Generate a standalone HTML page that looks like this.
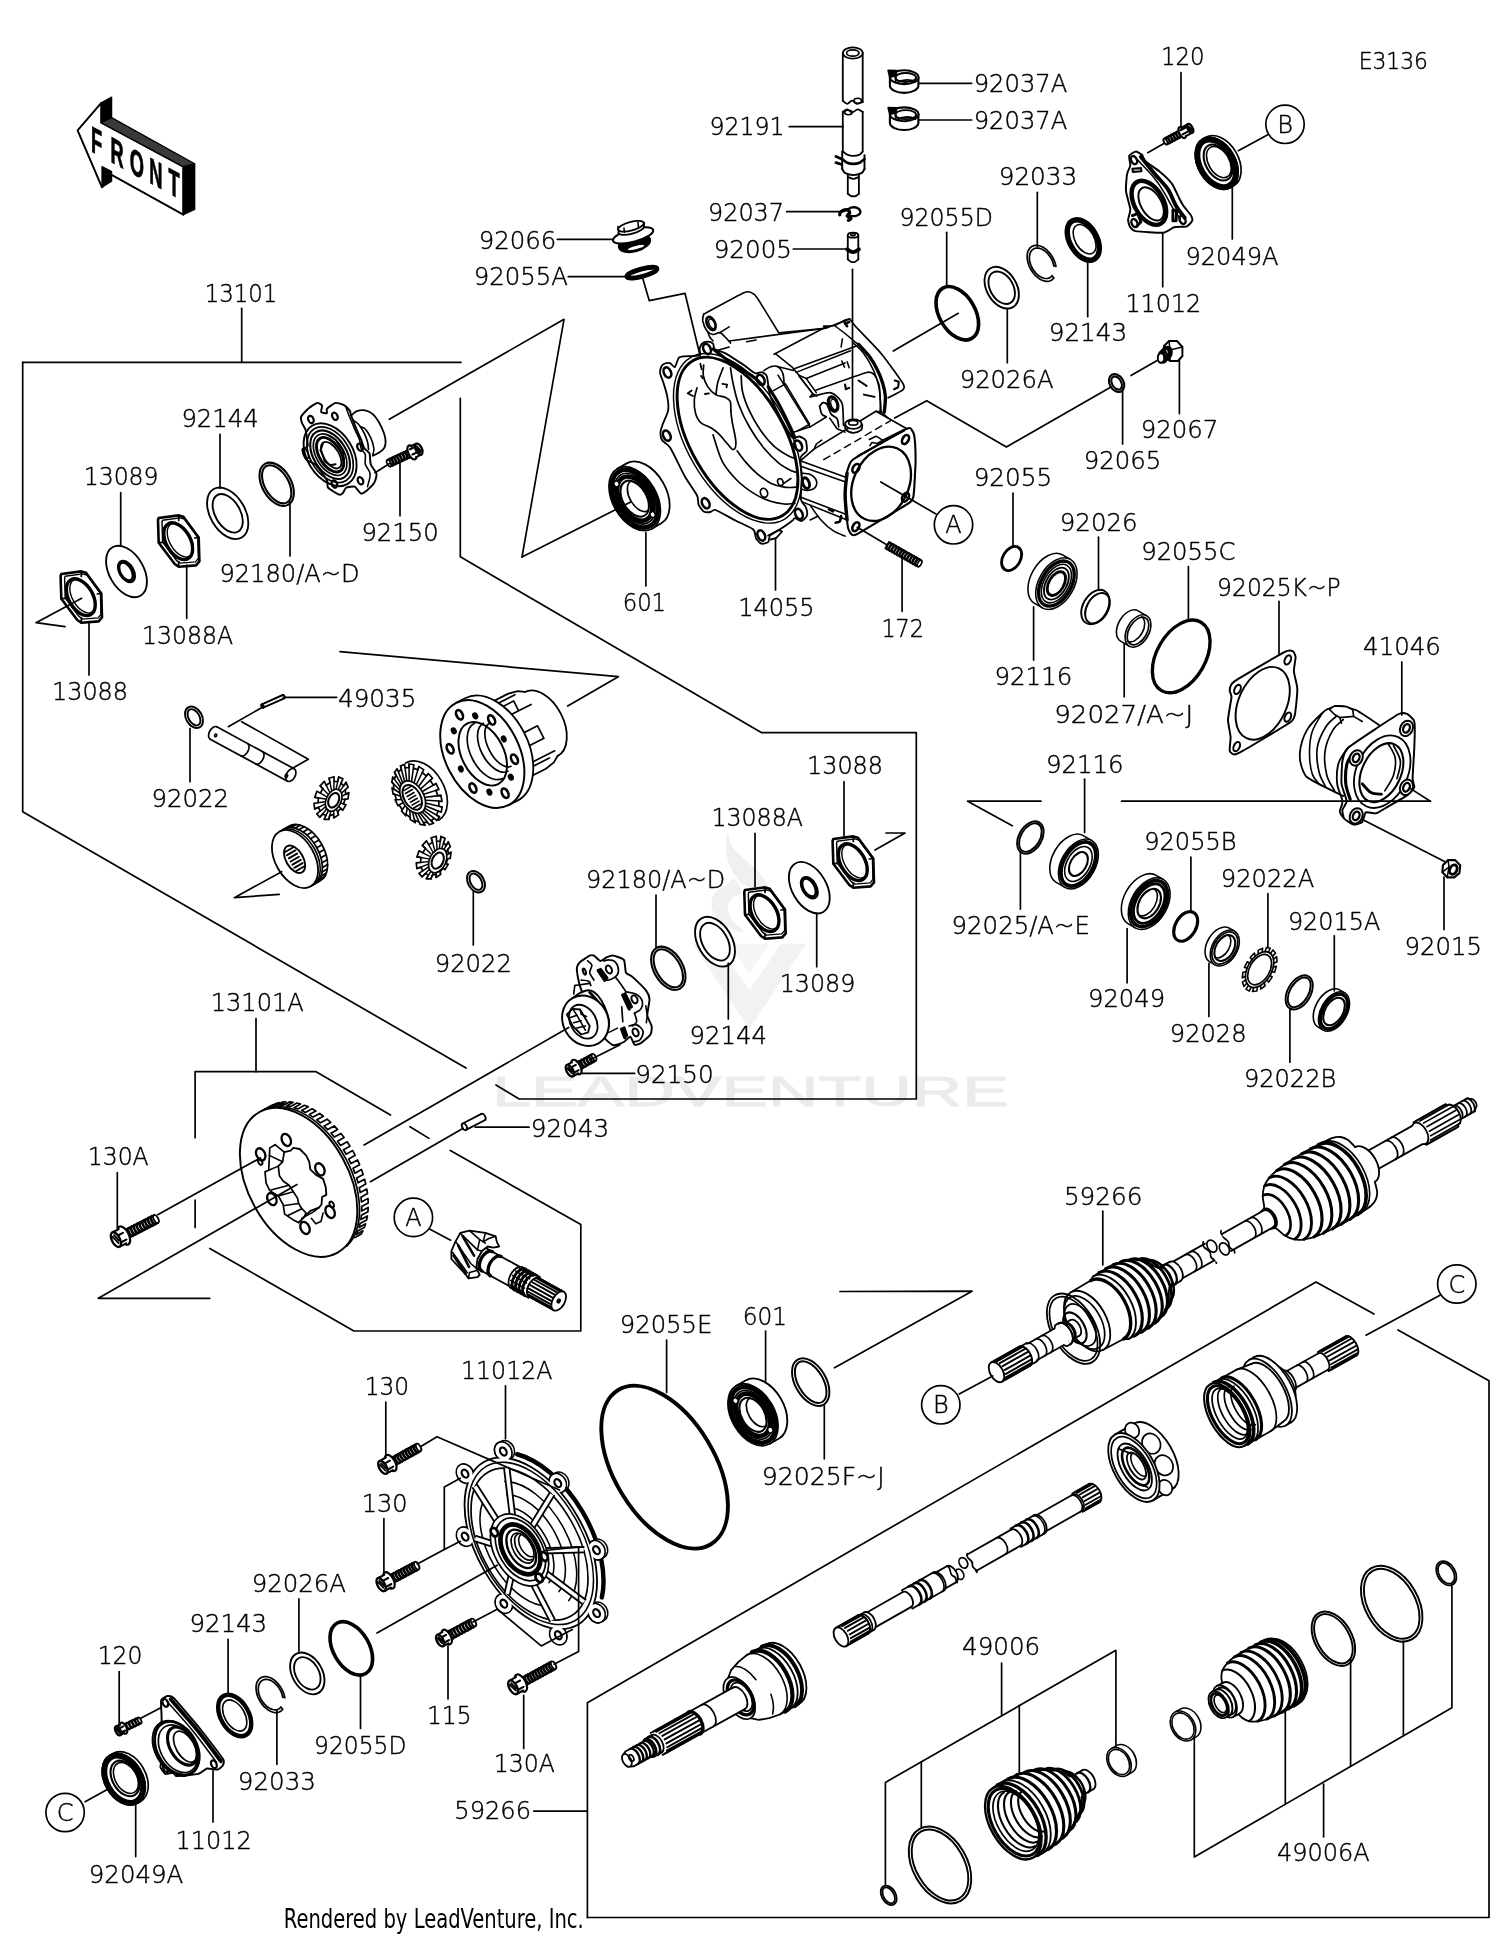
<!DOCTYPE html>
<html><head><meta charset="utf-8"><title>Parts diagram E3136</title>
<style>
html,body{margin:0;padding:0;background:#fff}
svg{display:block;filter:grayscale(1)}
svg text{fill:#000;stroke:none}
svg text.lb{stroke:#000;stroke-width:0.45px}
</style></head><body>
<svg width="1500" height="1938" viewBox="0 0 1500 1938" fill="none" stroke="#000" stroke-linecap="round" stroke-linejoin="round" font-family="'DejaVu Sans Light','DejaVu Sans','Liberation Sans',sans-serif" font-weight="200">
<rect x="0" y="0" width="1500" height="1938" fill="#fff" stroke="none"/>
<g stroke="none" fill="#ececec">
<text x="750.5" y="1105.5" font-size="42.6" text-anchor="middle" font-family="'Liberation Sans',sans-serif" font-weight="400" textLength="517" lengthAdjust="spacingAndGlyphs" style="fill:#ebebeb;stroke:#ebebeb;stroke-width:0.9px">LEADVENTURE</text>
<path d="M727.7,832.5 C728.6,832.1 729.0,841.8 731.7,846.1 C734.3,850.5 739.0,854.1 743.6,858.6 C748.2,863.2 754.9,868.1 759.5,873.4 C764.0,878.7 768.3,884.9 770.8,890.4 C773.4,895.9 774.8,901.4 774.8,906.3 C774.8,911.2 773.0,916.3 770.8,919.9 C768.7,923.5 764.8,927.5 761.8,927.9 C758.7,928.3 753.1,924.7 752.7,922.2 C752.3,919.7 758.4,916.9 759.5,913.1 C760.6,909.3 761.0,903.7 759.5,899.5 C758.0,895.3 753.4,890.8 750.4,888.1 C747.4,885.5 744.0,885.9 741.3,883.6 C738.7,881.3 736.6,877.9 734.5,874.5 C732.4,871.1 730.2,867.5 728.8,863.2 C727.4,858.8 726.2,853.5 726.0,848.4 C725.8,843.3 726.7,832.9 727.7,832.5Z M734.5,879.1 C731.9,877.9 728.8,883.4 725.4,885.9 C722.0,888.3 716.3,890.2 714.1,893.8 C711.8,897.4 711.0,903.1 711.8,907.4 C712.6,911.8 715.4,916.3 718.6,919.9 C721.8,923.5 726.9,927.1 731.1,929.0 C735.3,930.9 743.4,932.8 743.6,931.3 C743.8,929.8 734.9,923.9 732.2,919.9 C729.6,916.0 727.5,911.2 727.7,907.4 C727.9,903.7 731.1,899.7 733.4,897.2 C735.6,894.8 741.1,895.7 741.3,892.7 C741.5,889.6 737.2,880.2 734.5,879.1Z" fill="#f0f0f0"/>
<path d="M692.5,943.8 L717.5,943.8 L749.3,990.3 L781.1,943.8 L806.1,943.8 L749.3,1028.9Z" fill="#f2f2f2"/>
<path d="M728.8,943.8 L769.7,943.8 L749.3,973.3Z" fill="#f5f5f5"/>
</g>
<g transform="translate(227.7 513.3) rotate(-30)" >
<ellipse cx="0.0" cy="0.0" rx="17.5" ry="28.0" stroke-width="1.89" fill="#fff"/>
<ellipse cx="0.0" cy="0.0" rx="12.5" ry="21.0" stroke-width="1.89" fill="none"/>
</g>
<g transform="translate(276.7 484.3) rotate(-30)" >
<ellipse cx="0.0" cy="0.0" rx="14.5" ry="23.5" stroke-width="2.09" fill="none"/>
<ellipse cx="0.0" cy="0.0" rx="11.9" ry="20.9" stroke-width="2.09" fill="none"/>
</g>
<g transform="translate(126.5 571.5) rotate(-30)" >
<ellipse cx="0.0" cy="0.0" rx="17.2" ry="28.0" stroke-width="1.89" fill="#fff"/>
<ellipse cx="0.0" cy="0.0" rx="7.2" ry="11.8" stroke-width="1.89" fill="none"/>
</g>
<g transform="translate(126.0 571.5) rotate(-30)" >
<ellipse cx="0.0" cy="0.0" rx="5.8" ry="10.0" stroke-width="2.86" fill="none"/>
</g>
<g transform="translate(668.3 968.3) rotate(-30)" >
<ellipse cx="0.0" cy="0.0" rx="14.5" ry="23.5" stroke-width="2.09" fill="none"/>
<ellipse cx="0.0" cy="0.0" rx="11.9" ry="20.9" stroke-width="2.09" fill="none"/>
</g>
<g transform="translate(715.0 941.7) rotate(-30)" >
<ellipse cx="0.0" cy="0.0" rx="17.0" ry="27.0" stroke-width="1.89" fill="#fff"/>
<ellipse cx="0.0" cy="0.0" rx="12.5" ry="20.5" stroke-width="1.89" fill="none"/>
</g>
<g transform="translate(809.3 887.7) rotate(-30)" >
<ellipse cx="0.0" cy="0.0" rx="17.2" ry="28.0" stroke-width="1.89" fill="#fff"/>
<ellipse cx="0.0" cy="0.0" rx="7.2" ry="11.8" stroke-width="1.89" fill="none"/>
</g>
<g transform="translate(809.0 887.5) rotate(-30)" >
<ellipse cx="0.0" cy="0.0" rx="5.8" ry="10.0" stroke-width="2.86" fill="none"/>
</g>
<g transform="translate(957.3 313.3) rotate(-30)" >
<ellipse cx="0.0" cy="0.0" rx="18.0" ry="29.0" stroke-width="3.64" fill="none"/>
</g>
<g transform="translate(1001.7 287.7) rotate(-30)" >
<ellipse cx="0.0" cy="0.0" rx="15.0" ry="22.5" stroke-width="1.89" fill="#fff"/>
<ellipse cx="0.0" cy="0.0" rx="11.5" ry="17.5" stroke-width="1.89" fill="none"/>
</g>
<g transform="translate(1083.3 240.0) rotate(-30)" >
<ellipse cx="0.0" cy="0.0" rx="13.5" ry="22.0" stroke-width="5.46" fill="none"/>
</g>
<g transform="translate(1083.3 240.0) rotate(-30)" >
<ellipse cx="1.5" cy="0.0" rx="9.5" ry="16.0" stroke-width="1.56" fill="none"/>
</g>
<g transform="translate(1011.6 558.5) rotate(30)" >
<ellipse cx="0.0" cy="0.0" rx="8.8" ry="13.0" stroke-width="2.86" fill="none"/>
</g>
<g transform="translate(1056.4 583.6) rotate(30)" >
<path d="M0,-28.0 L-9.0,-28.0 A17.6,28.0 0 0 0 -9.0,28.0 L0,28.0" stroke-width="1.56" fill="#fff"/>
<ellipse cx="0.0" cy="0.0" rx="17.6" ry="28.0" stroke-width="1.56" fill="#fff"/>
<ellipse cx="0.0" cy="0.0" rx="15.0" ry="24.5" stroke-width="3.38" fill="none"/>
<ellipse cx="0.0" cy="0.0" rx="12.5" ry="21.0" stroke-width="1.56" fill="none"/>
<ellipse cx="0.0" cy="0.0" rx="10.3" ry="17.5" stroke-width="1.82" fill="none"/>
<ellipse cx="0.0" cy="0.0" rx="7.5" ry="13.0" stroke-width="2.86" fill="none"/>
</g>
<g transform="translate(1096.4 607.6) rotate(30)" >
<ellipse cx="-1.2" cy="0.0" rx="12.3" ry="18.5" stroke-width="1.95" fill="none"/>
<ellipse cx="1.2" cy="0.0" rx="10.6" ry="16.5" stroke-width="1.95" fill="none"/>
</g>
<g transform="translate(1138.0 631.0) rotate(30)" >
<path d="M0,-17.5 L-10.0,-17.5 A11.0,17.5 0 0 0 -10.0,17.5 L0,17.5" stroke-width="1.56" fill="#fff"/>
<ellipse cx="0.0" cy="0.0" rx="11.0" ry="17.5" stroke-width="1.56" fill="#fff"/>
<ellipse cx="0.0" cy="0.0" rx="9.0" ry="15.0" stroke-width="1.69" fill="none"/>
</g>
<g transform="translate(1138.0 631.0) rotate(30)" >
<path d="M-4.0,-14.0 A8.5,14.0 0 0 1 -4.0,14.0" stroke-width="1.56"/>
</g>
<g transform="translate(1181.2 656.4) rotate(30)" >
<ellipse cx="0.0" cy="0.0" rx="24.3" ry="39.5" stroke-width="3.38" fill="none"/>
</g>
<g transform="translate(1030.4 837.6) rotate(30)" >
<ellipse cx="0.0" cy="0.0" rx="11.5" ry="17.5" stroke-width="1.94" fill="none"/>
<ellipse cx="0.0" cy="0.0" rx="9.5" ry="15.5" stroke-width="1.94" fill="none"/>
</g>
<g transform="translate(1078.4 864.0) rotate(30)" >
<path d="M0,-27.0 L-10.0,-27.0 A17.0,27.0 0 0 0 -10.0,27.0 L0,27.0" stroke-width="1.56" fill="#fff"/>
<ellipse cx="0.0" cy="0.0" rx="17.0" ry="27.0" stroke-width="1.56" fill="#fff"/>
<ellipse cx="0.0" cy="0.0" rx="14.8" ry="24.0" stroke-width="3.90" fill="none"/>
<ellipse cx="0.0" cy="0.0" rx="11.5" ry="19.0" stroke-width="1.56" fill="none"/>
<ellipse cx="0.0" cy="0.0" rx="8.0" ry="13.0" stroke-width="2.08" fill="none"/>
</g>
<g transform="translate(1149.2 903.6) rotate(30)" >
<path d="M0,-28.0 L-8.0,-28.0 A18.0,28.0 0 0 0 -8.0,28.0 L0,28.0" stroke-width="1.56" fill="#fff"/>
<ellipse cx="0.0" cy="0.0" rx="18.0" ry="28.0" stroke-width="1.56" fill="#fff"/>
<ellipse cx="0.0" cy="0.0" rx="15.8" ry="25.0" stroke-width="3.64" fill="none"/>
<ellipse cx="0.0" cy="0.0" rx="13.3" ry="21.5" stroke-width="2.86" fill="none"/>
<ellipse cx="0.0" cy="0.0" rx="10.0" ry="16.0" stroke-width="2.08" fill="none"/>
</g>
<g transform="translate(1149.2 903.6) rotate(30)" >
<path d="M-3.0,-15.0 A9.0,15.0 0 0 1 -3.0,15.0" stroke-width="1.56"/>
</g>
<g transform="translate(1185.7 926.4) rotate(30)" >
<ellipse cx="0.0" cy="0.0" rx="10.3" ry="16.0" stroke-width="3.12" fill="none"/>
</g>
<g transform="translate(1224.8 948.0) rotate(30)" >
<path d="M0,-19.5 L-6.0,-19.5 A12.5,19.5 0 0 0 -6.0,19.5 L0,19.5" stroke-width="1.56" fill="#fff"/>
<ellipse cx="0.0" cy="0.0" rx="12.5" ry="19.5" stroke-width="1.56" fill="#fff"/>
<ellipse cx="0.0" cy="0.0" rx="11.0" ry="17.5" stroke-width="1.69" fill="none"/>
<ellipse cx="0.0" cy="0.0" rx="9.0" ry="14.0" stroke-width="2.08" fill="none"/>
</g>
<g transform="translate(1224.8 948.0) rotate(30)" >
<path d="M-4.0,-13.0 A8.0,13.0 0 0 1 -4.0,13.0" stroke-width="1.56"/>
</g>
<g transform="translate(1299.2 992.4) rotate(30)" >
<ellipse cx="0.0" cy="0.0" rx="11.5" ry="18.5" stroke-width="1.94" fill="none"/>
<ellipse cx="0.0" cy="0.0" rx="9.3" ry="16.3" stroke-width="1.94" fill="none"/>
</g>
<g transform="translate(1334.0 1011.5) rotate(30)" >
<path d="M0,-21.5 L-6.0,-21.5 A13.0,21.5 0 0 0 -6.0,21.5 L0,21.5" stroke-width="1.56" fill="#fff"/>
<ellipse cx="0.0" cy="0.0" rx="13.0" ry="21.5" stroke-width="1.56" fill="#fff"/>
<ellipse cx="0.0" cy="0.0" rx="11.3" ry="19.0" stroke-width="3.38" fill="none"/>
<ellipse cx="0.0" cy="0.0" rx="9.0" ry="15.0" stroke-width="2.08" fill="none"/>
</g>
<g transform="translate(1259.6 969.6) rotate(30)" >
<path d="M11.9,0.0 L14.6,0.0 L14.1,6.3 L11.5,5.1M10.5,9.1 L12.9,11.2 L10.7,16.3 L8.7,13.3M6.7,16.0 L8.3,19.8 L4.8,22.6 L3.9,18.4M1.4,19.4 L1.8,23.8 L-2.1,23.7 L-1.7,19.3M-4.2,18.2 L-5.2,22.4 L-8.6,19.4 L-7.0,15.8M-8.9,12.9 L-10.9,15.9 L-13.1,10.6 L-10.6,8.6M-11.5,4.7 L-14.2,5.7 L-14.6,-0.6 L-11.9,-0.5M-11.5,-4.7 L-14.2,-5.7 L-12.8,-11.7 L-10.4,-9.5M-8.9,-12.9 L-10.9,-15.9 L-8.0,-20.1 L-6.5,-16.3M-4.2,-18.2 L-5.2,-22.4 L-1.4,-23.9 L-1.1,-19.4M1.4,-19.4 L1.8,-23.8 L5.5,-22.2 L4.5,-18.1M6.7,-16.0 L8.3,-19.8 L11.2,-15.5 L9.1,-12.6M10.5,-9.1 L12.9,-11.2 L14.3,-5.2 L11.6,-4.2" stroke-width="1.56"/>
<ellipse cx="0.0" cy="0.0" rx="11.9" ry="19.5" stroke-width="1.69" fill="none"/>
<ellipse cx="0.0" cy="0.0" rx="10.0" ry="16.5" stroke-width="1.69" fill="none"/>
</g>
<g transform="translate(351.3 1648.4) rotate(-30)" >
<ellipse cx="0.0" cy="0.0" rx="18.0" ry="29.0" stroke-width="3.64" fill="none"/>
</g>
<g transform="translate(307.3 1673.4) rotate(-30)" >
<ellipse cx="0.0" cy="0.0" rx="15.0" ry="22.5" stroke-width="1.89" fill="#fff"/>
<ellipse cx="0.0" cy="0.0" rx="11.5" ry="17.5" stroke-width="1.89" fill="none"/>
</g>
<g transform="translate(234.7 1715.5) rotate(-30)" >
<ellipse cx="0.0" cy="0.0" rx="14.0" ry="22.5" stroke-width="4.42" fill="none"/>
</g>
<g transform="translate(234.7 1715.5) rotate(-30)" >
<ellipse cx="0.0" cy="0.0" rx="10.0" ry="17.0" stroke-width="1.56" fill="none"/>
</g>
<g transform="translate(810.7 1382.1) rotate(-30)" >
<ellipse cx="0.0" cy="0.0" rx="15.5" ry="26.0" stroke-width="1.94" fill="none"/>
<ellipse cx="0.0" cy="0.0" rx="12.5" ry="23.0" stroke-width="1.94" fill="none"/>
</g>
<g transform="translate(888.7 1895.3) rotate(-30)" >
<ellipse cx="0.0" cy="0.0" rx="7.0" ry="10.5" stroke-width="1.79" fill="none"/>
<ellipse cx="0.0" cy="0.0" rx="5.2" ry="8.7" stroke-width="1.79" fill="none"/>
</g>
<g transform="translate(940.0 1865.0) rotate(-30)" >
<ellipse cx="0.0" cy="0.0" rx="27.0" ry="41.5" stroke-width="1.94" fill="none"/>
<ellipse cx="0.0" cy="0.0" rx="24.0" ry="38.5" stroke-width="1.94" fill="none"/>
</g>
<g transform="translate(1333.4 1638.7) rotate(-30)" >
<ellipse cx="0.0" cy="0.0" rx="18.5" ry="29.5" stroke-width="1.94" fill="none"/>
<ellipse cx="0.0" cy="0.0" rx="16.0" ry="27.0" stroke-width="1.94" fill="none"/>
</g>
<g transform="translate(1391.7 1603.7) rotate(-30)" >
<ellipse cx="0.0" cy="0.0" rx="26.5" ry="41.0" stroke-width="1.94" fill="none"/>
<ellipse cx="0.0" cy="0.0" rx="23.5" ry="38.0" stroke-width="1.94" fill="none"/>
</g>
<g transform="translate(1446.3 1573.3) rotate(-30)" >
<ellipse cx="0.0" cy="0.0" rx="9.0" ry="13.0" stroke-width="1.79" fill="none"/>
<ellipse cx="0.0" cy="0.0" rx="7.2" ry="11.2" stroke-width="1.79" fill="none"/>
</g>
<g transform="translate(1119.0 1762.0) rotate(-30)" >
<path d="M0,-15.5 L6.0,-15.5 A11.0,15.5 0 0 1 6.0,15.5 L0,15.5" stroke-width="1.56" fill="#fff"/>
<ellipse cx="0.0" cy="0.0" rx="11.0" ry="15.5" stroke-width="1.56" fill="#fff"/>
<ellipse cx="0.0" cy="0.0" rx="9.5" ry="13.5" stroke-width="1.56" fill="none"/>
</g>
<g transform="translate(1183.0 1726.0) rotate(-30)" >
<path d="M0,-16.0 L6.0,-16.0 A11.5,16.0 0 0 1 6.0,16.0 L0,16.0" stroke-width="1.56" fill="#fff"/>
<ellipse cx="0.0" cy="0.0" rx="11.5" ry="16.0" stroke-width="1.56" fill="#fff"/>
<ellipse cx="0.0" cy="0.0" rx="10.0" ry="14.0" stroke-width="1.56" fill="none"/>
</g>
<g transform="translate(194.0 717.3) rotate(-30)" >
<ellipse cx="0.0" cy="0.0" rx="8.0" ry="11.5" stroke-width="1.94" fill="none"/>
<ellipse cx="0.0" cy="0.0" rx="5.4" ry="8.9" stroke-width="1.94" fill="none"/>
</g>
<g transform="translate(476.0 881.7) rotate(-30)" >
<ellipse cx="0.0" cy="0.0" rx="8.0" ry="11.5" stroke-width="1.94" fill="none"/>
<ellipse cx="0.0" cy="0.0" rx="5.4" ry="8.9" stroke-width="1.94" fill="none"/>
</g>
<g transform="translate(1116.6 383.0) rotate(-30)" >
<ellipse cx="0.0" cy="0.0" rx="7.0" ry="9.5" stroke-width="2.09" fill="none"/>
<ellipse cx="0.0" cy="0.0" rx="4.6" ry="7.1" stroke-width="2.09" fill="none"/>
</g>
<g transform="translate(1041.7 263.3) rotate(-30)" >
<path d="M3.2,18.8 L1.6,19.3 L-0.2,19.5 L-1.9,19.3 L-3.6,18.7 L-5.2,17.8 L-6.7,16.5 L-8.1,14.9 L-9.3,13.0 L-10.3,10.9 L-11.2,8.6 L-11.9,6.1 L-12.3,3.6 L-12.5,0.9 L-12.4,-1.8 L-12.2,-4.4 L-11.7,-7.0 L-10.9,-9.4 L-10.0,-11.7 L-8.9,-13.7 L-7.6,-15.5 L-6.2,-17.0 L-4.6,-18.1 L-3.0,-18.9 L-1.3,-19.4 L0.4,-19.5 L2.1,-19.2 L3.8,-18.6 L5.4,-17.6 L6.9,-16.3 L8.2,-14.7 L9.5,-12.8 L10.5,-10.6 L11.3,-8.3 L11.9,-5.8 L12.3,-3.2 L12.5,-0.5 L12.4,2.2 L12.1,4.8 L11.6,7.3 L10.8,9.8M2.7,15.9 L1.3,16.4 L-0.1,16.5 L-1.6,16.3 L-3.0,15.8 L-4.4,15.0 L-5.6,14.0 L-6.8,12.6 L-7.9,11.0 L-8.8,9.3 L-9.5,7.3 L-10.0,5.2 L-10.4,3.0 L-10.6,0.8 L-10.5,-1.5 L-10.3,-3.7 L-9.9,-5.9 L-9.3,-8.0 L-8.5,-9.9 L-7.5,-11.6 L-6.4,-13.1 L-5.2,-14.3 L-3.9,-15.3 L-2.5,-16.0 L-1.1,-16.4 L0.3,-16.5 L1.8,-16.3 L3.2,-15.7 L4.6,-14.9 L5.8,-13.8 L7.0,-12.4 L8.0,-10.8 L8.9,-9.0 L9.6,-7.0 L10.1,-4.9 L10.4,-2.7 L10.6,-0.4 L10.5,1.8 L10.3,4.1 L9.8,6.2 L9.2,8.2M3.2,18.8 L2.7,15.9 M10.8,9.8 L9.2,8.2" stroke-width="1.69"/>
</g>
<g transform="translate(270.6 1694.6) rotate(-30)" >
<path d="M3.2,18.8 L1.6,19.3 L-0.2,19.5 L-1.9,19.3 L-3.6,18.7 L-5.2,17.8 L-6.7,16.5 L-8.1,14.9 L-9.3,13.0 L-10.3,10.9 L-11.2,8.6 L-11.9,6.1 L-12.3,3.6 L-12.5,0.9 L-12.4,-1.8 L-12.2,-4.4 L-11.7,-7.0 L-10.9,-9.4 L-10.0,-11.7 L-8.9,-13.7 L-7.6,-15.5 L-6.2,-17.0 L-4.6,-18.1 L-3.0,-18.9 L-1.3,-19.4 L0.4,-19.5 L2.1,-19.2 L3.8,-18.6 L5.4,-17.6 L6.9,-16.3 L8.2,-14.7 L9.5,-12.8 L10.5,-10.6 L11.3,-8.3 L11.9,-5.8 L12.3,-3.2 L12.5,-0.5 L12.4,2.2 L12.1,4.8 L11.6,7.3 L10.8,9.8M2.7,15.9 L1.3,16.4 L-0.1,16.5 L-1.6,16.3 L-3.0,15.8 L-4.4,15.0 L-5.6,14.0 L-6.8,12.6 L-7.9,11.0 L-8.8,9.3 L-9.5,7.3 L-10.0,5.2 L-10.4,3.0 L-10.6,0.8 L-10.5,-1.5 L-10.3,-3.7 L-9.9,-5.9 L-9.3,-8.0 L-8.5,-9.9 L-7.5,-11.6 L-6.4,-13.1 L-5.2,-14.3 L-3.9,-15.3 L-2.5,-16.0 L-1.1,-16.4 L0.3,-16.5 L1.8,-16.3 L3.2,-15.7 L4.6,-14.9 L5.8,-13.8 L7.0,-12.4 L8.0,-10.8 L8.9,-9.0 L9.6,-7.0 L10.1,-4.9 L10.4,-2.7 L10.6,-0.4 L10.5,1.8 L10.3,4.1 L9.8,6.2 L9.2,8.2M3.2,18.8 L2.7,15.9 M10.8,9.8 L9.2,8.2" stroke-width="1.69"/>
</g>
<path d="M77.6,130.3 L101.3,102.9 L101.3,122.7 L183.3,166.7 L183.3,214.7 L111.6,174.9 L102.0,187.3Z" stroke-width="1.95" fill="#fff" />
<path d="M101.3,102.9 L111.6,97.1 L111.6,117.6 L101.3,122.7Z" stroke-width="1.30" fill="#000" />
<path d="M183.3,166.7 L194.7,163.7 L194.7,209.3 L183.3,214.7Z" stroke-width="1.30" fill="#000" />
<path d="M102.0,166.7 L111.6,171.7 L111.6,181.3 L102.0,187.3Z" stroke-width="1.30" fill="#000" />
<path d="M101.3,122.7 L111.6,117.6 L194.7,163.7 L183.3,166.7Z" stroke-width="1.30" fill="#3a3a3a" />
<g transform="matrix(1 0.537 0 1 91 124.8)" font-family="'Liberation Sans',sans-serif" font-weight="700" stroke="none">
<text x="0.0" y="26.5" font-size="36.5" style="stroke:#000;stroke-width:0.9px" transform="translate(0.0 0) scale(0.5 1) translate(0.0 0)">F</text>
<text x="19.4" y="26.5" font-size="36.5" style="stroke:#000;stroke-width:0.9px" transform="translate(19.4 0) scale(0.5 1) translate(-19.4 0)">R</text>
<text x="38.8" y="26.5" font-size="36.5" style="stroke:#000;stroke-width:0.9px" transform="translate(38.8 0) scale(0.5 1) translate(-38.8 0)">O</text>
<text x="58.2" y="26.5" font-size="36.5" style="stroke:#000;stroke-width:0.9px" transform="translate(58.2 0) scale(0.5 1) translate(-58.2 0)">N</text>
<text x="77.6" y="26.5" font-size="36.5" style="stroke:#000;stroke-width:0.9px" transform="translate(77.6 0) scale(0.5 1) translate(-77.6 0)">T</text>
</g>
<path d="M703.7,314.1 C707.7,312.0 739.1,294.8 743.9,292.7 C748.7,290.6 750.6,292.4 752.0,293.0 C753.3,293.5 754.6,294.1 757.3,298.0 C760.0,302.0 776.6,329.4 778.8,332.9" stroke-width="1.56" fill="none" />
<path d="M778.8,332.9 L825.7,328.2 L849.9,318.8" stroke-width="1.56" fill="none" />
<path d="M729.2,341.0 L825.7,328.2" stroke-width="1.56" fill="none" />
<path d="M746.6,341.7 L756.0,339.9" stroke-width="1.56" fill="none" />
<path d="M703.7,314.1 C703.5,315.3 702.2,318.1 702.7,320.9 C703.3,323.7 705.3,328.6 707.0,330.9 C708.7,333.2 710.9,334.2 713.1,334.5 C715.2,334.8 717.7,332.3 719.8,332.7 C721.8,333.1 723.3,335.2 725.1,337.0 C726.9,338.7 729.6,342.0 730.5,343.0" stroke-width="1.69" fill="none" />
<path d="M707.7,331.6 C708.0,332.5 708.8,335.4 709.7,337.0 C710.6,338.5 712.5,340.3 713.1,341.0" stroke-width="1.56" fill="none" />
<ellipse cx="711.0" cy="323.5" rx="4.0" ry="7.0" fill="none" stroke="#000" stroke-width="2.60" transform="rotate(-25 711.0 323.5)" />
<ellipse cx="712.0" cy="323.8" rx="2.7" ry="5.1" fill="none" stroke="#000" stroke-width="1.43" transform="rotate(-25 712.0 323.8)" />
<path d="M719.8,332.7 L729.2,326.9" stroke-width="1.56" fill="none" />
<path d="M717.1,350.4 L729.2,347.0" stroke-width="1.56" fill="none" />
<path d="M823.7,326.2 C824.7,326.1 832.2,326.1 834.4,325.5 C836.5,324.9 843.5,320.7 845.1,320.1 C846.7,319.6 849.4,319.2 850.5,319.9 C851.6,320.5 852.8,323.5 855.9,326.8 C858.9,330.2 876.7,348.0 881.3,353.7 C886.0,359.3 900.6,379.6 902.8,383.2 C905.0,386.8 904.6,388.1 903.1,389.6 C901.6,391.1 889.6,397.1 888.1,397.9" stroke-width="1.69" fill="none" />
<path d="M858.5,344.3 C860.3,346.3 866.1,352.1 869.3,356.3 C872.4,360.6 875.1,365.3 877.3,369.8 C879.6,374.2 881.3,378.7 882.7,383.2 C884.0,387.6 885.1,391.8 885.4,396.6 C885.6,401.4 884.5,409.4 884.3,412.0" stroke-width="3.38" fill="none" />
<path d="M853.2,342.9 C855.0,344.7 860.6,349.2 863.9,353.7 C867.3,358.1 870.8,364.4 873.3,369.8 C875.8,375.1 877.5,380.5 878.7,385.9 C879.8,391.2 880.1,397.5 880.3,402.0 C880.5,406.4 880.1,410.9 880.0,412.7" stroke-width="1.56" fill="none" />
<path d="M834.4,325.5 L845.1,333.5 L857.9,344.3" stroke-width="1.56" fill="none" />
<path d="M774.0,354.3 L826.3,326.8" stroke-width="1.56" fill="none" />
<path d="M793.5,369.1 L859.2,344.9" stroke-width="1.56" fill="none" />
<path d="M796.2,372.4 L850.5,350.7" stroke-width="1.56" fill="none" />
<path d="M806.2,378.5 L845.1,363.1" stroke-width="1.56" fill="none" />
<path d="M815.6,390.2 C819.9,388.7 861.7,373.7 866.6,372.4 C871.5,371.2 873.6,374.0 874.6,375.1 C875.7,376.2 878.8,382.8 879.3,385.9 C879.9,388.9 880.9,409.8 881.1,412.0" stroke-width="1.56" fill="none" />
<path d="M775.4,353.7 L792.1,367.1 L798.8,375.1 L812.9,393.9 L810.2,396.6" stroke-width="1.56" fill="none" />
<path d="M798.8,375.1 L806.2,378.5 L816.3,392.6" stroke-width="1.56" fill="none" />
<path d="M894.8,380.5 L898.8,381.8 L898.1,387.2 L894.1,389.2" stroke-width="2.08" fill="none" />
<path d="M842.4,338.9 L841.1,347.0" stroke-width="1.56" fill="none" />
<path d="M841.8,361.0 L844.5,367.1" stroke-width="1.56" fill="none" />
<path d="M847.1,361.7 L849.2,367.7" stroke-width="1.56" fill="none" />
<path d="M845.1,384.5 L845.8,389.2 L849.2,387.9" stroke-width="2.08" fill="none" />
<path d="M858.5,380.5 L866.6,385.9" stroke-width="1.95" fill="none" />
<path d="M863.9,394.6 L874.6,396.9" stroke-width="1.95" fill="none" />
<path d="M844.5,322.1 L847.1,326.2" stroke-width="2.60" fill="none" />
<path d="M845.1,323.5 L849.2,322.1" stroke-width="2.60" fill="none" />
<path d="M810.2,396.9 C812.4,396.4 825.9,392.6 829.0,392.6 C832.2,392.5 835.5,395.2 837.1,396.6 C838.6,398.0 841.7,401.3 842.4,404.6 C843.2,408.0 843.4,423.0 843.5,425.4" stroke-width="1.69" fill="none" />
<path d="M819.6,406.0 C820.2,405.4 821.8,402.9 823.0,402.6 C824.2,402.4 825.7,402.7 827.0,404.6 C828.4,406.5 829.4,411.7 831.0,414.0 C832.7,416.4 835.8,416.6 837.1,418.7 C838.4,420.9 838.4,425.4 838.7,426.8" stroke-width="1.69" fill="none" />
<path d="M819.6,406.0 C820.0,407.3 820.5,412.2 821.7,414.0 C822.8,415.8 825.6,416.3 826.3,416.7" stroke-width="1.69" fill="none" />
<ellipse cx="833.1" cy="404.0" rx="4.4" ry="7.4" fill="none" stroke="#000" stroke-width="3.12" transform="rotate(-20 833.1 404.0)" />
<ellipse cx="834.1" cy="404.4" rx="3.0" ry="5.4" fill="none" stroke="#000" stroke-width="1.43" transform="rotate(-20 834.1 404.4)" />
<path d="M794.1,432.1 L810.2,426.8 L826.3,417.0" stroke-width="1.56" fill="none" />
<path d="M810.2,426.8 L778.0,375.1" stroke-width="1.56" fill="none" />
<path d="M829.7,418.1 L837.1,428.8 L845.1,432.1" stroke-width="1.56" fill="none" />
<path d="M764.0,370.5 C765.2,369.9 768.5,367.4 770.7,366.7 C773.0,366.1 775.4,365.4 777.4,366.5 C779.5,367.5 781.7,370.3 782.8,373.2 C783.9,376.1 783.9,382.1 784.2,383.9" stroke-width="1.69" fill="none" />
<path d="M773.4,390.6 L785.5,383.9 L809.6,424.2 L797.6,430.9" stroke-width="1.56" fill="none" />
<path d="M798.9,375.9 L813.0,394.0 L817.0,396.0" stroke-width="1.56" fill="none" />
<path d="M777.4,366.5 L793.5,370.5" stroke-width="1.56" fill="none" />
<path d="M800.9,460.3 L814.3,448.9 L876.0,411.3 L906.8,428.8" stroke-width="1.69" fill="none" />
<path d="M814.3,448.9 C814.6,448.1 815.1,445.7 816.3,444.2 C817.5,442.8 820.8,440.9 821.7,440.2" stroke-width="1.56" fill="none" />
<path d="M876.0,411.3 L881.3,412.0 L888.1,418.1" stroke-width="1.56" fill="none" />
<path d="M800.9,461.0 L849.2,478.4" stroke-width="1.56" fill="none" />
<path d="M801.5,466.4 L847.8,482.7" stroke-width="1.56" fill="none" />
<path d="M800.9,497.2 L846.5,514.6" stroke-width="1.56" fill="none" />
<path d="M802.2,501.9 L847.1,520.0" stroke-width="1.56" fill="none" />
<path d="M823.7,459.6 L890.7,420.7" stroke-width="1.43" fill="none"  stroke-dasharray="7 5"/>
<path d="M869.3,439.5 L876.0,436.2 L882.7,440.2 L877.3,443.5 L872.0,442.5 L869.9,445.6" stroke-width="1.56" fill="none" />
<path d="M882.7,440.2 L904.2,429.5" stroke-width="1.56" fill="none" />
<path d="M810.2,520.0 L818.3,516.0" stroke-width="1.56" fill="none" />
<path d="M810.2,505.3 C812.0,507.7 817.2,515.8 821.0,520.0 C824.8,524.3 829.0,528.1 833.1,530.7 C837.1,533.4 843.1,535.2 845.1,536.1" stroke-width="1.56" fill="none" />
<path d="M829.0,509.3 L833.1,511.3" stroke-width="2.60" fill="none" />
<path d="M835.7,522.7 C836.4,522.5 838.9,522.5 839.8,521.4 C840.7,520.2 840.9,516.9 841.1,516.0" stroke-width="2.60" fill="none" />
<ellipse cx="853.4" cy="424.1" rx="8.3" ry="4.7" fill="#fff" stroke="#000" stroke-width="1.82" />
<ellipse cx="853.2" cy="422.8" rx="4.6" ry="2.4" fill="none" stroke="#000" stroke-width="1.69" />
<path d="M845.1,424.8 C845.2,425.5 844.5,428.1 845.8,429.5 C847.1,430.8 850.6,432.7 853.2,432.8 C855.7,432.9 859.7,431.2 861.2,429.9 C862.7,428.5 862.1,425.6 862.3,424.8" stroke-width="1.82" fill="none" />
<path d="M850.5,462.3 C851.3,460.9 851.2,460.4 855.9,457.6 C860.6,454.8 902.1,431.0 906.8,428.8 C911.5,426.6 911.6,430.0 912.2,430.8 C912.9,431.6 914.3,435.7 914.6,438.2 C914.9,440.7 915.6,456.4 915.6,461.0 C915.5,465.6 914.3,489.7 913.8,493.2 C913.3,496.7 914.1,499.2 909.5,502.6 C904.9,505.9 863.3,530.7 858.5,533.4 C853.8,536.1 853.0,535.2 852.1,534.8 C851.2,534.3 848.7,530.9 848.1,528.1 C847.5,525.3 845.3,505.7 845.1,501.2 C845.0,496.8 846.0,477.6 846.5,474.4 C846.9,471.2 849.7,463.7 850.5,462.3Z" stroke-width="2.08" fill="#fff" />
<path d="M847.1,473.1 C846.8,476.6 845.1,486.7 845.1,494.5 C845.1,502.4 846.8,515.8 847.1,520.0" stroke-width="3.38" fill="none" />
<ellipse cx="881.1" cy="483.8" rx="27.5" ry="38.9" fill="none" stroke="#000" stroke-width="2.34" transform="rotate(25 881.1 483.8)" />
<ellipse cx="905.5" cy="439.5" rx="3.0" ry="4.8" fill="none" stroke="#000" stroke-width="2.60" transform="rotate(30 905.5 439.5)" />
<ellipse cx="855.9" cy="468.4" rx="3.0" ry="4.8" fill="none" stroke="#000" stroke-width="2.60" transform="rotate(30 855.9 468.4)" />
<ellipse cx="905.5" cy="497.2" rx="3.0" ry="4.8" fill="none" stroke="#000" stroke-width="2.60" transform="rotate(30 905.5 497.2)" />
<ellipse cx="855.9" cy="526.7" rx="3.0" ry="4.8" fill="none" stroke="#000" stroke-width="2.60" transform="rotate(30 855.9 526.7)" />
<path d="M857.9,455.6 L904.2,430.8" stroke-width="1.43" fill="none" />
<path d="M800.9,473.1 C802.4,473.3 807.7,473.2 810.2,474.4 C812.8,475.6 815.5,478.2 816.3,480.4 C817.1,482.7 816.4,486.1 814.9,487.8 C813.5,489.5 809.8,490.3 807.6,490.5 C805.3,490.7 802.5,489.4 801.5,489.2" stroke-width="1.69" fill="none" />
<ellipse cx="806.0" cy="483.1" rx="3.2" ry="5.6" fill="none" stroke="#000" stroke-width="2.86" transform="rotate(-20 806.0 483.1)" />
<path d="M661.4,366.5 C660.9,367.6 659.8,371.3 660.1,373.2 C660.3,375.1 662.6,379.8 663.4,382.6 C664.3,385.4 666.9,394.0 667.4,397.3 C668.0,400.6 668.7,407.6 668.1,410.7 C667.6,413.9 663.6,421.7 662.7,424.2 C661.9,426.7 660.5,430.3 660.5,432.2 C660.4,434.1 660.9,438.5 662.1,440.3 C663.2,442.1 667.5,443.4 670.1,447.6 C672.8,451.9 681.8,470.9 684.9,476.5 C688.0,482.0 695.4,492.0 697.0,495.3 C698.6,498.5 697.8,502.8 698.6,504.6 C699.3,506.5 702.3,510.5 703.7,511.4 C705.0,512.2 709.0,512.2 710.4,512.0 C711.8,511.9 712.8,509.0 715.7,510.0 C718.7,511.0 731.5,518.5 735.9,520.7 C740.2,523.0 751.0,527.4 753.3,529.5 C755.6,531.5 755.0,536.5 756.0,538.2 C756.9,539.8 759.9,543.1 761.3,543.6 C762.8,544.0 767.0,543.2 768.1,542.2 C769.1,541.3 768.8,536.9 770.1,535.5 C771.3,534.1 776.2,531.9 778.8,530.1 C781.4,528.4 790.3,522.2 792.2,520.7 C794.1,519.3 793.8,518.0 794.9,518.1 C796.0,518.1 800.2,521.3 801.6,521.0 C803.0,520.7 806.5,517.0 807.0,515.4 C807.5,513.8 806.6,509.2 805.9,507.3 C805.2,505.5 801.4,502.7 800.9,499.3 C800.5,495.8 801.9,482.7 801.9,477.8 C801.8,473.0 800.0,460.8 800.5,457.7 C801.1,454.6 806.1,453.0 806.7,451.0 C807.3,449.0 806.5,441.9 805.6,440.3 C804.7,438.6 800.7,436.8 799.2,436.5 C797.6,436.2 794.2,439.0 792.5,437.6 C790.7,436.1 786.7,428.9 784.2,424.2 C781.6,419.5 772.6,402.0 770.7,397.3 C768.9,392.6 768.5,386.4 768.1,383.9 C767.6,381.4 767.5,377.2 766.7,375.9 C766.0,374.5 763.0,372.4 761.6,372.1 C760.2,371.8 757.0,374.0 754.9,373.2 C752.8,372.4 747.4,367.5 743.9,365.1 C740.4,362.8 728.5,354.9 725.1,353.1 C721.7,351.2 716.1,350.4 714.7,349.3 C713.3,348.2 713.9,344.6 713.1,343.7 C712.2,342.8 709.0,341.7 707.7,341.7 C706.4,341.7 702.9,342.8 701.9,343.7 C701.0,344.5 699.9,347.7 699.6,349.0 C699.3,350.4 701.2,354.6 699.4,355.5 C697.5,356.3 685.9,356.1 683.5,356.4 C681.1,356.7 679.9,356.5 678.8,357.7 C677.8,359.0 675.8,366.5 674.8,367.1 C673.8,367.8 671.3,363.5 670.1,363.1 C668.9,362.7 665.8,363.1 664.8,363.5 C663.7,363.9 662.0,365.3 661.4,366.5Z" stroke-width="1.82" fill="#fff" />
<ellipse cx="667.4" cy="372.5" rx="3.5" ry="5.4" fill="#fff" stroke="#000" stroke-width="2.60" transform="rotate(-25 667.4 372.5)" />
<ellipse cx="666.8" cy="435.6" rx="3.5" ry="5.4" fill="#fff" stroke="#000" stroke-width="2.60" transform="rotate(-25 666.8 435.6)" />
<ellipse cx="705.7" cy="503.3" rx="3.5" ry="5.4" fill="#fff" stroke="#000" stroke-width="2.60" transform="rotate(-25 705.7 503.3)" />
<ellipse cx="761.3" cy="535.5" rx="3.5" ry="5.4" fill="#fff" stroke="#000" stroke-width="2.60" transform="rotate(-25 761.3 535.5)" />
<ellipse cx="798.9" cy="514.0" rx="3.5" ry="5.4" fill="#fff" stroke="#000" stroke-width="2.60" transform="rotate(-25 798.9 514.0)" />
<ellipse cx="798.2" cy="445.6" rx="3.5" ry="5.4" fill="#fff" stroke="#000" stroke-width="2.60" transform="rotate(-25 798.2 445.6)" />
<ellipse cx="760.7" cy="379.9" rx="3.5" ry="5.4" fill="#fff" stroke="#000" stroke-width="2.60" transform="rotate(-25 760.7 379.9)" />
<ellipse cx="707.0" cy="349.0" rx="3.5" ry="5.4" fill="#fff" stroke="#000" stroke-width="2.60" transform="rotate(-25 707.0 349.0)" />
<ellipse cx="737.5" cy="438.3" rx="50.5" ry="93.5" fill="none" stroke="#000" stroke-width="1.43" transform="rotate(-30 737.5 438.3)" />
<ellipse cx="737.5" cy="438.3" rx="46.8" ry="89.5" fill="none" stroke="#000" stroke-width="2.99" transform="rotate(-30 737.5 438.3)" />
<path d="M730.5,367.8 C730.9,370.5 731.8,377.9 733.2,383.9 C734.5,389.9 735.9,396.9 738.5,404.0 C741.2,411.2 745.0,419.5 749.3,426.8 C753.5,434.2 759.1,442.3 764.0,448.3 C769.0,454.3 774.1,459.3 778.8,463.1 C783.5,466.9 789.1,469.5 792.2,471.1 C795.3,472.7 796.7,472.2 797.6,472.5" stroke-width="1.69" fill="none" />
<path d="M741.2,375.9 C741.4,378.5 741.2,386.1 742.6,392.0 C743.9,397.8 746.4,404.5 749.3,410.7 C752.2,417.0 756.0,423.7 760.0,429.5 C764.0,435.3 769.0,441.4 773.4,445.6 C777.9,449.9 783.0,452.8 786.8,455.0 C790.6,457.2 794.7,458.4 796.2,459.0" stroke-width="1.69" fill="none" />
<path d="M713.1,434.9 C714.6,439.4 718.4,454.1 722.4,461.7 C726.5,469.3 731.8,475.1 737.2,480.5 C742.6,485.9 749.1,490.5 754.6,493.9 C760.2,497.4 765.8,499.6 770.7,501.3 C775.7,503.0 780.1,503.6 784.2,504.0 C788.2,504.3 793.1,503.4 794.9,503.3" stroke-width="1.69" fill="none" />
<path d="M737.2,451.0 C738.8,453.0 743.2,459.3 746.6,463.1 C749.9,466.9 753.3,470.4 757.3,473.8 C761.3,477.1 766.3,480.9 770.7,483.2 C775.2,485.4 780.0,486.5 784.2,487.2 C788.3,487.9 793.7,487.2 795.6,487.2" stroke-width="1.69" fill="none" />
<path d="M703.7,365.1 C703.6,366.9 702.7,372.3 703.4,375.9 C704.1,379.4 705.6,383.5 707.7,386.6 C709.7,389.7 712.8,392.9 715.7,394.6 C718.6,396.4 722.7,396.2 725.1,397.3 C727.5,398.4 729.3,399.1 730.2,401.3 C731.2,403.6 730.7,409.2 730.8,410.7" stroke-width="1.69" fill="none" />
<path d="M697.0,387.9 C696.5,389.9 694.5,395.8 694.3,400.0 C694.0,404.3 694.5,409.6 695.6,413.4 C696.7,417.2 698.3,420.4 701.0,422.8 C703.7,425.3 708.6,426.2 711.7,428.2 C714.8,430.2 717.1,432.2 719.8,434.9 C722.4,437.6 725.5,441.8 727.8,444.3 C730.1,446.7 732.1,450.1 733.4,449.6 C734.8,449.2 736.1,446.3 735.9,441.6 C735.6,436.9 733.0,426.6 732.1,421.5 C731.3,416.3 731.0,412.5 730.8,410.7" stroke-width="1.69" fill="none" />
<path d="M723.1,367.8 C722.2,370.3 718.9,378.1 717.7,382.6 C716.6,387.0 716.3,392.6 716.0,394.6" stroke-width="1.69" fill="none" />
<path d="M687.6,393.3 L692.9,396.0" stroke-width="1.82" fill="none" />
<path d="M688.9,392.6 L691.6,390.6" stroke-width="1.82" fill="none" />
<path d="M722.4,383.9 L727.1,384.6 L726.5,387.3" stroke-width="1.82" fill="none" />
<path d="M705.0,394.0 L709.0,393.3" stroke-width="1.82" fill="none" />
<path d="M701.0,375.9 L703.0,378.5" stroke-width="1.82" fill="none" />
<path d="M700.3,363.8 L701.7,369.2" stroke-width="1.82" fill="none" />
<ellipse cx="764.0" cy="492.8" rx="3.5" ry="4.6" fill="none" stroke="#000" stroke-width="1.69" transform="rotate(-20 764.0 492.8)" />
<ellipse cx="780.4" cy="482.1" rx="2.7" ry="3.5" fill="none" stroke="#000" stroke-width="1.69" transform="rotate(-20 780.4 482.1)" />
<path d="M784.2,483.2 L790.9,478.5" stroke-width="1.56" fill="none" />
<path d="M713.1,349.0 C716.0,351.3 724.0,358.0 730.5,362.4 C737.0,366.9 746.8,372.3 752.0,375.9 C757.1,379.4 759.8,382.6 761.3,383.9" stroke-width="3.12" fill="none" />
<path d="M768.1,386.6 C769.8,389.5 775.2,397.5 778.8,404.0 C782.4,410.5 786.8,419.9 789.5,425.5 C792.2,431.1 794.0,435.6 794.9,437.6" stroke-width="3.12" fill="none" />
<path d="M768.1,535.5 L778.8,530.1 L782.1,531.5 L776.1,538.2 L770.7,539.5" stroke-width="1.82" fill="none" />
<g transform="translate(634.7 498.7) rotate(-30)" >
<path d="M0,-34.6 L10.7,-34.6 A21.9,34.6 0 0 1 10.7,34.6 L0,34.6" stroke-width="1.82" fill="#fff"/>
<ellipse cx="0.0" cy="0.0" rx="21.9" ry="34.6" stroke-width="1.82" fill="#fff"/>
<ellipse cx="0.0" cy="0.0" rx="19.5" ry="31.4" stroke-width="4.68" fill="none"/>
<ellipse cx="0.0" cy="0.0" rx="16.9" ry="27.6" stroke-width="1.69" fill="none"/>
<ellipse cx="0.0" cy="0.0" rx="14.7" ry="24.1" stroke-width="4.68" fill="none"/>
<ellipse cx="0.0" cy="0.0" rx="11.9" ry="19.6" stroke-width="2.08" fill="none"/>
</g>
<g transform="translate(634.7 498.7) rotate(-30)" >
<ellipse cx="-8.4" cy="-21.9" rx="2.6" ry="3" stroke-width="1.56" fill="#fff"/>
<ellipse cx="7.6" cy="22.7" rx="2.6" ry="3" stroke-width="1.56" fill="#fff"/>
<path d="M5.5,-17.1 A9.9,17.1 0 0 0 5.5,17.1" stroke-width="1.69"/>
</g>
<g transform="translate(753.0 1414.8) rotate(-30)" >
<path d="M0,-33.5 L10.7,-33.5 A21.5,33.5 0 0 1 10.7,33.5 L0,33.5" stroke-width="1.82" fill="#fff"/>
<ellipse cx="0.0" cy="0.0" rx="21.5" ry="33.5" stroke-width="1.82" fill="#fff"/>
<ellipse cx="0.0" cy="0.0" rx="19.1" ry="30.3" stroke-width="4.68" fill="none"/>
<ellipse cx="0.0" cy="0.0" rx="16.5" ry="26.5" stroke-width="1.69" fill="none"/>
<ellipse cx="0.0" cy="0.0" rx="14.3" ry="23.0" stroke-width="4.68" fill="none"/>
<ellipse cx="0.0" cy="0.0" rx="11.5" ry="18.5" stroke-width="2.08" fill="none"/>
</g>
<g transform="translate(753.0 1414.8) rotate(-30)" >
<ellipse cx="-8.2" cy="-21.0" rx="2.6" ry="3" stroke-width="1.56" fill="#fff"/>
<ellipse cx="7.4" cy="21.8" rx="2.6" ry="3" stroke-width="1.56" fill="#fff"/>
<path d="M5.5,-16.0 A9.5,16.0 0 0 0 5.5,16.0" stroke-width="1.69"/>
</g>
<g transform="translate(530.8 1543.4) rotate(-30)" >
<path d="M32.8,-84.0 A55.6,97 0 0 1 34.5,82.3" stroke-width="4.42"/>
<ellipse cx="53.5" cy="38.7" rx="8.2" ry="10" stroke-width="1.82" fill="#fff"/>
<ellipse cx="56.5" cy="38.7" rx="8.2" ry="10" stroke-width="1.56" fill="#fff"/>
<ellipse cx="53.5" cy="38.7" rx="8.2" ry="10" stroke-width="1.82" fill="#fff"/>
<ellipse cx="22.1" cy="93.3" rx="8.2" ry="10" stroke-width="1.82" fill="#fff"/>
<ellipse cx="25.1" cy="93.3" rx="8.2" ry="10" stroke-width="1.56" fill="#fff"/>
<ellipse cx="22.1" cy="93.3" rx="8.2" ry="10" stroke-width="1.82" fill="#fff"/>
<ellipse cx="-22.1" cy="93.3" rx="8.2" ry="10" stroke-width="1.82" fill="#fff"/>
<ellipse cx="-53.5" cy="38.7" rx="8.2" ry="10" stroke-width="1.82" fill="#fff"/>
<ellipse cx="-53.5" cy="-38.7" rx="8.2" ry="10" stroke-width="1.82" fill="#fff"/>
<ellipse cx="-22.1" cy="-93.3" rx="8.2" ry="10" stroke-width="1.82" fill="#fff"/>
<ellipse cx="22.1" cy="-93.3" rx="8.2" ry="10" stroke-width="1.82" fill="#fff"/>
<ellipse cx="25.1" cy="-93.3" rx="8.2" ry="10" stroke-width="1.56" fill="#fff"/>
<ellipse cx="22.1" cy="-93.3" rx="8.2" ry="10" stroke-width="1.82" fill="#fff"/>
<ellipse cx="53.5" cy="-38.7" rx="8.2" ry="10" stroke-width="1.82" fill="#fff"/>
<ellipse cx="56.5" cy="-38.7" rx="8.2" ry="10" stroke-width="1.56" fill="#fff"/>
<ellipse cx="53.5" cy="-38.7" rx="8.2" ry="10" stroke-width="1.82" fill="#fff"/>
<ellipse cx="0.0" cy="0.0" rx="53.9" ry="94.0" stroke-width="1.82" fill="#fff"/>
<ellipse cx="53.5" cy="38.7" rx="6.5" ry="8.5" stroke-width="1.56" fill="#fff" stroke="#fff"/>
<ellipse cx="53.5" cy="38.7" rx="3" ry="4.3" stroke-width="2.21"/>
<ellipse cx="22.1" cy="93.3" rx="6.5" ry="8.5" stroke-width="1.56" fill="#fff" stroke="#fff"/>
<ellipse cx="22.1" cy="93.3" rx="3" ry="4.3" stroke-width="2.21"/>
<ellipse cx="-22.1" cy="93.3" rx="6.5" ry="8.5" stroke-width="1.56" fill="#fff" stroke="#fff"/>
<ellipse cx="-22.1" cy="93.3" rx="3" ry="4.3" stroke-width="2.21"/>
<ellipse cx="-53.5" cy="38.7" rx="6.5" ry="8.5" stroke-width="1.56" fill="#fff" stroke="#fff"/>
<ellipse cx="-53.5" cy="38.7" rx="3" ry="4.3" stroke-width="2.21"/>
<ellipse cx="-53.5" cy="-38.7" rx="6.5" ry="8.5" stroke-width="1.56" fill="#fff" stroke="#fff"/>
<ellipse cx="-53.5" cy="-38.7" rx="3" ry="4.3" stroke-width="2.21"/>
<ellipse cx="-22.1" cy="-93.3" rx="6.5" ry="8.5" stroke-width="1.56" fill="#fff" stroke="#fff"/>
<ellipse cx="-22.1" cy="-93.3" rx="3" ry="4.3" stroke-width="2.21"/>
<ellipse cx="22.1" cy="-93.3" rx="6.5" ry="8.5" stroke-width="1.56" fill="#fff" stroke="#fff"/>
<ellipse cx="22.1" cy="-93.3" rx="3" ry="4.3" stroke-width="2.21"/>
<ellipse cx="53.5" cy="-38.7" rx="6.5" ry="8.5" stroke-width="1.56" fill="#fff" stroke="#fff"/>
<ellipse cx="53.5" cy="-38.7" rx="3" ry="4.3" stroke-width="2.21"/>
<ellipse cx="0.0" cy="0.0" rx="51.0" ry="89.0" stroke-width="1.56" fill="none"/>
<ellipse cx="-1.5" cy="0.0" rx="47.6" ry="83.0" stroke-width="1.69" fill="none"/>
<path d="M8.4,-66.6 A40.1,70 0 0 1 4.3,68.5" stroke-width="1.56"/>
<path d="M3.6,-54.2 A32.7,57 0 0 1 0.3,55.8" stroke-width="1.56"/>
<path d="M-1.2,-41.8 A25.2,44 0 0 1 -3.8,43.0" stroke-width="1.56"/>
<path d="M-21.0,59.8 A37.8,66 0 0 1 -21.0,-59.8" stroke-width="1.56"/>
<path d="M-0.6,11.6 L41.4,34.3 L44.0,29.6 L2.0,6.8Z" stroke="none" fill="#fff"/>
<path d="M-0.6,11.6 L41.4,34.3 M2.0,6.8 L44.0,29.6" stroke-width="1.82"/>
<path d="M-9.2,23.2 L14.3,78.2 L19.3,76.1 L-4.3,21.1Z" stroke="none" fill="#fff"/>
<path d="M-9.2,23.2 L14.3,78.2 M-4.3,21.1 L19.3,76.1" stroke-width="1.82"/>
<path d="M-20.0,22.0 L-22.5,77.0 L-17.1,77.3 L-14.6,22.3Z" stroke="none" fill="#fff"/>
<path d="M-20.0,22.0 L-22.5,77.0 M-14.6,22.3 L-17.1,77.3" stroke-width="1.82"/>
<path d="M-26.7,7.4 L-47.7,30.1 L-43.7,33.8 L-22.7,11.0Z" stroke="none" fill="#fff"/>
<path d="M-26.7,7.4 L-47.7,30.1 M-22.7,11.0 L-43.7,33.8" stroke-width="1.82"/>
<path d="M-22.7,-11.0 L-43.7,-33.8 L-47.7,-30.1 L-26.7,-7.4Z" stroke="none" fill="#fff"/>
<path d="M-22.7,-11.0 L-43.7,-33.8 M-26.7,-7.4 L-47.7,-30.1" stroke-width="1.82"/>
<path d="M-14.6,-22.3 L-17.1,-77.3 L-22.5,-77.0 L-20.0,-22.0Z" stroke="none" fill="#fff"/>
<path d="M-14.6,-22.3 L-17.1,-77.3 M-20.0,-22.0 L-22.5,-77.0" stroke-width="1.82"/>
<path d="M-4.3,-21.1 L19.3,-76.1 L14.3,-78.2 L-9.2,-23.2Z" stroke="none" fill="#fff"/>
<path d="M-4.3,-21.1 L19.3,-76.1 M-9.2,-23.2 L14.3,-78.2" stroke-width="1.82"/>
<path d="M2.0,-6.8 L44.0,-29.6 L41.4,-34.3 L-0.6,-11.6Z" stroke="none" fill="#fff"/>
<path d="M2.0,-6.8 L44.0,-29.6 M-0.6,-11.6 L41.4,-34.3" stroke-width="1.82"/>
<ellipse cx="-13.0" cy="0.0" rx="25.0" ry="39.0" stroke-width="1.69" fill="#fff"/>
<ellipse cx="-12.0" cy="0.0" rx="21.5" ry="34.0" stroke-width="1.69" fill="none"/>
<ellipse cx="-26.0" cy="-28.0" rx="3.2" ry="4.6" stroke-width="2.86" fill="#fff"/>
<ellipse cx="-10.0" cy="34.0" rx="3.2" ry="4.6" stroke-width="2.86" fill="#fff"/>
<ellipse cx="5.0" cy="18.0" rx="3.2" ry="4.6" stroke-width="2.86" fill="#fff"/>
<ellipse cx="-12.0" cy="0.0" rx="17.0" ry="27.0" stroke-width="4.68" fill="#fff"/>
<ellipse cx="-11.0" cy="0.0" rx="12.2" ry="21.0" stroke-width="2.34" fill="none"/>
<ellipse cx="-9.5" cy="0.0" rx="9.3" ry="16.5" stroke-width="1.69" fill="none"/>
<path d="M-7.0,-14.5 A8.2,14.5 0 0 0 -7.0,14.5" stroke-width="1.69"/>
<path d="M-4.0,-12.5 A7.0,12.5 0 0 0 -4.0,12.5" stroke-width="1.56"/>
</g>
<g transform="translate(385.0 1466.2) rotate(-29.2)">
<path d="M6.0,-4.2 L38.4,-4.2 L38.4,4.2 L6.0,4.2Z" stroke="none" fill="#fff"/>
<path d="M6.0,-4.2 L38.4,-4.2 M6.0,4.2 L38.4,4.2" stroke-width="1.82"/>
<ellipse cx="38.4" cy="0" rx="2.1" ry="4.2" stroke-width="1.82" fill="#fff"/>
<path d="M8.2,-4.2 A2.1,4.2 0 0 0 8.2,4.2" stroke-width="2.60"/>
<path d="M11.2,-4.2 A2.1,4.2 0 0 0 11.2,4.2" stroke-width="2.60"/>
<path d="M14.3,-4.2 A2.1,4.2 0 0 0 14.3,4.2" stroke-width="2.60"/>
<path d="M17.4,-4.2 A2.1,4.2 0 0 0 17.4,4.2" stroke-width="2.60"/>
<path d="M20.5,-4.2 A2.1,4.2 0 0 0 20.5,4.2" stroke-width="2.60"/>
<path d="M23.6,-4.2 A2.1,4.2 0 0 0 23.6,4.2" stroke-width="2.60"/>
<path d="M26.7,-4.2 A2.1,4.2 0 0 0 26.7,4.2" stroke-width="2.60"/>
<path d="M29.7,-4.2 A2.1,4.2 0 0 0 29.7,4.2" stroke-width="2.60"/>
<path d="M32.8,-4.2 A2.1,4.2 0 0 0 32.8,4.2" stroke-width="2.60"/>
<path d="M35.9,-4.2 A2.1,4.2 0 0 0 35.9,4.2" stroke-width="2.60"/>
<ellipse cx="6.5" cy="0" rx="4.5" ry="9.0" stroke-width="2.21" fill="#fff"/>
<path d="M-2.4,-7.2 L5.0,-7.2 L5.0,7.2 L-2.4,7.2Z" stroke="none" fill="#fff"/>
<path d="M-2.4,-7.2 L5.0,-7.2 M-2.4,7.2 L5.0,7.2 M0.8,-2.5 L7.0,-2.5 M-0.2,4.3 L7.0,4.3" stroke-width="2.08"/>
<ellipse cx="-2.4" cy="0" rx="3.6" ry="7.2" stroke-width="2.34" fill="#fff"/>
<path d="M-3.8,-3.6 L-1.7,4.0 M-2.0,-4.3 L-0.2,2.2" stroke-width="1.82"/>
</g>
<g transform="translate(383.2 1583.5) rotate(-28.0)">
<path d="M6.0,-4.2 L37.9,-4.2 L37.9,4.2 L6.0,4.2Z" stroke="none" fill="#fff"/>
<path d="M6.0,-4.2 L37.9,-4.2 M6.0,4.2 L37.9,4.2" stroke-width="1.82"/>
<ellipse cx="37.9" cy="0" rx="2.1" ry="4.2" stroke-width="1.82" fill="#fff"/>
<path d="M8.1,-4.2 A2.1,4.2 0 0 0 8.1,4.2" stroke-width="2.60"/>
<path d="M11.2,-4.2 A2.1,4.2 0 0 0 11.2,4.2" stroke-width="2.60"/>
<path d="M14.2,-4.2 A2.1,4.2 0 0 0 14.2,4.2" stroke-width="2.60"/>
<path d="M17.3,-4.2 A2.1,4.2 0 0 0 17.3,4.2" stroke-width="2.60"/>
<path d="M20.3,-4.2 A2.1,4.2 0 0 0 20.3,4.2" stroke-width="2.60"/>
<path d="M23.3,-4.2 A2.1,4.2 0 0 0 23.3,4.2" stroke-width="2.60"/>
<path d="M26.4,-4.2 A2.1,4.2 0 0 0 26.4,4.2" stroke-width="2.60"/>
<path d="M29.4,-4.2 A2.1,4.2 0 0 0 29.4,4.2" stroke-width="2.60"/>
<path d="M32.5,-4.2 A2.1,4.2 0 0 0 32.5,4.2" stroke-width="2.60"/>
<path d="M35.5,-4.2 A2.1,4.2 0 0 0 35.5,4.2" stroke-width="2.60"/>
<ellipse cx="6.5" cy="0" rx="4.5" ry="9.0" stroke-width="2.21" fill="#fff"/>
<path d="M-2.4,-7.2 L5.0,-7.2 L5.0,7.2 L-2.4,7.2Z" stroke="none" fill="#fff"/>
<path d="M-2.4,-7.2 L5.0,-7.2 M-2.4,7.2 L5.0,7.2 M0.8,-2.5 L7.0,-2.5 M-0.2,4.3 L7.0,4.3" stroke-width="2.08"/>
<ellipse cx="-2.4" cy="0" rx="3.6" ry="7.2" stroke-width="2.34" fill="#fff"/>
<path d="M-3.8,-3.6 L-1.7,4.0 M-2.0,-4.3 L-0.2,2.2" stroke-width="1.82"/>
</g>
<g transform="translate(441.9 1639.6) rotate(-28.4)">
<path d="M5.0,-4.2 L35.9,-4.2 L35.9,4.2 L5.0,4.2Z" stroke="none" fill="#fff"/>
<path d="M5.0,-4.2 L35.9,-4.2 M5.0,4.2 L35.9,4.2" stroke-width="1.82"/>
<ellipse cx="35.9" cy="0" rx="2.1" ry="4.2" stroke-width="1.82" fill="#fff"/>
<path d="M7.3,-4.2 A2.1,4.2 0 0 0 7.3,4.2" stroke-width="2.60"/>
<path d="M10.5,-4.2 A2.1,4.2 0 0 0 10.5,4.2" stroke-width="2.60"/>
<path d="M13.8,-4.2 A2.1,4.2 0 0 0 13.8,4.2" stroke-width="2.60"/>
<path d="M17.0,-4.2 A2.1,4.2 0 0 0 17.0,4.2" stroke-width="2.60"/>
<path d="M20.3,-4.2 A2.1,4.2 0 0 0 20.3,4.2" stroke-width="2.60"/>
<path d="M23.6,-4.2 A2.1,4.2 0 0 0 23.6,4.2" stroke-width="2.60"/>
<path d="M26.8,-4.2 A2.1,4.2 0 0 0 26.8,4.2" stroke-width="2.60"/>
<path d="M30.1,-4.2 A2.1,4.2 0 0 0 30.1,4.2" stroke-width="2.60"/>
<path d="M33.3,-4.2 A2.1,4.2 0 0 0 33.3,4.2" stroke-width="2.60"/>
<ellipse cx="5.5" cy="0" rx="4.0" ry="8.0" stroke-width="2.21" fill="#fff"/>
<path d="M-2.0,-6.4 L4.0,-6.4 L4.0,6.4 L-2.0,6.4Z" stroke="none" fill="#fff"/>
<path d="M-2.0,-6.4 L4.0,-6.4 M-2.0,6.4 L4.0,6.4 M0.9,-2.2 L6.0,-2.2 M-0.1,3.8 L6.0,3.8" stroke-width="2.08"/>
<ellipse cx="-2.0" cy="0" rx="3.2" ry="6.4" stroke-width="2.34" fill="#fff"/>
<path d="M-3.3,-3.2 L-1.4,3.5 M-1.7,-3.8 L-0.1,1.9" stroke-width="1.82"/>
</g>
<g transform="translate(515.2 1686.2) rotate(-28.7)">
<path d="M6.0,-4.2 L43.7,-4.2 L43.7,4.2 L6.0,4.2Z" stroke="none" fill="#fff"/>
<path d="M6.0,-4.2 L43.7,-4.2 M6.0,4.2 L43.7,4.2" stroke-width="1.82"/>
<ellipse cx="43.7" cy="0" rx="2.1" ry="4.2" stroke-width="1.82" fill="#fff"/>
<path d="M8.1,-4.2 A2.1,4.2 0 0 0 8.1,4.2" stroke-width="2.60"/>
<path d="M11.1,-4.2 A2.1,4.2 0 0 0 11.1,4.2" stroke-width="2.60"/>
<path d="M14.1,-4.2 A2.1,4.2 0 0 0 14.1,4.2" stroke-width="2.60"/>
<path d="M17.2,-4.2 A2.1,4.2 0 0 0 17.2,4.2" stroke-width="2.60"/>
<path d="M20.2,-4.2 A2.1,4.2 0 0 0 20.2,4.2" stroke-width="2.60"/>
<path d="M23.2,-4.2 A2.1,4.2 0 0 0 23.2,4.2" stroke-width="2.60"/>
<path d="M26.2,-4.2 A2.1,4.2 0 0 0 26.2,4.2" stroke-width="2.60"/>
<path d="M29.2,-4.2 A2.1,4.2 0 0 0 29.2,4.2" stroke-width="2.60"/>
<path d="M32.2,-4.2 A2.1,4.2 0 0 0 32.2,4.2" stroke-width="2.60"/>
<path d="M35.2,-4.2 A2.1,4.2 0 0 0 35.2,4.2" stroke-width="2.60"/>
<path d="M38.3,-4.2 A2.1,4.2 0 0 0 38.3,4.2" stroke-width="2.60"/>
<path d="M41.3,-4.2 A2.1,4.2 0 0 0 41.3,4.2" stroke-width="2.60"/>
<ellipse cx="6.5" cy="0" rx="4.8" ry="9.5" stroke-width="2.21" fill="#fff"/>
<path d="M-2.4,-7.6 L5.0,-7.6 L5.0,7.6 L-2.4,7.6Z" stroke="none" fill="#fff"/>
<path d="M-2.4,-7.6 L5.0,-7.6 M-2.4,7.6 L5.0,7.6 M1.0,-2.7 L7.0,-2.7 M-0.1,4.6 L7.0,4.6" stroke-width="2.08"/>
<ellipse cx="-2.4" cy="0" rx="3.8" ry="7.6" stroke-width="2.34" fill="#fff"/>
<path d="M-3.9,-3.8 L-1.6,4.2 M-2.0,-4.6 L-0.1,2.3" stroke-width="1.82"/>
</g>
<g transform="translate(118.0 1238.5) rotate(-27.2)">
<path d="M6.0,-4.4 L42.7,-4.4 L42.7,4.4 L6.0,4.4Z" stroke="none" fill="#fff"/>
<path d="M6.0,-4.4 L42.7,-4.4 M6.0,4.4 L42.7,4.4" stroke-width="1.82"/>
<ellipse cx="42.7" cy="0" rx="2.2" ry="4.4" stroke-width="1.82" fill="#fff"/>
<path d="M8.2,-4.4 A2.2,4.4 0 0 0 8.2,4.4" stroke-width="2.60"/>
<path d="M11.4,-4.4 A2.2,4.4 0 0 0 11.4,4.4" stroke-width="2.60"/>
<path d="M14.6,-4.4 A2.2,4.4 0 0 0 14.6,4.4" stroke-width="2.60"/>
<path d="M17.8,-4.4 A2.2,4.4 0 0 0 17.8,4.4" stroke-width="2.60"/>
<path d="M21.0,-4.4 A2.2,4.4 0 0 0 21.0,4.4" stroke-width="2.60"/>
<path d="M24.2,-4.4 A2.2,4.4 0 0 0 24.2,4.4" stroke-width="2.60"/>
<path d="M27.4,-4.4 A2.2,4.4 0 0 0 27.4,4.4" stroke-width="2.60"/>
<path d="M30.6,-4.4 A2.2,4.4 0 0 0 30.6,4.4" stroke-width="2.60"/>
<path d="M33.8,-4.4 A2.2,4.4 0 0 0 33.8,4.4" stroke-width="2.60"/>
<path d="M37.0,-4.4 A2.2,4.4 0 0 0 37.0,4.4" stroke-width="2.60"/>
<path d="M40.2,-4.4 A2.2,4.4 0 0 0 40.2,4.4" stroke-width="2.60"/>
<ellipse cx="6.5" cy="0" rx="5.0" ry="10.0" stroke-width="2.21" fill="#fff"/>
<path d="M-2.4,-8.0 L5.0,-8.0 L5.0,8.0 L-2.4,8.0Z" stroke="none" fill="#fff"/>
<path d="M-2.4,-8.0 L5.0,-8.0 M-2.4,8.0 L5.0,8.0 M1.2,-2.8 L7.0,-2.8 M-0.0,4.8 L7.0,4.8" stroke-width="2.08"/>
<ellipse cx="-2.4" cy="0" rx="4.0" ry="8.0" stroke-width="2.34" fill="#fff"/>
<path d="M-4.0,-4.0 L-1.6,4.4 M-2.0,-4.8 L-0.0,2.4" stroke-width="1.82"/>
</g>
<g transform="translate(571.6 1069.7) rotate(-28.8)">
<path d="M5.0,-3.8 L25.6,-3.8 L25.6,3.8 L5.0,3.8Z" stroke="none" fill="#fff"/>
<path d="M5.0,-3.8 L25.6,-3.8 M5.0,3.8 L25.6,3.8" stroke-width="1.82"/>
<ellipse cx="25.6" cy="0" rx="1.9" ry="3.8" stroke-width="1.82" fill="#fff"/>
<path d="M7.2,-3.8 A1.9,3.8 0 0 0 7.2,3.8" stroke-width="2.60"/>
<path d="M10.4,-3.8 A1.9,3.8 0 0 0 10.4,3.8" stroke-width="2.60"/>
<path d="M13.5,-3.8 A1.9,3.8 0 0 0 13.5,3.8" stroke-width="2.60"/>
<path d="M16.7,-3.8 A1.9,3.8 0 0 0 16.7,3.8" stroke-width="2.60"/>
<path d="M19.9,-3.8 A1.9,3.8 0 0 0 19.9,3.8" stroke-width="2.60"/>
<path d="M23.0,-3.8 A1.9,3.8 0 0 0 23.0,3.8" stroke-width="2.60"/>
<ellipse cx="5.5" cy="0" rx="4.0" ry="8.0" stroke-width="2.21" fill="#fff"/>
<path d="M-2.0,-6.4 L4.0,-6.4 L4.0,6.4 L-2.0,6.4Z" stroke="none" fill="#fff"/>
<path d="M-2.0,-6.4 L4.0,-6.4 M-2.0,6.4 L4.0,6.4 M0.9,-2.2 L6.0,-2.2 M-0.1,3.8 L6.0,3.8" stroke-width="2.08"/>
<ellipse cx="-2.0" cy="0" rx="3.2" ry="6.4" stroke-width="2.34" fill="#fff"/>
<path d="M-3.3,-3.2 L-1.4,3.5 M-1.7,-3.8 L-0.1,1.9" stroke-width="1.82"/>
</g>
<g transform="translate(119.5 1730.1) rotate(-25.6)">
<path d="M4.0,-3.2 L22.2,-3.2 L22.2,3.2 L4.0,3.2Z" stroke="none" fill="#fff"/>
<path d="M4.0,-3.2 L22.2,-3.2 M4.0,3.2 L22.2,3.2" stroke-width="1.82"/>
<ellipse cx="22.2" cy="0" rx="1.6" ry="3.2" stroke-width="1.82" fill="#fff"/>
<path d="M6.3,-3.2 A1.6,3.2 0 0 0 6.3,3.2" stroke-width="2.60"/>
<path d="M9.6,-3.2 A1.6,3.2 0 0 0 9.6,3.2" stroke-width="2.60"/>
<path d="M12.9,-3.2 A1.6,3.2 0 0 0 12.9,3.2" stroke-width="2.60"/>
<path d="M16.2,-3.2 A1.6,3.2 0 0 0 16.2,3.2" stroke-width="2.60"/>
<path d="M19.5,-3.2 A1.6,3.2 0 0 0 19.5,3.2" stroke-width="2.60"/>
<ellipse cx="4.5" cy="0" rx="3.0" ry="6.0" stroke-width="2.21" fill="#fff"/>
<path d="M-1.6,-4.8 L3.0,-4.8 L3.0,4.8 L-1.6,4.8Z" stroke="none" fill="#fff"/>
<path d="M-1.6,-4.8 L3.0,-4.8 M-1.6,4.8 L3.0,4.8 M0.6,-1.7 L5.0,-1.7 M-0.2,2.9 L5.0,2.9" stroke-width="2.08"/>
<ellipse cx="-1.6" cy="0" rx="2.4" ry="4.8" stroke-width="2.34" fill="#fff"/>
<path d="M-2.6,-2.4 L-1.1,2.6 M-1.4,-2.9 L-0.2,1.4" stroke-width="1.82"/>
</g>
<g transform="translate(417.0 450.0) rotate(154.8)">
<path d="M5.0,-3.6 L31.0,-3.6 L31.0,3.6 L5.0,3.6Z" stroke="none" fill="#fff"/>
<path d="M5.0,-3.6 L31.0,-3.6 M5.0,3.6 L31.0,3.6" stroke-width="1.82"/>
<ellipse cx="31.0" cy="0" rx="1.8" ry="3.6" stroke-width="1.82" fill="#fff"/>
<path d="M7.1,-3.6 A1.8,3.6 0 0 0 7.1,3.6" stroke-width="2.60"/>
<path d="M10.2,-3.6 A1.8,3.6 0 0 0 10.2,3.6" stroke-width="2.60"/>
<path d="M13.2,-3.6 A1.8,3.6 0 0 0 13.2,3.6" stroke-width="2.60"/>
<path d="M16.3,-3.6 A1.8,3.6 0 0 0 16.3,3.6" stroke-width="2.60"/>
<path d="M19.4,-3.6 A1.8,3.6 0 0 0 19.4,3.6" stroke-width="2.60"/>
<path d="M22.4,-3.6 A1.8,3.6 0 0 0 22.4,3.6" stroke-width="2.60"/>
<path d="M25.5,-3.6 A1.8,3.6 0 0 0 25.5,3.6" stroke-width="2.60"/>
<path d="M28.5,-3.6 A1.8,3.6 0 0 0 28.5,3.6" stroke-width="2.60"/>
<ellipse cx="5.5" cy="0" rx="3.8" ry="7.5" stroke-width="2.21" fill="#fff"/>
<path d="M-2.0,-6.0 L4.0,-6.0 L4.0,6.0 L-2.0,6.0Z" stroke="none" fill="#fff"/>
<path d="M-2.0,-6.0 L4.0,-6.0 M-2.0,6.0 L4.0,6.0 M0.7,-2.1 L6.0,-2.1 M-0.2,3.6 L6.0,3.6" stroke-width="2.08"/>
<ellipse cx="-2.0" cy="0" rx="3.0" ry="6.0" stroke-width="2.34" fill="#fff"/>
<path d="M-3.2,-3.0 L-1.4,3.3 M-1.7,-3.6 L-0.2,1.8" stroke-width="1.82"/>
</g>
<g transform="translate(1188.0 129.5) rotate(151.9)">
<path d="M6.0,-3.2 L25.5,-3.2 L25.5,3.2 L6.0,3.2Z" stroke="none" fill="#fff"/>
<path d="M6.0,-3.2 L25.5,-3.2 M6.0,3.2 L25.5,3.2" stroke-width="1.82"/>
<ellipse cx="25.5" cy="0" rx="1.6" ry="3.2" stroke-width="1.82" fill="#fff"/>
<path d="M8.1,-3.2 A1.6,3.2 0 0 0 8.1,3.2" stroke-width="2.60"/>
<path d="M11.1,-3.2 A1.6,3.2 0 0 0 11.1,3.2" stroke-width="2.60"/>
<path d="M14.1,-3.2 A1.6,3.2 0 0 0 14.1,3.2" stroke-width="2.60"/>
<path d="M17.1,-3.2 A1.6,3.2 0 0 0 17.1,3.2" stroke-width="2.60"/>
<path d="M20.1,-3.2 A1.6,3.2 0 0 0 20.1,3.2" stroke-width="2.60"/>
<path d="M23.1,-3.2 A1.6,3.2 0 0 0 23.1,3.2" stroke-width="2.60"/>
<ellipse cx="6.5" cy="0" rx="3.0" ry="6.0" stroke-width="2.21" fill="#fff"/>
<path d="M-2.4,-4.8 L5.0,-4.8 L5.0,4.8 L-2.4,4.8Z" stroke="none" fill="#fff"/>
<path d="M-2.4,-4.8 L5.0,-4.8 M-2.4,4.8 L5.0,4.8 M-0.2,-1.7 L7.0,-1.7 M-1.0,2.9 L7.0,2.9" stroke-width="2.08"/>
<ellipse cx="-2.4" cy="0" rx="2.4" ry="4.8" stroke-width="2.34" fill="#fff"/>
<path d="M-3.4,-2.4 L-1.9,2.6 M-2.2,-2.9 L-1.0,1.4" stroke-width="1.82"/>
</g>
<g transform="translate(887.0 545.0) rotate(29.6)">
<path d="M0.0,-3.6 L37.4,-3.6 L37.4,3.6 L0.0,3.6Z" stroke="none" fill="#fff"/>
<path d="M0.0,-3.6 L37.4,-3.6 M0.0,3.6 L37.4,3.6" stroke-width="1.69"/>
<ellipse cx="37.4" cy="0" rx="1.8" ry="3.6" stroke-width="1.69" fill="#fff"/>
<path d="M2.1,-3.6 A1.8,3.6 0 0 0 2.1,3.6" stroke-width="2.47"/>
<path d="M5.1,-3.6 A1.8,3.6 0 0 0 5.1,3.6" stroke-width="2.47"/>
<path d="M8.1,-3.6 A1.8,3.6 0 0 0 8.1,3.6" stroke-width="2.47"/>
<path d="M11.1,-3.6 A1.8,3.6 0 0 0 11.1,3.6" stroke-width="2.47"/>
<path d="M14.1,-3.6 A1.8,3.6 0 0 0 14.1,3.6" stroke-width="2.47"/>
<path d="M17.1,-3.6 A1.8,3.6 0 0 0 17.1,3.6" stroke-width="2.47"/>
<path d="M20.0,-3.6 A1.8,3.6 0 0 0 20.0,3.6" stroke-width="2.47"/>
<path d="M23.0,-3.6 A1.8,3.6 0 0 0 23.0,3.6" stroke-width="2.47"/>
<path d="M26.0,-3.6 A1.8,3.6 0 0 0 26.0,3.6" stroke-width="2.47"/>
<path d="M29.0,-3.6 A1.8,3.6 0 0 0 29.0,3.6" stroke-width="2.47"/>
<path d="M32.0,-3.6 A1.8,3.6 0 0 0 32.0,3.6" stroke-width="2.47"/>
<path d="M35.0,-3.6 A1.8,3.6 0 0 0 35.0,3.6" stroke-width="2.47"/>
</g>
<g transform="translate(996.5 1372.1) rotate(-29.4)" >
<path d="M524.0,-7.5 L545.0,-7.5 L547.0,-5.0 L547.0,5.0 L545.0,7.5 L524.0,7.5Z" stroke="none" fill="#fff"/>
<path d="M547.0,-5.0 A2.9,5.0 0 0 1 547.0,5.0" stroke-width="1.82" fill="#fff"/>
<path d="M524.0,-7.5 L545.0,-7.5 L547.0,-5.0" stroke-width="1.82"/>
<path d="M547.0,5.0 L545.0,7.5 L524.0,7.5" stroke-width="1.82"/>
<path d="M529.0,-7.5 A4.3,7.5 0 0 1 529.0,7.5" stroke-width="1.82"/>
<path d="M534.0,-7.5 A4.3,7.5 0 0 1 534.0,7.5" stroke-width="1.82"/>
<path d="M539.0,-7.5 A4.3,7.5 0 0 1 539.0,7.5" stroke-width="1.82"/>
<path d="M543.0,-7.5 A4.3,7.5 0 0 1 543.0,7.5" stroke-width="1.82"/>
</g>
<g transform="translate(996.5 1372.1) rotate(-29.4)" >
<path d="M486.0,-13.0 L522.0,-13.0 L524.0,-11.0 L524.0,11.0 L522.0,13.0 L486.0,13.0Z" stroke="none" fill="#fff"/>
<path d="M524.0,-11.0 A6.4,11.0 0 0 1 524.0,11.0" stroke-width="1.82" fill="#fff"/>
<path d="M486.0,-13.0 L522.0,-13.0 L524.0,-11.0" stroke-width="1.82"/>
<path d="M524.0,11.0 L522.0,13.0 L486.0,13.0" stroke-width="1.82"/>
</g>
<g transform="translate(996.5 1372.1) rotate(-29.4)" >
<path d="M489.3,-12.8 L523.3,-12.8M492.1,-10.9 L526.1,-10.9M494.2,-7.3 L528.2,-7.3M495.4,-2.6 L529.4,-2.6M495.4,2.6 L529.4,2.6M494.2,7.3 L528.2,7.3M492.1,10.9 L526.1,10.9M489.3,12.8 L523.3,12.8" stroke-width="1.69"/>
</g>
<g transform="translate(996.5 1372.1) rotate(-29.4)" >
<path d="M418.0,-10.5 L483.0,-10.5 L486.0,-12.0 L486.0,12.0 L483.0,10.5 L418.0,10.5Z" stroke="none" fill="#fff"/>
<path d="M486.0,-12.0 A7.0,12.0 0 0 1 486.0,12.0" stroke-width="1.82" fill="#fff"/>
<path d="M418.0,-10.5 L483.0,-10.5 L486.0,-12.0" stroke-width="1.82"/>
<path d="M486.0,12.0 L483.0,10.5 L418.0,10.5" stroke-width="1.82"/>
<path d="M452.0,-10.5 A6.1,10.5 0 0 1 452.0,10.5" stroke-width="1.69"/>
<path d="M459.0,-10.5 A6.1,10.5 0 0 1 459.0,10.5" stroke-width="1.69"/>
</g>
<g transform="translate(996.5 1372.1) rotate(-29.4)" >
<path d="M309.0,-10.0 C309.8,-10.3 312.5,-10.0 314.0,-12.0 C315.5,-14.0 316.3,-19.0 318.0,-22.0 C319.7,-25.0 321.7,-27.8 324.0,-30.0 C326.3,-32.2 328.5,-33.6 332.0,-35.0 C335.5,-36.4 340.3,-37.7 345.0,-38.5 C349.7,-39.3 354.2,-39.7 360.0,-40.0 C365.8,-40.3 374.2,-40.5 380.0,-40.5 C385.8,-40.5 390.3,-40.2 395.0,-40.0 C399.7,-39.8 404.7,-39.7 408.0,-39.0 C411.3,-38.3 413.0,-37.5 415.0,-36.0 C417.0,-34.5 418.7,-32.7 420.0,-30.0 C421.3,-27.3 422.5,-21.7 423.0,-20.0 L423.0,20.0 C422.5,21.7 421.3,27.3 420.0,30.0 C418.7,32.7 417.0,34.5 415.0,36.0 C413.0,37.5 411.3,38.3 408.0,39.0 C404.7,39.7 399.7,39.8 395.0,40.0 C390.3,40.2 385.8,40.5 380.0,40.5 C374.2,40.5 365.8,40.3 360.0,40.0 C354.2,39.7 349.7,39.3 345.0,38.5 C340.3,37.7 335.5,36.4 332.0,35.0 C328.5,33.6 326.3,32.2 324.0,30.0 C321.7,27.8 319.7,25.0 318.0,22.0 C316.3,19.0 315.5,14.0 314.0,12.0 C312.5,10.0 309.8,10.3 309.0,10.0Z" stroke="none" fill="#fff"/>
<path d="M423.0,-20.0 A11.6,20.0 0 0 1 423.0,20.0" stroke-width="1.82" fill="#fff"/>
<path d="M309.0,-10.0 C309.8,-10.3 312.5,-10.0 314.0,-12.0 C315.5,-14.0 316.3,-19.0 318.0,-22.0 C319.7,-25.0 321.7,-27.8 324.0,-30.0 C326.3,-32.2 328.5,-33.6 332.0,-35.0 C335.5,-36.4 340.3,-37.7 345.0,-38.5 C349.7,-39.3 354.2,-39.7 360.0,-40.0 C365.8,-40.3 374.2,-40.5 380.0,-40.5 C385.8,-40.5 390.3,-40.2 395.0,-40.0 C399.7,-39.8 404.7,-39.7 408.0,-39.0 C411.3,-38.3 413.0,-37.5 415.0,-36.0 C417.0,-34.5 418.7,-32.7 420.0,-30.0 C421.3,-27.3 422.5,-21.7 423.0,-20.0" stroke-width="1.82"/>
<path d="M423.0,20.0 C422.5,21.7 421.3,27.3 420.0,30.0 C418.7,32.7 417.0,34.5 415.0,36.0 C413.0,37.5 411.3,38.3 408.0,39.0 C404.7,39.7 399.7,39.8 395.0,40.0 C390.3,40.2 385.8,40.5 380.0,40.5 C374.2,40.5 365.8,40.3 360.0,40.0 C354.2,39.7 349.7,39.3 345.0,38.5 C340.3,37.7 335.5,36.4 332.0,35.0 C328.5,33.6 326.3,32.2 324.0,30.0 C321.7,27.8 319.7,25.0 318.0,22.0 C316.3,19.0 315.5,14.0 314.0,12.0 C312.5,10.0 309.8,10.3 309.0,10.0" stroke-width="1.82"/>
<path d="M313.0,-10.5 A6.1,10.5 0 0 1 313.0,10.5" stroke-width="2.60"/>
<path d="M319.0,-23.0 A13.3,23.0 0 0 1 319.0,23.0" stroke-width="2.60"/>
<path d="M325.0,-30.5 A17.7,30.5 0 0 1 325.0,30.5" stroke-width="2.86"/>
<path d="M333.0,-35.3 A20.5,35.3 0 0 1 333.0,35.3" stroke-width="2.86"/>
<path d="M343.0,-38.0 A22.0,38.0 0 0 1 343.0,38.0" stroke-width="3.12"/>
<path d="M353.0,-39.5 A22.9,39.5 0 0 1 353.0,39.5" stroke-width="3.12"/>
<path d="M363.0,-40.2 A23.3,40.2 0 0 1 363.0,40.2" stroke-width="3.12"/>
<path d="M373.0,-40.4 A23.4,40.4 0 0 1 373.0,40.4" stroke-width="3.12"/>
<path d="M383.0,-40.4 A23.4,40.4 0 0 1 383.0,40.4" stroke-width="3.12"/>
<path d="M392.0,-40.0 A23.2,40.0 0 0 1 392.0,40.0" stroke-width="3.64"/>
<path d="M396.0,-40.0 A23.2,40.0 0 0 1 396.0,40.0" stroke-width="1.69"/>
</g>
<g transform="translate(996.5 1372.1) rotate(-29.4)" >
<path d="M203.0,-9.6 L312.0,-9.6 L312.0,9.6 L203.0,9.6Z" stroke="none" fill="#fff"/>
<path d="M312.0,-9.6 A5.6,9.6 0 0 1 312.0,9.6" stroke-width="1.82" fill="#fff"/>
<path d="M203.0,-9.6 L312.0,-9.6" stroke-width="1.82"/>
<path d="M312.0,9.6 L203.0,9.6" stroke-width="1.82"/>
<path d="M222.0,-9.6 A5.6,9.6 0 0 1 222.0,9.6" stroke-width="1.69"/>
<path d="M228.0,-9.6 A5.6,9.6 0 0 1 228.0,9.6" stroke-width="1.69"/>
<path d="M290.0,-9.6 A5.6,9.6 0 0 1 290.0,9.6" stroke-width="1.69"/>
<path d="M297.0,-9.6 A5.6,9.6 0 0 1 297.0,9.6" stroke-width="1.69"/>
</g>
<g transform="translate(996.5 1372.1) rotate(-29.4)" >
<path d="M244,-12 C238,-6 248,-2 244,3 C241,8 248,10 245,13 M265,-13 C259,-7 269,-2 265,3 C262,8 269,10 266,13" stroke-width="1.69" fill="none"/>
<rect x="245.5" y="-12" width="17.5" height="24" fill="#fff" stroke="none"/>
<ellipse cx="249.5" cy="-4" rx="4.5" ry="6.5" stroke-width="1.69"/><ellipse cx="259" cy="4.5" rx="4.5" ry="6.5" stroke-width="1.69"/>
</g>
<g transform="translate(996.5 1372.1) rotate(-29.4)" >
<path d="M104.0,-33.0 L127.0,-33.5 L131.0,-36.0 L150.0,-36.5 L165.0,-34.5 L176.0,-30.0 L185.0,-23.0 L190.0,-14.0 L192.0,-11.5 L205.0,-11.0 L205.0,11.0 L192.0,11.5 L190.0,14.0 L185.0,23.0 L176.0,30.0 L165.0,34.5 L150.0,36.5 L131.0,36.0 L127.0,33.5 L104.0,33.0Z" stroke="none" fill="#fff"/>
<path d="M205.0,-11.0 A6.4,11.0 0 0 1 205.0,11.0" stroke-width="1.82" fill="#fff"/>
<path d="M104.0,-33.0 L127.0,-33.5 L131.0,-36.0 L150.0,-36.5 L165.0,-34.5 L176.0,-30.0 L185.0,-23.0 L190.0,-14.0 L192.0,-11.5 L205.0,-11.0" stroke-width="1.82"/>
<path d="M205.0,11.0 L192.0,11.5 L190.0,14.0 L185.0,23.0 L176.0,30.0 L165.0,34.5 L150.0,36.5 L131.0,36.0 L127.0,33.5 L104.0,33.0" stroke-width="1.82"/>
<path d="M127.0,-33.5 A19.4,33.5 0 0 1 127.0,33.5" stroke-width="3.38"/>
<path d="M131.0,-36.0 A20.9,36.0 0 0 1 131.0,36.0" stroke-width="1.82"/>
<path d="M138.0,-36.3 A21.1,36.3 0 0 1 138.0,36.3" stroke-width="3.12"/>
<path d="M146.0,-36.5 A21.2,36.5 0 0 1 146.0,36.5" stroke-width="3.12"/>
<path d="M154.0,-36.2 A21.0,36.2 0 0 1 154.0,36.2" stroke-width="3.12"/>
<path d="M162.0,-35.0 A20.3,35.0 0 0 1 162.0,35.0" stroke-width="3.12"/>
<path d="M170.0,-32.5 A18.8,32.5 0 0 1 170.0,32.5" stroke-width="3.12"/>
<path d="M178.0,-28.5 A16.5,28.5 0 0 1 178.0,28.5" stroke-width="2.86"/>
<path d="M185.0,-23.0 A13.3,23.0 0 0 1 185.0,23.0" stroke-width="2.60"/>
<path d="M192.0,-11.5 A6.7,11.5 0 0 1 192.0,11.5" stroke-width="1.82"/>
<path d="M198.0,-11.2 A6.5,11.2 0 0 1 198.0,11.2" stroke-width="2.34"/>
</g>
<g transform="translate(996.5 1372.1) rotate(-29.4)" >
<ellipse cx="104.0" cy="0.0" rx="19.0" ry="33.0" stroke-width="1.82" fill="#fff"/>
<ellipse cx="101.0" cy="0.0" rx="16.5" ry="29.0" stroke-width="1.69" fill="none"/>
<ellipse cx="96.0" cy="0.0" rx="13.0" ry="23.0" stroke-width="1.69" fill="none"/>
<ellipse cx="90.0" cy="0.0" rx="9.5" ry="17.0" stroke-width="2.08" fill="none"/>
</g>
<g transform="translate(996.5 1372.1) rotate(-29.4)" >
<ellipse cx="88.4" cy="0.0" rx="21.7" ry="38.4" stroke-width="1.82" fill="none"/>
<ellipse cx="88.4" cy="0.0" rx="19.2" ry="35.2" stroke-width="1.69" fill="none"/>
</g>
<g transform="translate(996.5 1372.1) rotate(-29.4)" >
<path d="M74.0,-9.0 L90.0,-9.0 L90.0,9.0 L74.0,9.0Z" stroke="none" fill="#fff"/>
<path d="M90.0,-9.0 A5.2,9.0 0 0 1 90.0,9.0" stroke-width="1.82" fill="#fff"/>
<path d="M74.0,-9.0 L90.0,-9.0" stroke-width="1.82"/>
<path d="M90.0,9.0 L74.0,9.0" stroke-width="1.82"/>
<path d="M78.0,-9.0 A5.2,9.0 0 0 1 78.0,9.0" stroke-width="3.12"/>
<path d="M83.0,-9.0 A5.2,9.0 0 0 1 83.0,9.0" stroke-width="3.12"/>
</g>
<g transform="translate(996.5 1372.1) rotate(-29.4)" >
<path d="M32.0,-10.5 L40.0,-10.5 L41.0,-9.5 L72.0,-9.5 L74.0,-12.0 L78.0,-12.0 L78.0,12.0 L74.0,12.0 L72.0,9.5 L41.0,9.5 L40.0,10.5 L32.0,10.5Z" stroke="none" fill="#fff"/>
<path d="M78.0,-12.0 A7.0,12.0 0 0 1 78.0,12.0" stroke-width="1.82" fill="#fff"/>
<path d="M32.0,-10.5 L40.0,-10.5 L41.0,-9.5 L72.0,-9.5 L74.0,-12.0 L78.0,-12.0" stroke-width="1.82"/>
<path d="M78.0,12.0 L74.0,12.0 L72.0,9.5 L41.0,9.5 L40.0,10.5 L32.0,10.5" stroke-width="1.82"/>
<path d="M40.0,-10.5 A6.1,10.5 0 0 1 40.0,10.5" stroke-width="1.69"/>
<path d="M50.0,-9.5 A5.5,9.5 0 0 1 50.0,9.5" stroke-width="1.69"/>
<path d="M57.0,-9.5 A5.5,9.5 0 0 1 57.0,9.5" stroke-width="1.69"/>
<path d="M78.0,-12.0 A7.0,12.0 0 0 1 78.0,12.0" stroke-width="1.82"/>
</g>
<g transform="translate(996.5 1372.1) rotate(-29.4)" >
<path d="M0.0,-11.0 L32.0,-11.0 L32.0,11.0 L0.0,11.0Z" stroke="none" fill="#fff"/>
<path d="M32.0,-11.0 A6.4,11.0 0 0 1 32.0,11.0" stroke-width="1.82" fill="#fff"/>
<path d="M0.0,-11.0 L32.0,-11.0" stroke-width="1.82"/>
<path d="M32.0,11.0 L0.0,11.0" stroke-width="1.82"/>
<ellipse cx="0.0" cy="0" rx="6.4" ry="11.0" stroke-width="1.82" fill="#fff"/>
</g>
<g transform="translate(996.5 1372.1) rotate(-29.4)" >
<path d="M3.1,-10.8 L33.1,-10.8M5.5,-9.2 L35.5,-9.2M7.3,-6.2 L37.3,-6.2M8.3,-2.2 L38.3,-2.2M8.3,2.2 L38.3,2.2M7.3,6.2 L37.3,6.2M5.5,9.2 L35.5,9.2M3.1,10.8 L33.1,10.8" stroke-width="1.95"/>
</g>
<g transform="translate(626.9 1760.4) rotate(-29.0)" >
<path d="M128.0,-14.0 L128.5,-23.0 L135.0,-28.5 L145.0,-32.0 L156.0,-34.0 L178.0,-34.0 L178.0,34.0 L156.0,34.0 L145.0,32.0 L135.0,28.5 L128.5,23.0 L128.0,14.0Z" stroke="none" fill="#fff"/>
<path d="M178.0,-34.0 A19.7,34.0 0 0 1 178.0,34.0" stroke-width="1.82" fill="#fff"/>
<path d="M128.0,-14.0 L128.5,-23.0 L135.0,-28.5 L145.0,-32.0 L156.0,-34.0 L178.0,-34.0" stroke-width="1.82"/>
<path d="M178.0,34.0 L156.0,34.0 L145.0,32.0 L135.0,28.5 L128.5,23.0 L128.0,14.0" stroke-width="1.82"/>
<path d="M156.0,-34.0 A19.7,34.0 0 0 1 156.0,34.0" stroke-width="1.56"/>
<path d="M162.0,-34.0 A19.7,34.0 0 0 1 162.0,34.0" stroke-width="4.16"/>
<path d="M168.0,-34.0 A19.7,34.0 0 0 1 168.0,34.0" stroke-width="1.82"/>
<path d="M173.0,-34.0 A19.7,34.0 0 0 1 173.0,34.0" stroke-width="3.90"/>
</g>
<g transform="translate(626.9 1760.4) rotate(-29.0)" >
<ellipse cx="128.5" cy="0.0" rx="13.0" ry="23.0" stroke-width="1.69" fill="#fff"/>
<ellipse cx="130.0" cy="0.0" rx="11.0" ry="19.0" stroke-width="3.38" fill="none"/>
<ellipse cx="131.0" cy="0.0" rx="9.0" ry="15.5" stroke-width="1.69" fill="none"/>
<path d="M140,-30 A18,31 0 0 1 152,-8" stroke-width="1.56"/><path d="M158,12 A18,31 0 0 1 150,30" stroke-width="1.56"/>
</g>
<g transform="translate(626.9 1760.4) rotate(-29.0)" >
<path d="M77.0,-12.3 L128.0,-12.3 L128.0,12.3 L77.0,12.3Z" stroke="none" fill="#fff"/>
<path d="M128.0,-12.3 A7.1,12.3 0 0 1 128.0,12.3" stroke-width="1.82" fill="#fff"/>
<path d="M77.0,-12.3 L128.0,-12.3" stroke-width="1.82"/>
<path d="M128.0,12.3 L77.0,12.3" stroke-width="1.82"/>
<path d="M92.0,-12.3 A7.1,12.3 0 0 1 92.0,12.3" stroke-width="1.69"/>
</g>
<g transform="translate(626.9 1760.4) rotate(-29.0)" >
<path d="M34.0,-12.5 L77.0,-12.5 L77.0,12.5 L34.0,12.5Z" stroke="none" fill="#fff"/>
<path d="M77.0,-12.5 A7.2,12.5 0 0 1 77.0,12.5" stroke-width="1.82" fill="#fff"/>
<path d="M34.0,-12.5 L77.0,-12.5" stroke-width="1.82"/>
<path d="M77.0,12.5 L34.0,12.5" stroke-width="1.82"/>
<path d="M77.0,-12.5 A7.2,12.5 0 0 1 77.0,12.5" stroke-width="3.38"/>
</g>
<g transform="translate(626.9 1760.4) rotate(-29.0)" >
<path d="M37.3,-12.3 L77.3,-12.3M39.6,-10.8 L79.6,-10.8M41.6,-8.0 L81.6,-8.0M42.8,-4.3 L82.8,-4.3M43.2,0.0 L83.2,0.0M42.8,4.3 L82.8,4.3M41.6,8.0 L81.6,8.0M39.6,10.8 L79.6,10.8M37.3,12.3 L77.3,12.3" stroke-width="1.95"/>
</g>
<g transform="translate(626.9 1760.4) rotate(-29.0)" >
<path d="M26.0,-10.0 L34.0,-10.0 L34.0,10.0 L26.0,10.0Z" stroke="none" fill="#fff"/>
<path d="M34.0,-10.0 A5.8,10.0 0 0 1 34.0,10.0" stroke-width="1.82" fill="#fff"/>
<path d="M26.0,-10.0 L34.0,-10.0" stroke-width="1.82"/>
<path d="M34.0,10.0 L26.0,10.0" stroke-width="1.82"/>
<path d="M30.0,-10.0 A5.8,10.0 0 0 1 30.0,10.0" stroke-width="2.60"/>
<ellipse cx="26.0" cy="0" rx="5.8" ry="10.0" stroke-width="1.82" fill="#fff"/>
</g>
<g transform="translate(626.9 1760.4) rotate(-29.0)" >
<path d="M0.0,-7.0 L3.0,-8.5 L26.0,-8.5 L26.0,8.5 L3.0,8.5 L0.0,7.0Z" stroke="none" fill="#fff"/>
<path d="M26.0,-8.5 A4.9,8.5 0 0 1 26.0,8.5" stroke-width="1.82" fill="#fff"/>
<path d="M0.0,-7.0 L3.0,-8.5 L26.0,-8.5" stroke-width="1.82"/>
<path d="M26.0,8.5 L3.0,8.5 L0.0,7.0" stroke-width="1.82"/>
<path d="M8.0,-8.5 A4.9,8.5 0 0 1 8.0,8.5" stroke-width="2.34"/>
<path d="M12.0,-8.5 A4.9,8.5 0 0 1 12.0,8.5" stroke-width="2.34"/>
<path d="M16.0,-8.5 A4.9,8.5 0 0 1 16.0,8.5" stroke-width="2.34"/>
<path d="M20.0,-8.5 A4.9,8.5 0 0 1 20.0,8.5" stroke-width="2.34"/>
<path d="M24.0,-8.5 A4.9,8.5 0 0 1 24.0,8.5" stroke-width="2.34"/>
<ellipse cx="0.0" cy="0" rx="4.1" ry="7.0" stroke-width="1.82" fill="#fff"/>
</g>
<g transform="translate(626.9 1760.4) rotate(-29.0)" >
<ellipse cx="5.0" cy="0.0" rx="2.2" ry="3.5" stroke-width="1.69" fill="none"/>
</g>
<g transform="translate(841.0 1637.0) rotate(-29.6)" >
<path d="M272.0,-10.5 L291.0,-10.5 L291.0,10.5 L272.0,10.5Z" stroke="none" fill="#fff"/>
<path d="M291.0,-10.5 A6.1,10.5 0 0 1 291.0,10.5" stroke-width="1.82" fill="#fff"/>
<path d="M272.0,-10.5 L291.0,-10.5" stroke-width="1.82"/>
<path d="M291.0,10.5 L272.0,10.5" stroke-width="1.82"/>
</g>
<g transform="translate(841.0 1637.0) rotate(-29.6)" >
<path d="M274.1,-10.3 L292.1,-10.3M276.3,-8.8 L294.3,-8.8M278.0,-5.9 L296.0,-5.9M279.0,-2.1 L297.0,-2.1M279.0,2.1 L297.0,2.1M278.0,5.9 L296.0,5.9M276.3,8.8 L294.3,8.8M274.1,10.3 L292.1,10.3" stroke-width="1.82"/>
</g>
<g transform="translate(841.0 1637.0) rotate(-29.6)" >
<path d="M228.0,-9.3 L272.0,-9.3 L272.0,9.3 L228.0,9.3Z" stroke="none" fill="#fff"/>
<path d="M272.0,-9.3 A5.4,9.3 0 0 1 272.0,9.3" stroke-width="1.82" fill="#fff"/>
<path d="M228.0,-9.3 L272.0,-9.3" stroke-width="1.82"/>
<path d="M272.0,9.3 L228.0,9.3" stroke-width="1.82"/>
<path d="M270.0,-9.3 A5.4,9.3 0 0 1 270.0,9.3" stroke-width="1.69"/>
</g>
<g transform="translate(841.0 1637.0) rotate(-29.6)" >
<path d="M201.0,-10.5 L228.0,-10.5 L228.0,10.5 L201.0,10.5Z" stroke="none" fill="#fff"/>
<path d="M228.0,-10.5 A6.1,10.5 0 0 1 228.0,10.5" stroke-width="1.82" fill="#fff"/>
<path d="M201.0,-10.5 L228.0,-10.5" stroke-width="1.82"/>
<path d="M228.0,10.5 L201.0,10.5" stroke-width="1.82"/>
<path d="M207.0,-10.5 A6.1,10.5 0 0 1 207.0,10.5" stroke-width="2.60"/>
<path d="M213.0,-10.5 A6.1,10.5 0 0 1 213.0,10.5" stroke-width="2.60"/>
<path d="M219.0,-10.5 A6.1,10.5 0 0 1 219.0,10.5" stroke-width="2.60"/>
<path d="M226.0,-10.5 A6.1,10.5 0 0 1 226.0,10.5" stroke-width="1.69"/>
</g>
<g transform="translate(841.0 1637.0) rotate(-29.6)" >
<path d="M150.0,-9.3 L201.0,-9.3 L201.0,9.3 L150.0,9.3Z" stroke="none" fill="#fff"/>
<path d="M201.0,-9.3 A5.4,9.3 0 0 1 201.0,9.3" stroke-width="1.82" fill="#fff"/>
<path d="M150.0,-9.3 L201.0,-9.3" stroke-width="1.82"/>
<path d="M201.0,9.3 L150.0,9.3" stroke-width="1.82"/>
<path d="M184.0,-9.3 A5.4,9.3 0 0 1 184.0,9.3" stroke-width="1.69"/>
</g>
<g transform="translate(841.0 1637.0) rotate(-29.6)" >
<path d="M151,-10 C146,-6 154,-2 150,2 C147,6 153,8 150,11" stroke="#000" stroke-width="1.69" fill="#fff"/>
<rect x="128" y="-12" width="20" height="24" fill="#fff" stroke="none"/>
<ellipse cx="143" cy="-4" rx="4" ry="5.5" stroke-width="1.69"/><ellipse cx="134" cy="4" rx="4" ry="5.5" stroke-width="1.69"/>
</g>
<g transform="translate(841.0 1637.0) rotate(-29.6)" >
<path d="M112.0,-9.3 L127.0,-9.3 L127.0,9.3 L112.0,9.3Z" stroke="none" fill="#fff"/>
<path d="M127.0,-9.3 A5.4,9.3 0 0 1 127.0,9.3" stroke-width="1.82" fill="#fff"/>
<path d="M112.0,-9.3 L127.0,-9.3" stroke-width="1.82"/>
<path d="M127.0,9.3 L112.0,9.3" stroke-width="1.82"/>
</g>
<g transform="translate(841.0 1637.0) rotate(-29.6)" >
<path d="M127,-9.5 C131,-5 124,-1 128,3 C131,6 126,8 128,10" stroke-width="1.69"/>
</g>
<g transform="translate(841.0 1637.0) rotate(-29.6)" >
<path d="M76.0,-10.5 L112.0,-10.5 L112.0,10.5 L76.0,10.5Z" stroke="none" fill="#fff"/>
<path d="M112.0,-10.5 A6.1,10.5 0 0 1 112.0,10.5" stroke-width="1.82" fill="#fff"/>
<path d="M76.0,-10.5 L112.0,-10.5" stroke-width="1.82"/>
<path d="M112.0,10.5 L76.0,10.5" stroke-width="1.82"/>
<path d="M84.0,-10.5 A6.1,10.5 0 0 1 84.0,10.5" stroke-width="2.60"/>
<path d="M90.0,-10.5 A6.1,10.5 0 0 1 90.0,10.5" stroke-width="2.60"/>
<path d="M96.0,-10.5 A6.1,10.5 0 0 1 96.0,10.5" stroke-width="2.60"/>
<path d="M110.0,-10.5 A6.1,10.5 0 0 1 110.0,10.5" stroke-width="1.69"/>
</g>
<g transform="translate(841.0 1637.0) rotate(-29.6)" >
<path d="M32.0,-8.5 L76.0,-8.5 L76.0,8.5 L32.0,8.5Z" stroke="none" fill="#fff"/>
<path d="M76.0,-8.5 A4.9,8.5 0 0 1 76.0,8.5" stroke-width="1.82" fill="#fff"/>
<path d="M32.0,-8.5 L76.0,-8.5" stroke-width="1.82"/>
<path d="M76.0,8.5 L32.0,8.5" stroke-width="1.82"/>
</g>
<g transform="translate(841.0 1637.0) rotate(-29.6)" >
<path d="M25.0,-10.0 L32.0,-10.0 L32.0,10.0 L25.0,10.0Z" stroke="none" fill="#fff"/>
<path d="M32.0,-10.0 A5.8,10.0 0 0 1 32.0,10.0" stroke-width="1.82" fill="#fff"/>
<path d="M25.0,-10.0 L32.0,-10.0" stroke-width="1.82"/>
<path d="M32.0,10.0 L25.0,10.0" stroke-width="1.82"/>
<path d="M28.0,-10.0 A5.8,10.0 0 0 1 28.0,10.0" stroke-width="1.69"/>
</g>
<g transform="translate(841.0 1637.0) rotate(-29.6)" >
<path d="M0.0,-10.5 L25.0,-10.5 L25.0,10.5 L0.0,10.5Z" stroke="none" fill="#fff"/>
<path d="M25.0,-10.5 A6.1,10.5 0 0 1 25.0,10.5" stroke-width="1.82" fill="#fff"/>
<path d="M0.0,-10.5 L25.0,-10.5" stroke-width="1.82"/>
<path d="M25.0,10.5 L0.0,10.5" stroke-width="1.82"/>
<path d="M25.0,-10.5 A6.1,10.5 0 0 1 25.0,10.5" stroke-width="1.82"/>
<ellipse cx="0.0" cy="0" rx="6.1" ry="10.5" stroke-width="1.82" fill="#fff"/>
</g>
<g transform="translate(841.0 1637.0) rotate(-29.6)" >
<path d="M4.1,-10.3 L25.1,-10.3M6.3,-8.8 L27.3,-8.8M8.0,-5.9 L29.0,-5.9M9.0,-2.1 L30.0,-2.1M9.0,2.1 L30.0,2.1M8.0,5.9 L29.0,5.9M6.3,8.8 L27.3,8.8M4.1,10.3 L25.1,10.3" stroke-width="1.95"/>
</g>
<g transform="translate(1227.2 1415.2) rotate(-29.2)" >
<path d="M110.0,-11.0 L142.0,-11.0 L142.0,11.0 L110.0,11.0Z" stroke="none" fill="#fff"/>
<path d="M142.0,-11.0 A5.5,11.0 0 0 1 142.0,11.0" stroke-width="1.82" fill="#fff"/>
<path d="M110.0,-11.0 L142.0,-11.0" stroke-width="1.82"/>
<path d="M142.0,11.0 L110.0,11.0" stroke-width="1.82"/>
</g>
<g transform="translate(1227.2 1415.2) rotate(-29.2)" >
<path d="M112.0,-10.8 L142.0,-10.8M114.0,-9.2 L144.0,-9.2M115.5,-6.2 L145.5,-6.2M116.4,-2.2 L146.4,-2.2M116.4,2.2 L146.4,2.2M115.5,6.2 L145.5,6.2M114.0,9.2 L144.0,9.2M112.0,10.8 L142.0,10.8" stroke-width="1.82"/>
</g>
<g transform="translate(1227.2 1415.2) rotate(-29.2)" >
<path d="M70.0,-9.5 L110.0,-9.5 L110.0,9.5 L70.0,9.5Z" stroke="none" fill="#fff"/>
<path d="M110.0,-9.5 A4.8,9.5 0 0 1 110.0,9.5" stroke-width="1.82" fill="#fff"/>
<path d="M70.0,-9.5 L110.0,-9.5" stroke-width="1.82"/>
<path d="M110.0,9.5 L70.0,9.5" stroke-width="1.82"/>
<path d="M85.0,-9.5 A4.8,9.5 0 0 1 85.0,9.5" stroke-width="1.69"/>
<path d="M92.0,-9.5 A4.8,9.5 0 0 1 92.0,9.5" stroke-width="1.69"/>
</g>
<g transform="translate(1227.2 1415.2) rotate(-29.2)" >
<path d="M52.0,-37.0 L56.0,-36.0 L62.0,-22.0 L70.0,-12.0 L70.0,12.0 L62.0,22.0 L56.0,36.0 L52.0,37.0Z" stroke="none" fill="#fff"/>
<path d="M70.0,-12.0 A6.0,12.0 0 0 1 70.0,12.0" stroke-width="1.82" fill="#fff"/>
<path d="M52.0,-37.0 L56.0,-36.0 L62.0,-22.0 L70.0,-12.0" stroke-width="1.82"/>
<path d="M70.0,12.0 L62.0,22.0 L56.0,36.0 L52.0,37.0" stroke-width="1.82"/>
<path d="M62.0,-22.0 A11.0,22.0 0 0 1 62.0,22.0" stroke-width="1.69"/>
</g>
<g transform="translate(1227.2 1415.2) rotate(-29.2)" >
<path d="M46.0,-37.5 L52.0,-37.5 L52.0,37.5 L46.0,37.5Z" stroke="none" fill="#fff"/>
<path d="M52.0,-37.5 A18.8,37.5 0 0 1 52.0,37.5" stroke-width="1.82" fill="#fff"/>
<path d="M46.0,-37.5 L52.0,-37.5" stroke-width="1.82"/>
<path d="M52.0,37.5 L46.0,37.5" stroke-width="1.82"/>
<ellipse cx="46.0" cy="0" rx="18.8" ry="37.5" stroke-width="1.82" fill="#fff"/>
</g>
<g transform="translate(1227.2 1415.2) rotate(-29.2)" >
<path d="M0.0,-35.2 L30.0,-35.2 L46.0,-33.0 L46.0,33.0 L30.0,35.2 L0.0,35.2Z" stroke="none" fill="#fff"/>
<path d="M46.0,-33.0 A16.5,33.0 0 0 1 46.0,33.0" stroke-width="1.82" fill="#fff"/>
<path d="M0.0,-35.2 L30.0,-35.2 L46.0,-33.0" stroke-width="1.82"/>
<path d="M46.0,33.0 L30.0,35.2 L0.0,35.2" stroke-width="1.82"/>
<path d="M4.0,-35.2 A17.6,35.2 0 0 1 4.0,35.2" stroke-width="3.64"/>
<path d="M9.0,-35.2 A17.6,35.2 0 0 1 9.0,35.2" stroke-width="1.69"/>
<path d="M13.0,-35.2 A17.6,35.2 0 0 1 13.0,35.2" stroke-width="3.12"/>
<path d="M30.0,-35.2 A17.6,35.2 0 0 1 30.0,35.2" stroke-width="1.69"/>
</g>
<g transform="translate(1227.2 1415.2) rotate(-29.2)" >
<ellipse cx="0.0" cy="0.0" rx="17.7" ry="35.2" stroke-width="2.08" fill="#fff"/>
<ellipse cx="1.0" cy="0.0" rx="15.5" ry="32.0" stroke-width="3.12" fill="none"/>
<ellipse cx="3.0" cy="0.0" rx="13.0" ry="28.0" stroke-width="1.69" fill="none"/>
<path d="M8.0,-26.0 A12.0,26.0 0 0 0 8.0,26.0" stroke-width="1.69"/>
<path d="M14.0,-24.0 A11.0,24.0 0 0 0 14.0,24.0" stroke-width="1.69"/>
<path d="M20.0,-22.0 A10.0,22.0 0 0 0 20.0,22.0" stroke-width="1.69"/>
</g>
<g transform="translate(1133.9 1467.5) rotate(-30)" >
<path d="M0,-38 L22,-38 A20,38 0 0 1 22,38 L0,38" stroke-width="1.82" fill="#fff"/>
<ellipse cx="17" cy="-33" rx="6.8" ry="8" stroke-width="1.69" fill="#fff"/>
<ellipse cx="27" cy="-12" rx="8.9" ry="10.5" stroke-width="1.69" fill="#fff"/>
<ellipse cx="27" cy="13" rx="8.9" ry="10.5" stroke-width="1.69" fill="#fff"/>
<ellipse cx="17" cy="33" rx="6.8" ry="8" stroke-width="1.69" fill="#fff"/>
<ellipse cx="0.0" cy="0.0" rx="20.0" ry="38.0" stroke-width="1.82" fill="#fff"/>
<ellipse cx="0.0" cy="0.0" rx="17.5" ry="34.0" stroke-width="1.69" fill="none"/>
<ellipse cx="1.0" cy="0.0" rx="13.0" ry="26.0" stroke-width="1.82" fill="none"/>
<ellipse cx="2.0" cy="0.0" rx="10.0" ry="21.0" stroke-width="2.60" fill="none"/>
<ellipse cx="3.0" cy="0.0" rx="7.0" ry="15.0" stroke-width="1.82" fill="none"/>
<path d="M6.0,-13.0 A6.0,13.0 0 0 0 6.0,13.0" stroke-width="1.56"/>
<path d="M-4,-24 L4,-14 M-6,14 L2,24" stroke-width="1.69"/>
</g>
<g transform="translate(1013.3 1822.7) rotate(-30)" >
<path d="M72.0,-11.0 L86.0,-11.0 L86.0,11.0 L72.0,11.0Z" stroke="none" fill="#fff"/>
<path d="M86.0,-11.0 A6.3,11.0 0 0 1 86.0,11.0" stroke-width="1.82" fill="#fff"/>
<path d="M72.0,-11.0 L86.0,-11.0" stroke-width="1.82"/>
<path d="M86.0,11.0 L72.0,11.0" stroke-width="1.82"/>
<path d="M80.0,-11.0 A6.3,11.0 0 0 1 80.0,11.0" stroke-width="2.34"/>
</g>
<g transform="translate(1013.3 1822.7) rotate(-30)" >
<path d="M0.0,-40.2 C1.7,-40.3 5.8,-41.0 10.0,-41.0 C14.2,-41.0 20.3,-40.7 25.0,-40.0 C29.7,-39.3 33.8,-38.3 38.0,-37.0 C42.2,-35.7 46.3,-33.8 50.0,-32.0 C53.7,-30.2 57.0,-28.2 60.0,-26.0 C63.0,-23.8 66.0,-21.3 68.0,-19.0 C70.0,-16.7 71.3,-13.2 72.0,-12.0 L72.0,12.0 C71.3,13.2 70.0,16.7 68.0,19.0 C66.0,21.3 63.0,23.8 60.0,26.0 C57.0,28.2 53.7,30.2 50.0,32.0 C46.3,33.8 42.2,35.7 38.0,37.0 C33.8,38.3 29.7,39.3 25.0,40.0 C20.3,40.7 14.2,41.0 10.0,41.0 C5.8,41.0 1.7,40.3 0.0,40.2Z" stroke="none" fill="#fff"/>
<path d="M72.0,-12.0 A6.8,12.0 0 0 1 72.0,12.0" stroke-width="1.82" fill="#fff"/>
<path d="M0.0,-40.2 C1.7,-40.3 5.8,-41.0 10.0,-41.0 C14.2,-41.0 20.3,-40.7 25.0,-40.0 C29.7,-39.3 33.8,-38.3 38.0,-37.0 C42.2,-35.7 46.3,-33.8 50.0,-32.0 C53.7,-30.2 57.0,-28.2 60.0,-26.0 C63.0,-23.8 66.0,-21.3 68.0,-19.0 C70.0,-16.7 71.3,-13.2 72.0,-12.0" stroke-width="1.82"/>
<path d="M72.0,12.0 C71.3,13.2 70.0,16.7 68.0,19.0 C66.0,21.3 63.0,23.8 60.0,26.0 C57.0,28.2 53.7,30.2 50.0,32.0 C46.3,33.8 42.2,35.7 38.0,37.0 C33.8,38.3 29.7,39.3 25.0,40.0 C20.3,40.7 14.2,41.0 10.0,41.0 C5.8,41.0 1.7,40.3 0.0,40.2" stroke-width="1.82"/>
<path d="M5.0,-40.6 A23.1,40.6 0 0 1 5.0,40.6" stroke-width="3.38"/>
<path d="M10.0,-41.0 A23.4,41.0 0 0 1 10.0,41.0" stroke-width="1.82"/>
<path d="M17.0,-40.6 A23.1,40.6 0 0 1 17.0,40.6" stroke-width="3.12"/>
<path d="M26.0,-39.8 A22.7,39.8 0 0 1 26.0,39.8" stroke-width="3.12"/>
<path d="M35.0,-38.0 A21.7,38.0 0 0 1 35.0,38.0" stroke-width="3.12"/>
<path d="M44.0,-35.0 A19.9,35.0 0 0 1 44.0,35.0" stroke-width="3.12"/>
<path d="M53.0,-30.5 A17.4,30.5 0 0 1 53.0,30.5" stroke-width="2.86"/>
<path d="M61.0,-25.5 A14.5,25.5 0 0 1 61.0,25.5" stroke-width="2.86"/>
<path d="M68.0,-19.0 A10.8,19.0 0 0 1 68.0,19.0" stroke-width="2.08"/>
</g>
<g transform="translate(1013.3 1822.7) rotate(-30)" >
<ellipse cx="0.0" cy="0.0" rx="23.0" ry="40.2" stroke-width="2.34" fill="#fff"/>
<ellipse cx="1.0" cy="0.0" rx="21.0" ry="37.0" stroke-width="3.12" fill="none"/>
<ellipse cx="3.0" cy="0.0" rx="18.5" ry="33.0" stroke-width="1.69" fill="none"/>
<path d="M7.0,-31.0 A17.1,31.0 0 0 0 7.0,31.0" stroke-width="2.08"/>
<path d="M12.0,-28.5 A15.7,28.5 0 0 0 12.0,28.5" stroke-width="2.08"/>
<path d="M18.0,-26.0 A14.3,26.0 0 0 0 18.0,26.0" stroke-width="2.08"/>
<path d="M24.0,-23.0 A12.7,23.0 0 0 0 24.0,23.0" stroke-width="2.08"/>
</g>
<g transform="translate(1218.7 1704.7) rotate(-27.6)" >
<path d="M9.0,-17.0 C9.7,-17.2 12.0,-17.0 13.0,-18.0 C14.0,-19.0 14.0,-21.2 15.0,-23.0 C16.0,-24.8 17.2,-26.9 19.0,-28.5 C20.8,-30.1 23.3,-31.4 26.0,-32.5 C28.7,-33.6 31.3,-34.4 35.0,-35.0 C38.7,-35.6 43.7,-35.8 48.0,-36.0 C52.3,-36.2 57.3,-36.1 61.0,-36.0 C64.7,-35.9 67.8,-35.8 70.0,-35.5 C72.2,-35.2 73.3,-34.2 74.0,-34.0 L74.0,34.0 C73.3,34.2 72.2,35.2 70.0,35.5 C67.8,35.8 64.7,35.9 61.0,36.0 C57.3,36.1 52.3,36.2 48.0,36.0 C43.7,35.8 38.7,35.6 35.0,35.0 C31.3,34.4 28.7,33.6 26.0,32.5 C23.3,31.4 20.8,30.1 19.0,28.5 C17.2,26.9 16.0,24.8 15.0,23.0 C14.0,21.2 14.0,19.0 13.0,18.0 C12.0,17.0 9.7,17.2 9.0,17.0Z" stroke="none" fill="#fff"/>
<path d="M74.0,-34.0 A19.4,34.0 0 0 1 74.0,34.0" stroke-width="1.82" fill="#fff"/>
<path d="M9.0,-17.0 C9.7,-17.2 12.0,-17.0 13.0,-18.0 C14.0,-19.0 14.0,-21.2 15.0,-23.0 C16.0,-24.8 17.2,-26.9 19.0,-28.5 C20.8,-30.1 23.3,-31.4 26.0,-32.5 C28.7,-33.6 31.3,-34.4 35.0,-35.0 C38.7,-35.6 43.7,-35.8 48.0,-36.0 C52.3,-36.2 57.3,-36.1 61.0,-36.0 C64.7,-35.9 67.8,-35.8 70.0,-35.5 C72.2,-35.2 73.3,-34.2 74.0,-34.0" stroke-width="1.82"/>
<path d="M74.0,34.0 C73.3,34.2 72.2,35.2 70.0,35.5 C67.8,35.8 64.7,35.9 61.0,36.0 C57.3,36.1 52.3,36.2 48.0,36.0 C43.7,35.8 38.7,35.6 35.0,35.0 C31.3,34.4 28.7,33.6 26.0,32.5 C23.3,31.4 20.8,30.1 19.0,28.5 C17.2,26.9 16.0,24.8 15.0,23.0 C14.0,21.2 14.0,19.0 13.0,18.0 C12.0,17.0 9.7,17.2 9.0,17.0" stroke-width="1.82"/>
<path d="M19.0,-28.5 A16.2,28.5 0 0 1 19.0,28.5" stroke-width="2.08"/>
<path d="M27.0,-32.8 A18.7,32.8 0 0 1 27.0,32.8" stroke-width="2.86"/>
<path d="M36.0,-35.1 A20.0,35.1 0 0 1 36.0,35.1" stroke-width="2.86"/>
<path d="M44.0,-35.8 A20.4,35.8 0 0 1 44.0,35.8" stroke-width="2.86"/>
<path d="M53.0,-36.0 A20.5,36.0 0 0 1 53.0,36.0" stroke-width="3.12"/>
<path d="M60.0,-36.0 A20.5,36.0 0 0 1 60.0,36.0" stroke-width="3.12"/>
<path d="M66.0,-35.8 A20.4,35.8 0 0 1 66.0,35.8" stroke-width="3.64"/>
<path d="M70.5,-35.4 A20.2,35.4 0 0 1 70.5,35.4" stroke-width="3.64"/>
</g>
<g transform="translate(1218.7 1704.7) rotate(-27.6)" >
<path d="M7.0,-17.5 L14.0,-17.5 L14.0,17.5 L7.0,17.5Z" stroke="none" fill="#fff"/>
<path d="M14.0,-17.5 A10.0,17.5 0 0 1 14.0,17.5" stroke-width="1.82" fill="#fff"/>
<path d="M7.0,-17.5 L14.0,-17.5" stroke-width="1.82"/>
<path d="M14.0,17.5 L7.0,17.5" stroke-width="1.82"/>
<ellipse cx="7.0" cy="0" rx="10.0" ry="17.5" stroke-width="1.82" fill="#fff"/>
</g>
<g transform="translate(1218.7 1704.7) rotate(-27.6)" >
<path d="M0.0,-14.5 L8.0,-14.5 L8.0,14.5 L0.0,14.5Z" stroke="none" fill="#fff"/>
<path d="M8.0,-14.5 A8.7,14.5 0 0 1 8.0,14.5" stroke-width="1.82" fill="#fff"/>
<path d="M0.0,-14.5 L8.0,-14.5" stroke-width="1.82"/>
<path d="M8.0,14.5 L0.0,14.5" stroke-width="1.82"/>
<path d="M4.0,-14.5 A8.7,14.5 0 0 1 4.0,14.5" stroke-width="1.95"/>
<ellipse cx="0.0" cy="0" rx="8.7" ry="14.5" stroke-width="1.82" fill="#fff"/>
</g>
<g transform="translate(1218.7 1704.7) rotate(-27.6)" >
<ellipse cx="0.5" cy="0.0" rx="7.0" ry="12.0" stroke-width="2.86" fill="none"/>
<ellipse cx="2.0" cy="0.0" rx="5.3" ry="9.5" stroke-width="1.69" fill="none"/>
</g>
<g transform="translate(664.6 1467.1) rotate(-31)" >
<ellipse cx="0.0" cy="0.0" rx="50.3" ry="90.0" stroke-width="3.90" fill="none"/>
</g>
<g transform="translate(298.6 1182.3) rotate(-29)" >
<path d="M2.9,-79.8 A50.2,80.4 0 0 1 22.0,77.7" stroke="none" fill="#fff"/>
<path d="M-5.4,-78.6 L-2.2,-79.6 L5.3,-79.6 L8.5,-80.1 L1.0,-80.1M1.0,-80.1 L4.3,-80.4 L11.8,-80.4 L15.1,-80.3 L7.6,-80.3M7.6,-80.3 L10.8,-79.9 L18.3,-79.9 L21.6,-79.1 L14.1,-79.1M14.1,-79.1 L17.3,-78.0 L24.8,-78.0 L27.9,-76.5 L20.4,-76.5M20.4,-76.5 L23.5,-74.7 L31.0,-74.7 L34.0,-72.6 L26.5,-72.6M26.5,-72.6 L29.4,-70.2 L36.9,-70.2 L39.7,-67.5 L32.2,-67.5M32.2,-67.5 L34.9,-64.5 L42.4,-64.5 L45.0,-61.3 L37.5,-61.3M37.5,-61.3 L39.9,-57.8 L47.4,-57.8 L49.7,-54.0 L42.2,-54.0M42.2,-54.0 L44.3,-50.0 L51.8,-50.0 L53.7,-45.8 L46.2,-45.8M46.2,-45.8 L48.0,-41.4 L55.5,-41.4 L57.1,-36.8 L49.6,-36.8M49.6,-36.8 L51.0,-32.0 L58.5,-32.0 L59.7,-27.2 L52.2,-27.2M52.2,-27.2 L53.2,-22.2 L60.7,-22.2 L61.5,-17.1 L54.0,-17.1M54.0,-17.1 L54.6,-11.9 L62.1,-11.9 L62.5,-6.7 L55.0,-6.7M55.0,-6.7 L55.2,-1.5 L62.7,-1.5 L62.6,3.8 L55.1,3.8M55.1,3.8 L54.9,9.0 L62.4,9.0 L61.9,14.2 L54.4,14.2M54.4,14.2 L53.7,19.3 L61.2,19.3 L60.3,24.4 L52.8,24.4M52.8,24.4 L51.7,29.3 L59.2,29.3 L57.9,34.1 L50.4,34.1M50.4,34.1 L48.9,38.8 L56.4,38.8 L54.8,43.3 L47.3,43.3M47.3,43.3 L45.4,47.7 L52.9,47.7 L50.9,51.8 L43.4,51.8M43.4,51.8 L41.2,55.7 L48.7,55.7 L46.4,59.3 L38.9,59.3M38.9,59.3 L36.4,62.8 L43.9,62.8 L41.2,65.9 L33.7,65.9M33.7,65.9 L31.0,68.8 L38.5,68.8 L35.6,71.3 L28.1,71.3M28.1,71.3 L25.2,73.6 L32.7,73.6 L29.7,75.6 L22.2,75.6" stroke-width="1.69"/>
<path d="M-6.2,-79.2 A50.2,80.4 0 0 1 11.2,79.2" stroke-width="1.69"/>
<ellipse cx="0.0" cy="0.0" rx="50.2" ry="80.4" stroke-width="1.95" fill="#fff"/>
</g>
<path d="M275.1,1144.7 L269.8,1147.9 L268.7,1170.3 L265.0,1171.9 L266.1,1183.1 L269.8,1190.6 L278.3,1195.9 L283.1,1204.5 L284.7,1214.1 L293.3,1219.9 L298.6,1222.6" stroke-width="1.69" fill="none" />
<path d="M284.2,1152.2 L290.6,1150.6 L293.3,1147.9 L299.7,1149.0 L306.1,1155.4 L309.3,1161.8 L310.3,1169.3 L315.7,1174.6 L323.1,1178.9 L325.8,1187.4 L326.3,1194.9 L322.1,1197.0 L321.5,1204.5 L318.9,1207.7 L310.3,1210.9 L303.9,1217.3 L298.6,1222.6" stroke-width="1.82" fill="none" />
<path d="M275.1,1144.7 L284.2,1152.2 L282.6,1161.8 L278.3,1166.1 L279.4,1175.7 L283.1,1181.0 L289.0,1185.3 L293.3,1191.7 L297.5,1198.1 L298.6,1203.4 L301.8,1208.7 L306.1,1213.0 L303.9,1217.3" stroke-width="1.69" fill="none" />
<path d="M269.3,1155.4 L282.6,1161.8" stroke-width="1.56" fill="none" />
<path d="M268.7,1170.3 L278.3,1166.1" stroke-width="1.56" fill="none" />
<path d="M270.9,1190.1 L289.0,1185.3" stroke-width="1.56" fill="none" />
<path d="M278.3,1195.9 L293.3,1191.7" stroke-width="1.56" fill="none" />
<path d="M284.7,1205.5 L298.6,1203.4" stroke-width="1.56" fill="none" />
<path d="M287.4,1215.7 L301.8,1208.7" stroke-width="1.56" fill="none" />
<path d="M301.8,1218.3 L313.5,1211.9 L318.9,1207.7" stroke-width="1.56" fill="none" />
<path d="M311.4,1218.3 L315.7,1223.7 L321.0,1221.5 L323.1,1213.0" stroke-width="1.56" fill="none" />
<ellipse cx="286.3" cy="1139.9" rx="4.3" ry="6.4" fill="none" stroke="#000" stroke-width="2.34" transform="rotate(-25 286.3 1139.9)" />
<ellipse cx="260.7" cy="1154.3" rx="4.3" ry="6.4" fill="none" stroke="#000" stroke-width="2.34" transform="rotate(-25 260.7 1154.3)" />
<ellipse cx="271.9" cy="1199.1" rx="4.3" ry="6.4" fill="none" stroke="#000" stroke-width="2.34" transform="rotate(-25 271.9 1199.1)" />
<ellipse cx="305.0" cy="1227.9" rx="4.3" ry="6.4" fill="none" stroke="#000" stroke-width="2.34" transform="rotate(-25 305.0 1227.9)" />
<ellipse cx="330.1" cy="1211.9" rx="4.3" ry="6.4" fill="none" stroke="#000" stroke-width="2.34" transform="rotate(-25 330.1 1211.9)" />
<ellipse cx="319.9" cy="1169.3" rx="4.3" ry="6.4" fill="none" stroke="#000" stroke-width="2.34" transform="rotate(-25 319.9 1169.3)" />
<ellipse cx="260.2" cy="1161.8" rx="1.9" ry="3.2" fill="none" stroke="#000" stroke-width="1.95" transform="rotate(-25 260.2 1161.8)" />
<ellipse cx="331.7" cy="1204.5" rx="1.9" ry="3.2" fill="none" stroke="#000" stroke-width="1.95" transform="rotate(-25 331.7 1204.5)" />
<g transform="translate(464.4 1126.7) rotate(-27.3)" >
<path d="M0.0,-3.6 L21.0,-3.6 L21.0,3.6 L0.0,3.6Z" stroke="none" fill="#fff"/>
<path d="M21.0,-3.6 A2.2,3.6 0 0 1 21.0,3.6" stroke-width="1.82" fill="#fff"/>
<path d="M0.0,-3.6 L21.0,-3.6" stroke-width="1.82"/>
<path d="M21.0,3.6 L0.0,3.6" stroke-width="1.82"/>
<ellipse cx="0.0" cy="0" rx="2.2" ry="3.6" stroke-width="1.82" fill="#fff"/>
</g>
<g transform="translate(262.5 706.0) rotate(-24)" >
<path d="M0.0,-1.8 L23.0,-1.8 L23.0,1.8 L0.0,1.8Z" stroke="none" fill="#fff"/>
<path d="M23.0,-1.8 A1.1,1.8 0 0 1 23.0,1.8" stroke-width="1.95" fill="#fff"/>
<path d="M0.0,-1.8 L23.0,-1.8" stroke-width="1.95"/>
<path d="M23.0,1.8 L0.0,1.8" stroke-width="1.95"/>
<ellipse cx="0.0" cy="0" rx="1.1" ry="1.8" stroke-width="1.95" fill="#fff"/>
</g>
<g transform="translate(213.5 733.0) rotate(28.5)" >
<path d="M0,-7 L88,-7 M0,7 L88,7" stroke-width="1.69"/>
<path d="M0,-7 A4.2,7 0 0 0 0,7" stroke-width="1.69"/>
<ellipse cx="88.0" cy="0.0" rx="4.4" ry="7.0" stroke-width="1.69" fill="#fff"/>
<ellipse cx="84.5" cy="3.0" rx="1.2" ry="1.6" stroke-width="1.69" fill="none"/>
<path d="M35,-7 A4,7 0 0 1 35,7 M52,-7 A4,7 0 0 1 52,7" stroke-width="1.69"/>
<ellipse cx="3.0" cy="1.0" rx="1.0" ry="1.4" stroke-width="1.56" fill="none"/>
</g>
<g transform="translate(558.7 1301.0) rotate(29)" >
<path d="M-100.0,-11.0 L-48.0,-11.0 L-48.0,11.0 L-100.0,11.0Z" stroke="none" fill="#fff"/>
<path d="M-100.0,-11.0 A6.4,11.0 0 0 0 -100.0,11.0" stroke-width="1.82" fill="#fff"/>
<path d="M-100.0,-11.0 L-48.0,-11.0" stroke-width="1.82"/>
<path d="M-48.0,11.0 L-100.0,11.0" stroke-width="1.82"/>
<path d="M-72.0,-11.0 A6.4,11.0 0 0 0 -72.0,11.0" stroke-width="3.38"/>
<path d="M-82.0,-11.0 A6.4,11.0 0 0 0 -82.0,11.0" stroke-width="3.38"/>
</g>
<g transform="translate(558.7 1301.0) rotate(29)" >
<path d="M-48.0,-11.8 L-28.0,-11.8 L-28.0,11.8 L-48.0,11.8Z" stroke="none" fill="#fff"/>
<path d="M-48.0,-11.8 A6.8,11.8 0 0 0 -48.0,11.8" stroke-width="1.82" fill="#fff"/>
<path d="M-48.0,-11.8 L-28.0,-11.8" stroke-width="1.82"/>
<path d="M-28.0,11.8 L-48.0,11.8" stroke-width="1.82"/>
<path d="M-44.0,-11.8 A6.8,11.8 0 0 0 -44.0,11.8" stroke-width="2.86"/>
<path d="M-40.0,-11.8 A6.8,11.8 0 0 0 -40.0,11.8" stroke-width="2.86"/>
<path d="M-36.0,-11.8 A6.8,11.8 0 0 0 -36.0,11.8" stroke-width="2.86"/>
<path d="M-32.0,-11.8 A6.8,11.8 0 0 0 -32.0,11.8" stroke-width="2.86"/>
</g>
<g transform="translate(558.7 1301.0) rotate(29)" >
<path d="M-47.2,-11.6 L-31.2,-11.6M-50.1,-9.5 L-34.1,-9.5M-52.1,-5.3 L-36.1,-5.3M-52.8,0.0 L-36.8,0.0M-52.1,5.3 L-36.1,5.3M-50.1,9.5 L-34.1,9.5M-47.2,11.6 L-31.2,11.6" stroke-width="1.43"/>
</g>
<g transform="translate(558.7 1301.0) rotate(29)" >
<path d="M-28.0,-10.5 L0.0,-10.5 L0.0,10.5 L-28.0,10.5Z" stroke="none" fill="#fff"/>
<path d="M-28.0,-10.5 A6.1,10.5 0 0 0 -28.0,10.5" stroke-width="1.82" fill="#fff"/>
<path d="M-28.0,-10.5 L0.0,-10.5" stroke-width="1.82"/>
<path d="M0.0,10.5 L-28.0,10.5" stroke-width="1.82"/>
<ellipse cx="0.0" cy="0" rx="6.1" ry="10.5" stroke-width="1.82" fill="#fff"/>
</g>
<g transform="translate(558.7 1301.0) rotate(29)" >
<path d="M-28.1,-10.3 L-2.1,-10.3M-30.0,-9.1 L-4.0,-9.1M-31.7,-6.7 L-5.7,-6.7M-32.7,-3.6 L-6.7,-3.6M-33.1,0.0 L-7.1,0.0M-32.7,3.6 L-6.7,3.6M-31.7,6.7 L-5.7,6.7M-30.0,9.1 L-4.0,9.1M-28.1,10.3 L-2.1,10.3" stroke-width="1.95"/>
</g>
<g transform="translate(558.7 1301.0) rotate(29)" >
<ellipse cx="0.0" cy="0.0" rx="1.1" ry="1.6" stroke-width="2.08" fill="none"/>
</g>
<path d="M451.4,1251.0 L455.3,1241.9 L460.4,1232.9 L469.5,1230.6 L485.4,1232.9 L495.6,1236.3 L496.8,1241.9 L499.1,1246.5 L493.4,1247.6 L487.7,1246.5 L482.0,1251.0 L477.5,1259.0 L476.3,1268.1 L479.7,1274.9 L477.5,1277.2 L468.4,1278.3 L466.1,1274.9 L451.4,1259.0Z" stroke-width="1.82" fill="#fff" />
<path d="M460.4,1233.4 L477.5,1249.9 L482.0,1251.0" stroke-width="1.56" fill="none" />
<path d="M455.9,1241.9 L470.7,1263.5 L476.3,1268.1" stroke-width="1.56" fill="none" />
<path d="M452.5,1252.2 L467.3,1272.6" stroke-width="1.56" fill="none" />
<path d="M462.7,1236.3 L474.1,1255.6" stroke-width="2.60" fill="none" />
<path d="M458.2,1245.4 L469.0,1266.9" stroke-width="2.60" fill="none" />
<path d="M453.6,1255.6 L465.6,1273.7" stroke-width="2.60" fill="none" />
<path d="M469.5,1230.6 L479.7,1239.7 L477.5,1249.9" stroke-width="1.56" fill="none" />
<path d="M485.4,1232.9 L483.2,1241.9 L488.8,1238.5 L495.6,1236.3" stroke-width="1.56" fill="none" />
<path d="M479.7,1239.7 L485.4,1243.1" stroke-width="1.56" fill="none" />
<path d="M468.4,1278.3 L469.5,1272.6 L477.5,1270.3" stroke-width="1.56" fill="none" />
<g transform="translate(482.3 754.0) rotate(-27)" >
<path d="M8.0,-42.0 L50.0,-42.0 L60.0,-40.0 L66.0,-36.0 L66.0,36.0 L60.0,40.0 L50.0,42.0 L8.0,42.0Z" stroke="none" fill="#fff"/>
<path d="M66.0,-36.0 A22.3,36.0 0 0 1 66.0,36.0" stroke-width="1.82" fill="#fff"/>
<path d="M8.0,-42.0 L50.0,-42.0 L60.0,-40.0 L66.0,-36.0" stroke-width="1.82"/>
<path d="M66.0,36.0 L60.0,40.0 L50.0,42.0 L8.0,42.0" stroke-width="1.82"/>
</g>
<g transform="translate(482.3 754.0) rotate(-27)" >
<path d="M14,-33 L52,-33 L52,-22 L14,-22 M52,-22 L66,-22 M20,-42 L20,-38 L56,-38 M34,0 L62,0 L62,14 L40,14 M40,14 L40,30 L66,30 M34,-12 L34,8 M14,34 L58,34" stroke-width="1.69"/>
<path d="M36,-16 L40,2" stroke-width="1.69" stroke-dasharray="5 3"/>
<path d="M0,-57.5 L10,-57.5 A37,57.5 0 0 1 10,57.5 L0,57.5" stroke-width="1.82" fill="#fff"/>
<ellipse cx="0.0" cy="0.0" rx="37.0" ry="57.5" stroke-width="1.95" fill="#fff"/>
<ellipse cx="0.5" cy="0.0" rx="21.0" ry="34.0" stroke-width="1.95" fill="none"/>
<path d="M7.0,-31.0 A18.0,31.0 0 0 0 7.0,31.0" stroke-width="1.69"/>
<path d="M15.0,-27.0 A15.0,27.0 0 0 0 15.0,27.0" stroke-width="1.69"/>
<path d="M20,-24 A12,24 0 0 0 20,24" stroke-width="1.69"/>
<ellipse cx="26.3" cy="19.2" rx="3" ry="5" stroke-width="2.60"/>
<ellipse cx="14.9" cy="33.6" rx="1.6" ry="2.4" stroke-width="2.60" fill="#000"/>
<ellipse cx="2.5" cy="45.3" rx="3" ry="5" stroke-width="2.60"/>
<ellipse cx="-11.0" cy="37.2" rx="1.6" ry="2.4" stroke-width="2.60" fill="#000"/>
<ellipse cx="-23.8" cy="26.1" rx="3" ry="5" stroke-width="2.60"/>
<ellipse cx="-25.9" cy="3.6" rx="1.6" ry="2.4" stroke-width="2.60" fill="#000"/>
<ellipse cx="-26.3" cy="-19.2" rx="3" ry="5" stroke-width="2.60"/>
<ellipse cx="-14.9" cy="-33.6" rx="1.6" ry="2.4" stroke-width="2.60" fill="#000"/>
<ellipse cx="-2.5" cy="-45.3" rx="3" ry="5" stroke-width="2.60"/>
<ellipse cx="11.0" cy="-37.2" rx="1.6" ry="2.4" stroke-width="2.60" fill="#000"/>
<ellipse cx="23.8" cy="-26.1" rx="3" ry="5" stroke-width="2.60"/>
<ellipse cx="25.9" cy="-3.6" rx="1.6" ry="2.4" stroke-width="2.60" fill="#000"/>
</g>
<g transform="translate(331.4 798.1) rotate(25)" >
<path d="M16.0,0.0 L15.4,6.3 L12.9,5.3 L11.4,9.9L13.5,12.2 L10.5,17.0 L9.0,13.8 L5.9,16.6L6.6,20.5 L2.3,22.3 L2.4,18.0 L-1.2,18.0L-2.3,22.3 L-6.6,20.5 L-4.7,16.6 L-7.8,13.8L-10.5,17.0 L-13.5,12.2 L-10.2,9.9 L-11.7,5.3L-15.4,6.3 L-16.0,0.0 L-12.2,0.2 L-11.7,-4.9L-15.4,-6.3 L-13.5,-12.2 L-10.2,-9.5 L-7.8,-13.4L-10.5,-17.0 L-6.6,-20.5 L-4.7,-16.2 L-1.2,-17.6L-2.3,-22.3 L2.3,-22.3 L2.4,-17.6 L5.9,-16.2L6.6,-20.5 L10.5,-17.0 L9.0,-13.4 L11.4,-9.5L13.5,-12.2 L15.4,-6.3 L12.9,-4.9 L13.4,0.2Z" stroke-width="1.69" fill="#fff"/><path d="M8.8,0.6 L16.0,0.0M8.6,3.4 L12.9,5.3M7.7,6.0 L13.5,12.2M6.4,8.2 L9.0,13.8M4.6,9.8 L6.6,20.5M2.7,10.6 L2.4,18.0M0.6,10.6 L-2.3,22.3M-1.3,9.8 L-4.7,16.6M-3.1,8.2 L-10.5,17.0M-4.4,6.0 L-10.2,9.9M-5.3,3.4 L-15.4,6.3M-5.5,0.6 L-12.2,0.2M-5.3,-2.3 L-15.4,-6.3M-4.4,-4.9 L-10.2,-9.5M-3.1,-7.1 L-10.5,-17.0M-1.3,-8.7 L-4.7,-16.2M0.6,-9.5 L-2.3,-22.3M2.7,-9.5 L2.4,-17.6M4.6,-8.7 L6.6,-20.5M6.4,-7.1 L9.0,-13.4M7.7,-4.9 L13.5,-12.2M8.6,-2.3 L12.9,-4.9" stroke-width="1.43"/>
<ellipse cx="3" cy="1" rx="7.5" ry="11.6" stroke-width="1.69" fill="#fff"/>
<ellipse cx="3" cy="1" rx="5" ry="7.7" stroke-width="2.08" fill="#fff"/>
</g>
<g transform="translate(433.6 857.6) rotate(25)" >
<path d="M16.0,0.0 L15.4,6.3 L13.3,5.3 L11.8,9.9L13.5,12.2 L10.5,17.0 L9.4,13.8 L6.3,16.6L6.6,20.5 L2.3,22.3 L2.8,18.0 L-0.8,18.0L-2.3,22.3 L-6.6,20.5 L-4.3,16.6 L-7.4,13.8L-10.5,17.0 L-13.5,12.2 L-9.8,9.9 L-11.3,5.3L-15.4,6.3 L-16.0,0.0 L-11.8,0.2 L-11.3,-4.9L-15.4,-6.3 L-13.5,-12.2 L-9.8,-9.5 L-7.4,-13.4L-10.5,-17.0 L-6.6,-20.5 L-4.3,-16.2 L-0.8,-17.6L-2.3,-22.3 L2.3,-22.3 L2.8,-17.6 L6.3,-16.2L6.6,-20.5 L10.5,-17.0 L9.4,-13.4 L11.8,-9.5L13.5,-12.2 L15.4,-6.3 L13.3,-4.9 L13.8,0.2Z" stroke-width="1.69" fill="#fff"/><path d="M9.9,0.6 L16.0,0.0M9.7,3.4 L13.3,5.3M8.8,6.0 L13.5,12.2M7.5,8.2 L9.4,13.8M5.7,9.8 L6.6,20.5M3.8,10.6 L2.8,18.0M1.7,10.6 L-2.3,22.3M-0.2,9.8 L-4.3,16.6M-2.0,8.2 L-10.5,17.0M-3.3,6.0 L-9.8,9.9M-4.2,3.4 L-15.4,6.3M-4.5,0.6 L-11.8,0.2M-4.2,-2.3 L-15.4,-6.3M-3.3,-4.9 L-9.8,-9.5M-2.0,-7.1 L-10.5,-17.0M-0.2,-8.7 L-4.3,-16.2M1.7,-9.5 L-2.3,-22.3M3.8,-9.5 L2.8,-17.6M5.7,-8.7 L6.6,-20.5M7.5,-7.1 L9.4,-13.4M8.8,-4.9 L13.5,-12.2M9.7,-2.3 L13.3,-4.9" stroke-width="1.43"/>
<ellipse cx="5" cy="1" rx="8.2" ry="12.8" stroke-width="1.69" fill="#fff"/>
<ellipse cx="5" cy="1" rx="5.5" ry="8.5" stroke-width="2.08" fill="#fff"/>
</g>
<g transform="translate(417.0 794.6) rotate(-30)" >
<path d="M2,-33 A22,33 0 0 1 2,33" stroke-width="1.69" transform="translate(4 0)"/>
<path d="M22.0,0.0 L21.6,6.4 L18.5,5.8 L17.4,11.4L20.3,12.6 L18.3,18.3 L15.6,16.5 L13.1,21.0L15.6,23.3 L12.2,27.4 L10.1,24.7 L6.7,27.4L8.4,30.5 L4.3,32.4 L3.0,29.1 L-0.9,29.7L0.0,33.0 L-4.3,32.4 L-4.8,29.1 L-8.5,27.4L-8.4,30.5 L-12.2,27.4 L-11.9,24.7 L-14.9,21.0L-15.6,23.3 L-18.3,18.3 L-17.4,16.5 L-19.2,11.4L-20.3,12.6 L-21.6,6.4 L-20.3,5.8 L-20.7,0.0L-22.0,0.0 L-21.6,-6.4 L-20.3,-5.8 L-19.2,-11.4L-20.3,-12.6 L-18.3,-18.3 L-17.4,-16.5 L-14.9,-21.0L-15.6,-23.3 L-12.2,-27.4 L-11.9,-24.7 L-8.5,-27.4L-8.4,-30.5 L-4.3,-32.4 L-4.8,-29.1 L-0.9,-29.7L-0.0,-33.0 L4.3,-32.4 L3.0,-29.1 L6.7,-27.4L8.4,-30.5 L12.2,-27.4 L10.1,-24.7 L13.1,-21.0L15.6,-23.3 L18.3,-18.3 L15.6,-16.5 L17.4,-11.4L20.3,-12.6 L21.6,-6.4 L18.5,-5.8 L18.9,-0.0Z" stroke-width="1.69" fill="#fff"/><path d="M7.1,0.0 L22.0,0.0M6.9,3.3 L18.5,5.8M6.2,6.6 L20.3,12.6M5.2,9.5 L15.6,16.5M3.8,12.1 L15.6,23.3M2.0,14.3 L10.1,24.7M0.1,15.9 L8.4,30.5M-2.1,16.8 L3.0,29.1M-4.3,17.2 L0.0,33.0M-6.6,16.8 L-4.8,29.1M-8.7,15.9 L-8.4,30.5M-10.7,14.3 L-11.9,24.7M-12.4,12.1 L-15.6,23.3M-13.8,9.5 L-17.4,16.5M-14.9,6.6 L-20.3,12.6M-15.5,3.3 L-20.3,5.8M-15.8,0.0 L-22.0,0.0M-15.5,-3.3 L-20.3,-5.8M-14.9,-6.6 L-20.3,-12.6M-13.8,-9.5 L-17.4,-16.5M-12.4,-12.1 L-15.6,-23.3M-10.7,-14.3 L-11.9,-24.7M-8.7,-15.9 L-8.4,-30.5M-6.6,-16.8 L-4.8,-29.1M-4.3,-17.2 L-0.0,-33.0M-2.1,-16.8 L3.0,-29.1M0.1,-15.9 L8.4,-30.5M2.0,-14.3 L10.1,-24.7M3.8,-12.1 L15.6,-23.3M5.2,-9.5 L15.6,-16.5M6.2,-6.6 L20.3,-12.6M6.9,-3.3 L18.5,-5.8" stroke-width="1.56"/>
<ellipse cx="-5" cy="0" rx="11" ry="17.5" stroke-width="1.69" fill="#fff"/>
<ellipse cx="-5.5" cy="0" rx="8.2" ry="13.5" stroke-width="1.95" fill="#fff"/>
<path d="M-9.5,-10.0 L-1.5,-10.0M-9.5,-6.7 L-1.5,-6.7M-9.5,-3.3 L-1.5,-3.3M-9.5,0.0 L-1.5,0.0M-9.5,3.3 L-1.5,3.3M-9.5,6.7 L-1.5,6.7M-9.5,10.0 L-1.5,10.0" stroke-width="1.56"/>
</g>
<g transform="translate(295.0 859.0) rotate(-30)" >
<path d="M0,-31.5 L11,-31.5 A19.5,31.5 0 0 1 11,31.5 L0,31.5" stroke-width="1.69" fill="#fff"/>
<path d="M9.1,-30.8 L15.1,-30.8M12.3,-29.2 L18.3,-29.2M15.3,-26.7 L21.3,-26.7M18.0,-23.4 L24.0,-23.4M20.4,-19.4 L26.4,-19.4M22.2,-14.8 L28.2,-14.8M23.5,-9.7 L29.5,-9.7M24.3,-4.4 L30.3,-4.4M24.5,1.1 L30.5,1.1M24.1,6.5 L30.1,6.5M23.1,11.8 L29.1,11.8M21.5,16.7 L27.5,16.7M19.5,21.1 L25.5,21.1M17.0,24.8 L23.0,24.8M14.2,27.8 L20.2,27.8M11.0,30.0 L17.0,30.0" stroke-width="1.69"/>
<path d="M5,-31.5 A19.5,31.5 0 0 1 5,31.5" stroke-width="1.69"/>
<path d="M2.5,-31.5 A19.5,31.5 0 0 1 2.5,31.5" stroke-width="1.56"/>
<ellipse cx="0.0" cy="0.0" rx="19.5" ry="31.5" stroke-width="1.82" fill="#fff"/>
<ellipse cx="-0.5" cy="0.0" rx="8.6" ry="15.0" stroke-width="1.95" fill="none"/>
<path d="M-5,-11.0 L4.5,-11.0M-5,-7.3 L4.5,-7.3M-5,-3.7 L4.5,-3.7M-5,0.0 L4.5,0.0M-5,3.7 L4.5,3.7M-5,7.3 L4.5,7.3M-5,11.0 L4.5,11.0" stroke-width="1.95"/>
</g>
<path d="M158.7,518.0 L178.7,515.4 L183.4,516.7 L198.7,537.4 L199.4,561.4 L196.0,565.4 L178.7,566.7 L174.7,564.0 L158.7,542.7 L158.0,520.0Z" stroke-width="2.60" fill="#fff" />
<path d="M162.6,520.3 L180.2,517.9 L184.3,519.1 L197.8,537.3 L198.4,558.4 L195.5,561.9 L180.2,563.1 L176.7,560.7 L162.6,542.0 L162.0,522.0Z" stroke-width="1.43" fill="none" />
<ellipse cx="178.2" cy="541.2" rx="12.0" ry="20.0" fill="none" stroke="#000" stroke-width="3.38" transform="rotate(-30 178.2 541.2)" />
<ellipse cx="180.2" cy="540.2" rx="10.5" ry="18.5" fill="none" stroke="#000" stroke-width="1.43" transform="rotate(-30 180.2 540.2)" />
<polyline points="158.7,542.7 162.7,542.3" stroke-width="1.69" />
<polyline points="178.7,515.4 178.7,520.4" stroke-width="1.69" />
<polyline points="198.7,537.4 194.7,538.0" stroke-width="1.69" />
<polyline points="178.7,566.7 178.7,561.5" stroke-width="1.69" />
<path d="M61.3,574.0 L81.3,571.4 L86.0,572.7 L101.3,593.4 L102.0,617.4 L98.6,621.4 L81.3,622.7 L77.3,620.0 L61.3,598.7 L60.6,576.0Z" stroke-width="2.60" fill="#fff" />
<path d="M65.2,576.3 L82.8,573.9 L86.9,575.1 L100.4,593.3 L101.0,614.4 L98.1,617.9 L82.8,619.1 L79.3,616.7 L65.2,598.0 L64.6,578.0Z" stroke-width="1.43" fill="none" />
<ellipse cx="80.8" cy="597.2" rx="12.0" ry="20.0" fill="none" stroke="#000" stroke-width="3.38" transform="rotate(-30 80.8 597.2)" />
<ellipse cx="82.8" cy="596.2" rx="10.5" ry="18.5" fill="none" stroke="#000" stroke-width="1.43" transform="rotate(-30 82.8 596.2)" />
<polyline points="61.3,598.7 65.3,598.3" stroke-width="1.69" />
<polyline points="81.3,571.4 81.3,576.4" stroke-width="1.69" />
<polyline points="101.3,593.4 97.3,594.0" stroke-width="1.69" />
<polyline points="81.3,622.7 81.3,617.5" stroke-width="1.69" />
<path d="M745.0,890.0 L765.0,887.4 L769.7,888.7 L785.0,909.4 L785.7,933.4 L782.3,937.4 L765.0,938.7 L761.0,936.0 L745.0,914.7 L744.3,892.0Z" stroke-width="2.60" fill="#fff" />
<path d="M748.9,892.3 L766.5,889.9 L770.6,891.1 L784.1,909.3 L784.7,930.4 L781.8,933.9 L766.5,935.1 L763.0,932.7 L748.9,914.0 L748.3,894.0Z" stroke-width="1.43" fill="none" />
<ellipse cx="764.5" cy="913.2" rx="12.0" ry="20.0" fill="none" stroke="#000" stroke-width="3.38" transform="rotate(-30 764.5 913.2)" />
<ellipse cx="766.5" cy="912.2" rx="10.5" ry="18.5" fill="none" stroke="#000" stroke-width="1.43" transform="rotate(-30 766.5 912.2)" />
<polyline points="745.0,914.7 749.0,914.3" stroke-width="1.69" />
<polyline points="765.0,887.4 765.0,892.4" stroke-width="1.69" />
<polyline points="785.0,909.4 781.0,910.0" stroke-width="1.69" />
<polyline points="765.0,938.7 765.0,933.5" stroke-width="1.69" />
<path d="M833.3,839.0 L853.3,836.4 L858.0,837.7 L873.3,858.4 L874.0,882.4 L870.6,886.4 L853.3,887.7 L849.3,885.0 L833.3,863.7 L832.6,841.0Z" stroke-width="2.60" fill="#fff" />
<path d="M837.2,841.3 L854.8,838.9 L858.9,840.1 L872.4,858.3 L873.0,879.4 L870.1,882.9 L854.8,884.1 L851.3,881.7 L837.2,863.0 L836.6,843.0Z" stroke-width="1.43" fill="none" />
<ellipse cx="852.8" cy="862.2" rx="12.0" ry="20.0" fill="none" stroke="#000" stroke-width="3.38" transform="rotate(-30 852.8 862.2)" />
<ellipse cx="854.8" cy="861.2" rx="10.5" ry="18.5" fill="none" stroke="#000" stroke-width="1.43" transform="rotate(-30 854.8 861.2)" />
<polyline points="833.3,863.7 837.3,863.3" stroke-width="1.69" />
<polyline points="853.3,836.4 853.3,841.4" stroke-width="1.69" />
<polyline points="873.3,858.4 869.3,859.0" stroke-width="1.69" />
<polyline points="853.3,887.7 853.3,882.5" stroke-width="1.69" />
<path d="M351.5,415.2 C352.4,414.5 354.5,411.9 356.8,411.1 C359.1,410.3 362.7,409.9 365.3,410.4 C368.0,410.9 370.5,412.1 372.8,414.1 C375.1,416.2 377.3,419.5 379.2,422.7 C381.1,425.9 382.9,430.1 384.0,433.3 C385.1,436.5 385.6,439.4 385.6,441.9 C385.6,444.4 385.1,446.5 384.0,448.3 C382.9,450.0 381.1,451.3 379.2,452.5 C377.3,453.8 373.9,455.2 372.8,455.7" stroke-width="1.82" fill="none" />
<path d="M353.6,420.5 C354.5,421.2 357.2,422.7 358.9,424.8 C360.7,426.9 362.8,430.5 364.3,433.3 C365.7,436.2 366.8,439.2 367.5,441.9 C368.2,444.5 368.4,448.1 368.5,449.3" stroke-width="1.69" fill="none" />
<path d="M361.1,426.9 C361.8,427.3 363.7,427.3 365.3,429.1 C366.9,430.8 369.2,434.4 370.7,437.6 C372.1,440.8 373.5,445.4 373.9,448.3 C374.2,451.1 373.0,453.6 372.8,454.7" stroke-width="1.56" fill="none" />
<path d="M317.3,402.9 C318.7,402.7 321.8,404.7 322.1,405.6 C322.5,406.5 320.6,411.3 321.1,412.0 C321.5,412.7 326.3,413.4 326.9,413.1 C327.5,412.7 326.1,409.8 326.9,408.8 C327.8,407.8 333.8,403.3 335.5,402.9 C337.2,402.6 342.6,404.3 344.0,405.1 C345.4,405.9 349.2,409.9 349.9,410.9 C350.6,411.9 350.5,413.8 350.9,415.2 C351.4,416.6 353.7,422.3 354.7,424.8 C355.7,427.3 360.1,437.4 361.1,439.7 C362.0,442.1 363.4,446.9 364.3,448.3 C365.1,449.7 369.0,452.0 369.6,453.6 C370.2,455.2 370.0,462.2 370.7,464.3 C371.4,466.3 376.2,472.1 376.5,473.9 C376.9,475.7 375.3,480.8 374.4,482.4 C373.5,484.0 368.8,488.7 367.5,489.9 C366.1,491.0 362.3,493.9 361.1,493.6 C359.8,493.3 356.2,487.3 354.7,486.7 C353.2,486.1 347.3,487.1 346.1,487.7 C345.0,488.4 343.6,492.4 342.9,493.1 C342.2,493.8 340.7,495.2 339.2,494.7 C337.7,494.1 329.2,489.2 328.0,487.7 C326.8,486.3 328.2,482.6 326.9,480.3 C325.7,477.9 317.2,466.3 315.2,464.3 C313.2,462.2 307.9,461.5 306.7,460.0 C305.4,458.5 302.3,450.7 302.4,449.3 C302.5,447.9 307.4,448.1 307.7,446.1 C308.1,444.2 306.2,432.5 305.6,430.1 C305.0,427.8 302.3,424.1 301.9,422.7 C301.4,421.3 300.6,417.7 301.3,416.3 C302.0,414.8 307.2,409.6 308.8,408.3 C310.4,406.9 316.0,403.2 317.3,402.9Z" stroke-width="1.95" fill="#fff" />
<path d="M346.1,407.7 C346.7,409.2 347.9,412.7 349.3,416.3 C350.8,419.8 353.0,425.2 354.7,429.1 C356.4,433.0 358.4,436.5 359.5,439.7 C360.5,442.9 360.1,445.8 361.1,448.3 C362.0,450.8 364.6,452.0 365.3,454.7 C366.0,457.3 364.5,461.1 365.3,464.3 C366.1,467.5 369.8,470.1 370.1,473.9 C370.5,477.6 367.9,484.5 367.5,486.7" stroke-width="1.56" fill="none" />
<ellipse cx="310.9" cy="419.5" rx="2.6" ry="3.8" fill="none" stroke="#000" stroke-width="2.21" transform="rotate(-25 310.9 419.5)" />
<ellipse cx="334.9" cy="416.3" rx="2.6" ry="3.8" fill="none" stroke="#000" stroke-width="2.21" transform="rotate(-25 334.9 416.3)" />
<ellipse cx="360.0" cy="447.2" rx="2.6" ry="3.8" fill="none" stroke="#000" stroke-width="2.21" transform="rotate(-25 360.0 447.2)" />
<ellipse cx="360.5" cy="480.8" rx="2.6" ry="3.8" fill="none" stroke="#000" stroke-width="2.21" transform="rotate(-25 360.5 480.8)" />
<ellipse cx="334.4" cy="484.0" rx="2.6" ry="3.8" fill="none" stroke="#000" stroke-width="2.21" transform="rotate(-25 334.4 484.0)" />
<ellipse cx="305.6" cy="453.6" rx="2.3" ry="5.3" fill="none" stroke="#000" stroke-width="1.82" transform="rotate(-20 305.6 453.6)" />
<ellipse cx="330.1" cy="454.7" rx="22.9" ry="34.1" fill="none" stroke="#000" stroke-width="1.95" transform="rotate(-32 330.1 454.7)" />
<ellipse cx="330.1" cy="454.7" rx="19.7" ry="30.4" fill="none" stroke="#000" stroke-width="1.69" transform="rotate(-32 330.1 454.7)" />
<ellipse cx="330.1" cy="454.7" rx="16.5" ry="26.7" fill="none" stroke="#000" stroke-width="2.08" transform="rotate(-32 330.1 454.7)" />
<ellipse cx="330.1" cy="454.7" rx="13.7" ry="22.9" fill="none" stroke="#000" stroke-width="1.69" transform="rotate(-32 330.1 454.7)" />
<ellipse cx="330.1" cy="454.7" rx="10.7" ry="19.2" fill="none" stroke="#000" stroke-width="2.86" transform="rotate(-32 330.1 454.7)" />
<ellipse cx="331.2" cy="455.2" rx="7.7" ry="14.9" fill="none" stroke="#000" stroke-width="1.82" transform="rotate(-32 331.2 455.2)" />
<path d="M322.7,444.0 L320.5,450.4 L322.7,454.7 L324.8,461.1 L330.1,465.3 L335.5,464.3" stroke-width="2.08" fill="none" />
<path d="M328.5,435.5 L335.5,439.7 L342.9,450.4 L344.0,458.9" stroke-width="1.82" fill="none" />
<path d="M576.9,967.3 C577.1,965.7 578.9,963.2 580.1,962.0 C581.4,960.8 588.3,956.2 589.7,955.6 C591.1,955.0 592.9,955.1 594.0,955.6 C595.1,956.1 599.1,960.8 600.4,960.9 C601.7,961.1 605.5,957.7 606.8,957.2 C608.1,956.7 611.5,955.3 613.2,955.6 C614.9,955.9 622.6,958.2 623.9,959.9 C625.1,961.6 625.1,971.0 626.0,972.7 C626.9,974.4 630.4,975.1 632.4,976.9 C634.4,978.7 644.6,988.6 646.3,990.8 C648.0,993.0 649.4,996.9 649.5,999.3 C649.6,1001.8 647.1,1012.7 647.3,1015.3 C647.5,1018.0 651.3,1024.1 651.6,1026.0 C651.9,1027.9 651.6,1032.8 650.5,1034.5 C649.5,1036.2 642.5,1042.1 640.9,1043.1 C639.3,1044.1 635.6,1045.3 634.5,1044.7 C633.5,1044.0 631.3,1036.9 630.3,1036.7 C629.2,1036.4 625.6,1041.1 623.9,1042.0 C622.2,1042.9 615.2,1045.7 613.2,1045.2 C611.2,1044.7 605.5,1039.7 603.6,1036.7 C601.7,1033.7 596.2,1020.0 594.0,1015.3 C591.8,1010.6 582.8,993.5 581.2,989.7 C579.6,986.0 578.4,980.2 578.0,978.0 C577.6,975.8 576.7,968.9 576.9,967.3Z" stroke-width="1.95" fill="#fff" />
<path d="M587.6,960.9 C588.3,961.6 591.5,963.2 591.9,965.2 C592.2,967.2 589.4,970.2 589.7,972.7 C590.1,975.2 593.3,978.9 594.0,980.1" stroke-width="1.69" fill="none" />
<path d="M581.2,980.1 C582.4,980.3 587.1,980.3 588.7,981.2 C590.3,982.1 590.4,984.8 590.8,985.5" stroke-width="1.69" fill="none" />
<path d="M603.6,960.9 C604.5,960.8 607.0,959.7 608.9,959.9 C610.9,960.0 613.7,960.2 615.3,962.0 C616.9,963.8 618.5,968.0 618.5,970.5 C618.5,973.0 617.3,975.3 615.3,976.9 C613.4,978.5 608.9,980.5 606.8,980.1 C604.7,979.8 603.2,975.7 602.5,974.8" stroke-width="1.69" fill="none" />
<path d="M626.0,991.9 C627.6,992.2 632.9,992.6 635.6,994.0 C638.3,995.4 641.1,997.9 642.0,1000.4 C642.9,1002.9 642.2,1006.8 640.9,1008.9 C639.7,1011.1 635.6,1012.5 634.5,1013.2" stroke-width="1.69" fill="none" />
<path d="M629.2,1026.0 C630.4,1025.8 634.4,1024.0 636.7,1024.9 C639.0,1025.8 642.5,1028.8 643.1,1031.3 C643.6,1033.8 641.5,1038.1 639.9,1039.9 C638.3,1041.6 634.5,1041.6 633.5,1042.0" stroke-width="1.69" fill="none" />
<path d="M615.3,976.9 C616.4,978.4 620.0,983.0 621.7,985.5 C623.5,988.0 625.3,990.8 626.0,991.9" stroke-width="1.69" fill="none" />
<path d="M634.5,1013.2 C634.9,1014.6 637.0,1019.6 636.7,1021.7 C636.3,1023.9 633.1,1025.3 632.4,1026.0" stroke-width="1.69" fill="none" />
<ellipse cx="608.9" cy="969.5" rx="2.8" ry="4.1" fill="none" stroke="#000" stroke-width="2.08" transform="rotate(-25 608.9 969.5)" />
<ellipse cx="634.5" cy="999.3" rx="2.8" ry="4.1" fill="none" stroke="#000" stroke-width="2.08" transform="rotate(-25 634.5 999.3)" />
<ellipse cx="635.6" cy="1032.4" rx="2.8" ry="4.1" fill="none" stroke="#000" stroke-width="2.08" transform="rotate(-25 635.6 1032.4)" />
<ellipse cx="584.4" cy="971.6" rx="1.3" ry="3.2" fill="none" stroke="#000" stroke-width="1.95" transform="rotate(-20 584.4 971.6)" />
<path d="M598.3,970.5 L604.7,980.1" stroke-width="3.38" fill="none" />
<path d="M600.4,969.5 L606.8,978.0" stroke-width="3.38" fill="none" />
<path d="M622.8,995.1 L629.2,1008.9" stroke-width="3.38" fill="none" />
<path d="M624.9,994.0 L631.3,1006.8" stroke-width="3.38" fill="none" />
<path d="M621.7,1029.2 L624.9,1037.7" stroke-width="3.38" fill="none" />
<path d="M623.9,1028.1 L626.5,1035.6" stroke-width="3.38" fill="none" />
<path d="M645.7,1005.7 L647.3,1015.3 L646.3,1022.8" stroke-width="1.56" fill="none" />
<path d="M621.7,1006.8 L622.8,1021.7" stroke-width="1.69" fill="none" />
<path d="M608.9,1032.4 L617.5,1028.1" stroke-width="1.56" fill="none" />
<path d="M574.8,985.5 L589.7,983.3" stroke-width="1.69" fill="none" />
<path d="M573.7,994.0 L574.8,985.5" stroke-width="1.69" fill="none" />
<path d="M572.7,998.3 C573.9,997.4 577.3,994.3 580.1,992.9 C583.0,991.6 586.7,989.7 589.7,990.3 C592.8,990.8 595.8,993.4 598.3,996.1 C600.8,998.9 602.9,1002.7 604.7,1006.8 C606.4,1010.9 608.4,1016.8 608.9,1020.7 C609.5,1024.6 608.8,1027.7 607.9,1030.3 C607.0,1032.8 605.9,1034.4 603.6,1036.1 C601.3,1037.9 595.6,1040.1 594.0,1040.9" stroke-width="1.95" fill="#fff" />
<path d="M589.7,992.4 C591.3,994.3 596.8,999.4 599.3,1003.6 C601.8,1007.8 603.8,1013.2 604.7,1017.5 C605.6,1021.7 605.4,1026.0 604.7,1029.2 C604.0,1032.4 601.1,1035.4 600.4,1036.7" stroke-width="2.86" fill="none" />
<ellipse cx="585.5" cy="1020.7" rx="22.4" ry="26.1" fill="#fff" stroke="#000" stroke-width="1.95" transform="rotate(-30 585.5 1020.7)" />
<ellipse cx="583.3" cy="1021.7" rx="12.8" ry="18.1" fill="none" stroke="#000" stroke-width="1.82" transform="rotate(-30 583.3 1021.7)" />
<path d="M566.8,1014.3 L572.7,1008.9 L580.1,1009.5 L589.7,1026.0 L588.1,1032.4 L581.2,1034.5 L572.7,1026.0Z" stroke-width="1.82" fill="none" />
<path d="M572.7,1008.9 L576.9,1015.3 L585.5,1030.3" stroke-width="1.56" fill="none" />
<path d="M570.5,1017.5 L576.9,1015.3" stroke-width="1.56" fill="none" />
<path d="M573.7,1022.8 L581.2,1020.7" stroke-width="1.56" fill="none" />
<path d="M576.9,1028.1 L585.5,1026.0" stroke-width="1.56" fill="none" />
<path d="M580.1,1009.5 L581.2,1014.3 L586.5,1016.4" stroke-width="1.56" fill="none" />
<path d="M1284.3,652.1 C1289.2,649.6 1292.1,650.8 1293.0,651.3 C1293.9,651.7 1295.5,655.7 1295.6,657.3 C1295.7,659.0 1293.7,668.6 1293.9,671.2 C1294.0,673.8 1297.2,685.3 1297.3,688.5 C1297.5,691.7 1296.1,706.6 1295.6,709.3 C1295.1,712.1 1295.7,718.0 1291.3,721.5 C1286.9,724.9 1247.5,748.2 1242.7,750.9 C1238.0,753.7 1235.1,754.4 1234.1,754.4 C1233.0,754.4 1230.0,752.4 1229.7,750.9 C1229.4,749.5 1230.7,739.7 1230.6,737.1 C1230.5,734.5 1227.9,723.0 1228.0,719.7 C1228.1,716.4 1231.3,699.6 1231.5,697.2 C1231.6,694.7 1229.5,691.6 1229.7,690.3 C1229.9,689.0 1229.5,684.8 1234.1,681.6 C1238.6,678.4 1279.4,654.7 1284.3,652.1Z" stroke-width="1.95" fill="#fff" />
<ellipse cx="1262.7" cy="703.3" rx="23.9" ry="38.5" fill="none" stroke="#000" stroke-width="1.95" transform="rotate(25 1262.7 703.3)" />
<ellipse cx="1287.8" cy="659.9" rx="2.9" ry="4.9" fill="none" stroke="#000" stroke-width="2.08" transform="rotate(25 1287.8 659.9)" />
<ellipse cx="1237.5" cy="689.4" rx="2.9" ry="4.9" fill="none" stroke="#000" stroke-width="2.08" transform="rotate(25 1237.5 689.4)" />
<ellipse cx="1287.8" cy="717.1" rx="2.9" ry="4.9" fill="none" stroke="#000" stroke-width="2.08" transform="rotate(25 1287.8 717.1)" />
<ellipse cx="1236.7" cy="746.6" rx="2.9" ry="4.9" fill="none" stroke="#000" stroke-width="2.08" transform="rotate(25 1236.7 746.6)" />
<path d="M1381.4,726.7 C1377.9,724.3 1365.2,715.7 1360.6,712.8 C1356.0,709.9 1357.1,710.5 1353.6,709.3 C1350.2,708.2 1343.8,706.0 1339.8,705.9 C1335.7,705.7 1332.3,707.3 1329.4,708.5 C1326.5,709.6 1326.2,709.2 1322.5,712.8 C1318.7,716.4 1310.6,723.5 1306.9,730.1 C1303.1,736.8 1300.5,745.7 1299.9,752.7 C1299.3,759.6 1301.4,767.1 1303.4,771.7 C1305.4,776.3 1305.4,776.3 1312.1,780.4 C1318.7,784.4 1338.1,793.4 1343.2,796.0" stroke-width="1.82" fill="#fff" />
<path d="M1336.3,716.3 C1334.6,718.0 1329.1,721.5 1325.9,726.7 C1322.7,731.9 1318.4,739.9 1317.3,747.5 C1316.1,755.0 1317.5,765.1 1319.0,771.7 C1320.4,778.4 1324.8,784.7 1325.9,787.3" stroke-width="1.69" fill="none" />
<path d="M1343.2,719.7 C1341.5,721.5 1335.9,724.9 1332.9,730.1 C1329.8,735.3 1326.1,743.4 1325.1,750.9 C1324.0,758.4 1325.2,768.5 1326.8,775.2 C1328.4,781.8 1333.3,788.2 1334.6,790.8" stroke-width="1.69" fill="none" />
<path d="M1322.5,712.8 C1320.7,716.0 1314.2,725.2 1312.1,731.9 C1309.9,738.5 1309.5,745.7 1309.5,752.7 C1309.5,759.6 1310.5,768.2 1312.1,773.4 C1313.6,778.6 1317.8,782.1 1319.0,783.8" stroke-width="1.56" fill="none" />
<path d="M1329.4,709.3 L1334.6,705.9 L1346.7,706.7 L1352.8,709.7 L1353.6,716.3 L1339.8,717.6 L1334.6,714.5 L1329.4,709.3" stroke-width="1.69" fill="#fff" />
<path d="M1339.8,717.6 L1341.5,723.2" stroke-width="1.56" fill="none" />
<path d="M1353.6,716.3 L1362.3,721.5" stroke-width="1.56" fill="none" />
<path d="M1397.8,714.5 C1402.7,711.7 1405.1,713.1 1406.5,713.7 C1407.9,714.2 1413.7,718.6 1414.3,721.5 C1415.0,724.3 1414.5,742.7 1414.3,747.5 C1414.2,752.2 1412.6,775.3 1412.6,778.6 C1412.6,782.0 1414.7,785.9 1414.3,787.3 C1413.9,788.7 1409.5,793.5 1407.4,795.1 C1405.2,796.7 1390.9,804.9 1388.3,806.4 C1385.7,807.9 1378.1,812.8 1376.2,813.3 C1374.3,813.8 1366.9,811.7 1365.8,812.4 C1364.6,813.2 1363.3,821.0 1362.3,822.0 C1361.3,823.0 1355.2,824.9 1353.6,824.6 C1352.1,824.3 1345.1,819.7 1344.1,818.5 C1343.2,817.3 1342.2,811.3 1342.4,809.8 C1342.6,808.4 1346.8,803.3 1346.7,801.2 C1346.6,799.0 1341.9,787.2 1341.5,783.8 C1341.2,780.5 1341.8,764.4 1342.4,761.3 C1343.0,758.3 1343.8,751.4 1348.4,747.5 C1353.1,743.6 1393.0,717.3 1397.8,714.5Z" stroke-width="1.95" fill="#fff" />
<path d="M1348.4,747.5 C1347.6,748.6 1345.0,751.5 1343.2,754.4 C1341.5,757.3 1339.1,759.9 1338.1,764.8 C1337.0,769.7 1336.5,777.8 1337.2,783.8 C1337.9,789.9 1341.9,796.6 1342.4,801.2 C1342.8,805.8 1339.5,808.7 1339.8,811.6 C1340.1,814.5 1343.4,817.4 1344.1,818.5" stroke-width="1.82" fill="none" />
<path d="M1351.9,754.4 C1351.0,756.1 1347.7,759.9 1346.7,764.8 C1345.7,769.7 1345.3,778.1 1345.8,783.8 C1346.4,789.6 1349.5,796.8 1350.2,799.4" stroke-width="3.12" fill="none" />
<ellipse cx="1382.2" cy="771.7" rx="25.6" ry="38.1" fill="none" stroke="#000" stroke-width="1.82" transform="rotate(25 1382.2 771.7)" />
<ellipse cx="1381.4" cy="772.6" rx="19.4" ry="31.2" fill="none" stroke="#000" stroke-width="2.08" transform="rotate(25 1381.4 772.6)" />
<path d="M1388.3,744.0 C1389.5,746.3 1394.4,752.7 1395.2,757.9 C1396.1,763.1 1395.2,769.7 1393.5,775.2 C1391.8,780.7 1386.3,788.2 1384.8,790.8" stroke-width="1.69" fill="none" />
<path d="M1393.5,745.7 C1394.7,748.3 1399.9,755.8 1400.4,761.3 C1401.0,766.8 1397.6,775.8 1397.0,778.6" stroke-width="1.69" fill="none" />
<path d="M1362.3,783.8 C1363.8,785.3 1367.8,790.8 1371.0,792.5 C1374.2,794.2 1379.6,794.0 1381.4,794.2" stroke-width="2.86" fill="none" />
<ellipse cx="1406.5" cy="728.4" rx="6.2" ry="8.0" fill="#fff" stroke="#000" stroke-width="1.95" transform="rotate(25 1406.5 728.4)" />
<ellipse cx="1406.5" cy="728.4" rx="3.1" ry="4.5" fill="none" stroke="#000" stroke-width="2.34" transform="rotate(25 1406.5 728.4)" />
<ellipse cx="1356.2" cy="757.9" rx="6.2" ry="8.0" fill="#fff" stroke="#000" stroke-width="1.95" transform="rotate(25 1356.2 757.9)" />
<ellipse cx="1356.2" cy="757.9" rx="3.1" ry="4.5" fill="none" stroke="#000" stroke-width="2.34" transform="rotate(25 1356.2 757.9)" />
<ellipse cx="1406.5" cy="787.3" rx="6.2" ry="8.0" fill="#fff" stroke="#000" stroke-width="1.95" transform="rotate(25 1406.5 787.3)" />
<ellipse cx="1406.5" cy="787.3" rx="3.1" ry="4.5" fill="none" stroke="#000" stroke-width="2.34" transform="rotate(25 1406.5 787.3)" />
<ellipse cx="1356.2" cy="815.9" rx="6.2" ry="8.0" fill="#fff" stroke="#000" stroke-width="1.95" transform="rotate(25 1356.2 815.9)" />
<ellipse cx="1356.2" cy="815.9" rx="3.1" ry="4.5" fill="none" stroke="#000" stroke-width="2.34" transform="rotate(25 1356.2 815.9)" />
<path d="M1442.9,865.3 L1448.1,860.1 L1455.0,860.1 L1460.2,865.3 L1459.4,873.1 L1454.2,877.4 L1447.2,877.4 L1442.4,872.2Z" stroke-width="2.08" fill="#fff" />
<ellipse cx="1453.3" cy="869.6" rx="3.5" ry="4.9" fill="none" stroke="#000" stroke-width="2.86" transform="rotate(25 1453.3 869.6)" />
<path d="M1448.1,860.1 L1449.0,867.0 L1447.2,877.4" stroke-width="1.56" fill="none" />
<path d="M1449.0,867.0 L1442.4,872.2" stroke-width="1.56" fill="none" />
<g transform="translate(1216.7 163.3) rotate(-30)" >
<path d="M0,-28 L3.5,-28 A18.7,28 0 0 1 3.5,28 L0,28" stroke-width="1.69" fill="#fff"/>
<ellipse cx="0.0" cy="0.0" rx="16.7" ry="25.8" stroke-width="5.98" fill="#fff"/>
<ellipse cx="0.0" cy="0.0" rx="18.7" ry="28.0" stroke-width="1.69" fill="none"/>
<ellipse cx="1.5" cy="0.0" rx="12.2" ry="19.5" stroke-width="2.08" fill="#fff"/>
<ellipse cx="2.5" cy="0.0" rx="10.4" ry="17.0" stroke-width="1.56" fill="none"/>
</g>
<g transform="translate(123.7 1779.2) rotate(-30)" >
<path d="M0,-27.7 L3.5,-27.7 A19,27.7 0 0 1 3.5,27.7 L0,27.7" stroke-width="1.69" fill="#fff"/>
<ellipse cx="0.0" cy="0.0" rx="17.0" ry="25.5" stroke-width="5.98" fill="#fff"/>
<ellipse cx="0.0" cy="0.0" rx="19.0" ry="27.7" stroke-width="1.69" fill="none"/>
<ellipse cx="1.5" cy="0.0" rx="12.5" ry="19.2" stroke-width="2.08" fill="#fff"/>
<ellipse cx="2.5" cy="0.0" rx="10.7" ry="16.7" stroke-width="1.56" fill="none"/>
</g>
<path d="M1129.2,155.9 C1129.7,154.5 1134.3,151.7 1135.6,151.6 C1136.9,151.5 1141.0,153.8 1142.0,154.8 C1143.0,155.8 1143.4,159.5 1145.2,161.2 C1147.0,162.9 1157.5,169.6 1160.1,171.9 C1162.8,174.1 1169.9,180.9 1171.9,183.6 C1173.8,186.3 1178.2,196.3 1179.3,198.5 C1180.5,200.8 1182.4,204.3 1183.6,206.0 C1184.8,207.7 1190.2,214.1 1191.1,215.6 C1191.9,217.1 1192.6,219.9 1192.1,220.9 C1191.7,222.0 1188.6,225.6 1186.8,226.3 C1185.0,226.9 1176.3,226.7 1174.0,227.3 C1171.7,228.0 1167.2,232.3 1163.3,232.7 C1159.5,233.0 1138.9,231.6 1135.6,231.1 C1132.3,230.5 1131.0,228.5 1130.3,227.3 C1129.5,226.2 1128.1,221.7 1128.1,219.9 C1128.1,218.1 1130.5,212.1 1130.3,209.2 C1130.1,206.3 1126.3,194.6 1126.0,191.1 C1125.7,187.5 1126.6,176.6 1127.1,174.0 C1127.5,171.4 1130.1,167.3 1130.3,165.5 C1130.5,163.7 1128.7,157.3 1129.2,155.9Z" stroke-width="1.95" fill="#fff" />
<path d="M1140.9,156.9 C1143.2,159.8 1150.4,168.7 1154.8,174.0 C1159.2,179.3 1164.0,183.6 1167.6,188.9 C1171.2,194.3 1173.3,201.2 1176.1,206.0 C1179.0,210.8 1183.2,215.8 1184.7,217.7" stroke-width="3.90" fill="none" />
<path d="M1137.7,160.1 C1140.2,162.8 1148.4,171.0 1152.7,176.1 C1156.9,181.3 1160.0,185.7 1163.3,191.1 C1166.7,196.4 1170.1,203.5 1172.9,208.1 C1175.8,212.8 1179.2,217.0 1180.4,218.8" stroke-width="1.56" fill="none" />
<ellipse cx="1148.9" cy="202.8" rx="14.4" ry="24.0" fill="none" stroke="#000" stroke-width="4.42" transform="rotate(-30 1148.9 202.8)" />
<ellipse cx="1151.1" cy="203.9" rx="10.2" ry="18.3" fill="none" stroke="#000" stroke-width="1.95" transform="rotate(-30 1151.1 203.9)" />
<ellipse cx="1134.0" cy="160.1" rx="2.8" ry="4.3" fill="none" stroke="#000" stroke-width="2.34" transform="rotate(-25 1134.0 160.1)" />
<ellipse cx="1182.5" cy="219.9" rx="2.8" ry="4.3" fill="none" stroke="#000" stroke-width="2.34" transform="rotate(-25 1182.5 219.9)" />
<ellipse cx="1134.5" cy="223.1" rx="2.8" ry="4.3" fill="none" stroke="#000" stroke-width="2.34" transform="rotate(-25 1134.5 223.1)" />
<path d="M1132.4,168.7 L1140.9,168.1 L1141.5,171.3 L1132.9,171.9Z" stroke-width="2.08" fill="none" />
<path d="M1172.9,210.3 L1176.7,210.3 L1176.1,220.9 L1172.9,220.9Z" stroke-width="2.86" fill="none" />
<path d="M1132.4,215.6 L1137.7,213.5 L1140.9,222.0 L1136.7,226.3" stroke-width="2.86" fill="none" />
<path d="M161.1,1700.3 C161.5,1698.8 166.6,1696.1 167.5,1696.0 C168.3,1695.9 171.7,1696.0 173.9,1698.1 C176.0,1700.3 196.2,1723.9 199.5,1728.0 C202.7,1732.1 221.4,1756.4 222.9,1758.9 C224.5,1761.4 223.3,1764.6 222.9,1765.3 C222.6,1766.0 218.7,1769.4 217.6,1769.6 C216.5,1769.8 208.2,1768.2 206.9,1768.5 C205.7,1768.8 200.5,1773.4 198.4,1773.9 C196.3,1774.4 177.6,1776.2 176.0,1776.0 C174.4,1775.8 174.2,1770.9 173.9,1770.7 C173.6,1770.5 172.3,1772.6 171.7,1772.8 C171.2,1773.0 166.1,1774.2 165.3,1773.9 C164.6,1773.5 160.8,1768.3 160.5,1767.5 C160.2,1766.6 161.0,1764.4 161.1,1761.1 C161.1,1757.7 161.6,1721.4 161.6,1717.3 C161.6,1713.3 160.7,1701.7 161.1,1700.3Z" stroke-width="1.95" fill="#fff" />
<path d="M170.7,1699.2 C175.1,1704.4 189.0,1719.8 197.3,1730.1 C205.7,1740.4 216.9,1755.9 220.8,1761.1" stroke-width="3.90" fill="none" />
<path d="M166.9,1701.3 C171.3,1706.3 184.8,1721.1 193.1,1731.2 C201.3,1741.3 212.6,1757.0 216.5,1762.1" stroke-width="1.56" fill="none" />
<ellipse cx="165.3" cy="1702.9" rx="2.6" ry="4.1" fill="none" stroke="#000" stroke-width="2.21" transform="rotate(-25 165.3 1702.9)" />
<ellipse cx="213.9" cy="1764.3" rx="2.6" ry="4.1" fill="none" stroke="#000" stroke-width="2.21" transform="rotate(-25 213.9 1764.3)" />
<ellipse cx="165.9" cy="1768.0" rx="2.6" ry="4.1" fill="none" stroke="#000" stroke-width="2.21" transform="rotate(-25 165.9 1768.0)" />
<ellipse cx="175.5" cy="1748.3" rx="20.3" ry="29.7" fill="#fff" stroke="#000" stroke-width="1.82" transform="rotate(-30 175.5 1748.3)" />
<ellipse cx="176.9" cy="1748.3" rx="19.7" ry="28.8" fill="#fff" stroke="#000" stroke-width="2.86" transform="rotate(-30 176.9 1748.3)" />
<ellipse cx="177.9" cy="1748.8" rx="17.1" ry="25.6" fill="none" stroke="#000" stroke-width="1.69" transform="rotate(-30 177.9 1748.8)" />
<ellipse cx="182.4" cy="1746.1" rx="12.3" ry="20.8" fill="none" stroke="#000" stroke-width="3.12" transform="rotate(-30 182.4 1746.1)" />
<ellipse cx="185.1" cy="1746.7" rx="9.1" ry="17.1" fill="none" stroke="#000" stroke-width="1.69" transform="rotate(-30 185.1 1746.7)" />
<path d="M842.8,53.0 L842.8,100.7" stroke-width="1.82" fill="none" />
<path d="M862.7,53.0 L862.7,102.0" stroke-width="1.82" fill="none" />
<path d="M842.8,100.7 C843.6,101.2 845.6,103.8 847.2,103.8 C848.7,103.8 850.5,100.7 852.1,100.7 C853.8,100.7 855.3,103.6 857.1,103.8 C858.8,104.0 861.7,102.3 862.7,102.0" stroke-width="1.82" fill="none" />
<ellipse cx="852.8" cy="53.0" rx="9.9" ry="5.6" fill="#fff" stroke="#000" stroke-width="1.82" />
<ellipse cx="852.8" cy="53.0" rx="6.2" ry="3.2" fill="none" stroke="#000" stroke-width="1.69" />
<ellipse cx="857.7" cy="100.7" rx="3.7" ry="2.5" fill="none" stroke="#000" stroke-width="1.56" />
<path d="M842.8,111.9 C843.6,111.5 845.6,109.3 847.2,109.4 C848.7,109.5 850.4,112.5 852.1,112.5 C853.9,112.5 856.0,109.5 857.7,109.4 C859.5,109.3 861.8,111.5 862.7,111.9" stroke-width="1.82" fill="none" />
<ellipse cx="848.4" cy="112.5" rx="3.7" ry="2.2" fill="none" stroke="#000" stroke-width="1.56" />
<path d="M842.8,111.9 L842.8,151.5" stroke-width="1.82" fill="none" />
<path d="M862.7,111.9 L862.7,151.5" stroke-width="1.82" fill="none" />
<path d="M842.2,151.5 L842.2,168.9" stroke-width="1.95" fill="none" />
<path d="M864.5,155.2 L864.5,168.9" stroke-width="1.95" fill="none" />
<path d="M842.8,151.5 C843.6,152.0 845.4,153.9 847.2,154.6 C848.9,155.3 851.3,155.9 853.4,155.9 C855.4,155.9 858.0,155.3 859.6,154.6 C861.1,153.9 862.1,152.0 862.7,151.5" stroke-width="1.82" fill="none" />
<path d="M842.2,159.0 C843.0,159.6 845.3,161.9 847.2,162.7 C849.0,163.5 851.3,163.9 853.4,163.9 C855.4,163.9 857.7,163.5 859.6,162.7 C861.4,161.9 863.7,159.6 864.5,159.0" stroke-width="2.60" fill="none" />
<path d="M842.2,168.9 C842.7,169.6 843.5,172.2 845.3,173.2 C847.2,174.2 850.7,175.1 853.4,175.1 C856.1,175.1 859.6,174.2 861.4,173.2 C863.3,172.2 864.0,169.6 864.5,168.9" stroke-width="1.95" fill="none" />
<path d="M847.8,174.4 L847.8,193.7" stroke-width="1.82" fill="none" />
<path d="M858.9,174.4 L858.9,193.7" stroke-width="1.82" fill="none" />
<path d="M847.8,193.7 C848.3,194.0 850.0,195.4 850.9,195.9 C851.8,196.3 852.5,196.4 853.4,196.4 C854.2,196.4 855.2,196.3 856.1,195.9 C857.0,195.4 858.5,194.0 858.9,193.7" stroke-width="1.82" fill="none" />
<path d="M847.8,176.9 C848.7,177.2 851.5,178.8 853.4,178.8 C855.2,178.8 858.0,177.2 858.9,176.9" stroke-width="1.69" fill="none" />
<path d="M836.0,156.5 L841.6,159.0" stroke-width="2.86" fill="none" />
<path d="M836.0,162.7 L841.6,164.5" stroke-width="2.86" fill="none" />
<path d="M839.7,214.7 C839.9,214.2 839.7,212.4 841.0,211.6 C842.2,210.8 845.7,209.6 847.2,209.8 C848.6,210.0 849.7,211.8 849.7,212.9 C849.7,213.9 847.0,215.0 847.2,216.0 C847.4,216.9 850.7,217.7 850.9,218.4 C851.1,219.2 848.8,220.0 848.4,220.3" stroke-width="3.38" fill="none" />
<path d="M847.2,209.8 C848.0,209.4 850.3,207.5 852.1,207.3 C854.0,207.1 857.0,207.6 858.3,208.5 C859.7,209.5 860.6,211.6 860.2,212.9 C859.8,214.1 857.6,215.4 855.8,216.0 C854.1,216.5 850.7,216.0 849.7,216.0" stroke-width="2.34" fill="none" />
<path d="M847.8,235.2 L847.8,259.3" stroke-width="1.82" fill="none" />
<path d="M858.3,235.2 L858.3,259.3" stroke-width="1.82" fill="none" />
<ellipse cx="853.0" cy="235.2" rx="5.2" ry="2.5" fill="#fff" stroke="#000" stroke-width="1.82" />
<ellipse cx="853.0" cy="234.8" rx="2.2" ry="1.0" fill="none" stroke="#000" stroke-width="1.56" />
<path d="M847.8,259.3 C848.3,259.7 850.0,261.3 850.9,261.8 C851.8,262.3 852.3,262.2 853.0,262.2 C853.7,262.2 854.3,262.3 855.2,261.8 C856.1,261.3 857.8,259.7 858.3,259.3" stroke-width="1.82" fill="none" />
<path d="M847.2,249.4 C848.1,249.9 851.0,252.1 853.0,252.1 C855.0,252.1 858.0,249.9 858.9,249.4" stroke-width="3.90" fill="none" />
<path d="M889.9,86.1 A14.3,7.4 0 0 0 918.4,86.1 L918.4,77.2 L889.9,77.2Z" stroke-width="2.08" fill="#fff" />
<ellipse cx="904.2" cy="77.2" rx="14.3" ry="6.9" fill="#fff" stroke="#000" stroke-width="2.08" />
<ellipse cx="905.7" cy="77.5" rx="10.4" ry="4.5" fill="none" stroke="#000" stroke-width="1.82" />
<polyline points="895.7,76.2 895.7,81.9" stroke-width="1.95" />
<path d="M896.7,82.8 Q906.7,77.4 915.3,81.9" stroke-width="1.82" fill="none" />
<path d="M888.3,70.5 L896.7,70.7 L895.5,75.4 L889.9,77.2Z" stroke-width="1.95" fill="#000" />
<path d="M889.9,123.3 A14.3,7.4 0 0 0 918.4,123.3 L918.4,114.3 L889.9,114.3Z" stroke-width="2.08" fill="#fff" />
<ellipse cx="904.2" cy="114.3" rx="14.3" ry="6.9" fill="#fff" stroke="#000" stroke-width="2.08" />
<ellipse cx="905.7" cy="114.7" rx="10.4" ry="4.5" fill="none" stroke="#000" stroke-width="1.82" />
<polyline points="895.7,113.4 895.7,119.1" stroke-width="1.95" />
<path d="M896.7,119.9 Q906.7,114.6 915.3,119.1" stroke-width="1.82" fill="none" />
<path d="M888.3,107.7 L896.7,107.9 L895.5,112.6 L889.9,114.3Z" stroke-width="1.95" fill="#000" />
<ellipse cx="634.5" cy="243.3" rx="16.2" ry="8.2" fill="#000" stroke="#000" stroke-width="1.69" transform="rotate(-15 634.5 243.3)" />
<ellipse cx="636.0" cy="247.6" rx="9.0" ry="2.2" fill="#fff" stroke="#000" stroke-width="1.30" transform="rotate(-15 636.0 247.6)" />
<ellipse cx="633.1" cy="235.4" rx="20.8" ry="6.4" fill="#fff" stroke="#000" stroke-width="2.08" transform="rotate(-15 633.1 235.4)" />
<ellipse cx="631.3" cy="229.5" rx="13.3" ry="4.3" fill="#fff" stroke="#000" stroke-width="1.82" transform="rotate(-15 631.3 229.5)" />
<ellipse cx="630.9" cy="226.3" rx="13.3" ry="4.3" fill="#fff" stroke="#000" stroke-width="1.82" transform="rotate(-15 630.9 226.3)" />
<polyline points="618.3,230.0 618.0,226.5" stroke-width="1.69" />
<polyline points="644.0,226.0 644.3,222.8" stroke-width="1.69" />
<polyline points="638.0,222.5 638.5,228.0" stroke-width="1.56" />
<polyline points="624.0,228.0 624.3,232.5" stroke-width="1.56" />
<ellipse cx="641.9" cy="272.7" rx="15.6" ry="3.7" fill="none" stroke="#000" stroke-width="4.68" transform="rotate(-15 641.9 272.7)" />
<path d="M1164.0,346.0 L1169.0,341.0 L1177.0,341.0 L1182.4,347.0 L1182.4,356.0 L1178.0,361.0 L1170.0,361.0 L1165.0,357.0Z" stroke-width="1.95" fill="#fff" />
<path d="M1169.0,341.0 L1170.0,350.0 L1170.0,361.0" stroke-width="1.56" fill="none" />
<path d="M1170.0,350.0 L1182.4,347.0" stroke-width="1.56" fill="none" />
<path d="M1164.0,346.0 L1170.0,350.0" stroke-width="1.56" fill="none" />
<ellipse cx="1163.0" cy="356.6" rx="4.4" ry="6.0" fill="#fff" stroke="#000" stroke-width="2.08" />
<ellipse cx="1165.6" cy="354.0" rx="4.0" ry="5.6" fill="none" stroke="#000" stroke-width="3.12" />
<ellipse cx="1167.6" cy="352.4" rx="3.6" ry="5.2" fill="none" stroke="#000" stroke-width="3.12" />
<ellipse cx="1161.0" cy="358.0" rx="3.2" ry="4.8" fill="#fff" stroke="#000" stroke-width="1.95" />
<text class="lb" x="204.7" y="302.3" font-size="24.5" textLength="72.6" lengthAdjust="spacingAndGlyphs">13101</text>
<text class="lb" x="181.4" y="426.7" font-size="24.5" textLength="77.2" lengthAdjust="spacingAndGlyphs">92144</text>
<text class="lb" x="83.7" y="485.0" font-size="24.5" textLength="74.9" lengthAdjust="spacingAndGlyphs">13089</text>
<text class="lb" x="219.4" y="581.7" font-size="24.5" textLength="140.2" lengthAdjust="spacingAndGlyphs">92180/A~D</text>
<text class="lb" x="361.4" y="541.0" font-size="24.5" textLength="77.2" lengthAdjust="spacingAndGlyphs">92150</text>
<text class="lb" x="142.0" y="644.0" font-size="24.5" textLength="91.0" lengthAdjust="spacingAndGlyphs">13088A</text>
<text class="lb" x="52.0" y="700.0" font-size="24.5" textLength="76.0" lengthAdjust="spacingAndGlyphs">13088</text>
<text class="lb" x="338.0" y="706.7" font-size="24.5" textLength="78.3" lengthAdjust="spacingAndGlyphs">49035</text>
<text class="lb" x="151.4" y="807.3" font-size="24.5" textLength="77.6" lengthAdjust="spacingAndGlyphs">92022</text>
<text class="lb" x="434.7" y="971.7" font-size="24.5" textLength="77.3" lengthAdjust="spacingAndGlyphs">92022</text>
<text class="lb" x="709.4" y="135.0" font-size="24.5" textLength="75.2" lengthAdjust="spacingAndGlyphs">92191</text>
<text class="lb" x="708.0" y="220.7" font-size="24.5" textLength="76.0" lengthAdjust="spacingAndGlyphs">92037</text>
<text class="lb" x="713.7" y="258.3" font-size="24.5" textLength="78.3" lengthAdjust="spacingAndGlyphs">92005</text>
<text class="lb" x="478.7" y="249.0" font-size="24.5" textLength="77.6" lengthAdjust="spacingAndGlyphs">92066</text>
<text class="lb" x="473.7" y="285.0" font-size="24.5" textLength="94.3" lengthAdjust="spacingAndGlyphs">92055A</text>
<text class="lb" x="973.7" y="91.7" font-size="24.5" textLength="93.6" lengthAdjust="spacingAndGlyphs">92037A</text>
<text class="lb" x="973.7" y="129.0" font-size="24.5" textLength="93.6" lengthAdjust="spacingAndGlyphs">92037A</text>
<text class="lb" x="1161.0" y="65.0" font-size="24.5" textLength="43.6" lengthAdjust="spacingAndGlyphs">120</text>
<text class="lb" x="998.7" y="185.0" font-size="24.5" textLength="78.6" lengthAdjust="spacingAndGlyphs">92033</text>
<text class="lb" x="899.4" y="225.7" font-size="24.5" textLength="93.6" lengthAdjust="spacingAndGlyphs">92055D</text>
<text class="lb" x="1185.4" y="265.0" font-size="24.5" textLength="93.2" lengthAdjust="spacingAndGlyphs">92049A</text>
<text class="lb" x="1125.4" y="312.3" font-size="24.5" textLength="75.9" lengthAdjust="spacingAndGlyphs">11012</text>
<text class="lb" x="1048.7" y="340.7" font-size="24.5" textLength="78.6" lengthAdjust="spacingAndGlyphs">92143</text>
<text class="lb" x="959.7" y="387.7" font-size="24.5" textLength="93.9" lengthAdjust="spacingAndGlyphs">92026A</text>
<text class="lb" x="1140.7" y="438.0" font-size="24.5" textLength="77.6" lengthAdjust="spacingAndGlyphs">92067</text>
<text class="lb" x="1083.7" y="469.0" font-size="24.5" textLength="77.6" lengthAdjust="spacingAndGlyphs">92065</text>
<text class="lb" x="973.7" y="485.8" font-size="24.5" textLength="78.4" lengthAdjust="spacingAndGlyphs">92055</text>
<text class="lb" x="1059.8" y="530.6" font-size="24.5" textLength="77.8" lengthAdjust="spacingAndGlyphs">92026</text>
<text class="lb" x="1141.2" y="560.3" font-size="24.5" textLength="94.3" lengthAdjust="spacingAndGlyphs">92055C</text>
<text class="lb" x="1217.1" y="595.8" font-size="24.5" textLength="123.6" lengthAdjust="spacingAndGlyphs">92025K~P</text>
<text class="lb" x="1363.1" y="654.5" font-size="24.5" textLength="77.7" lengthAdjust="spacingAndGlyphs">41046</text>
<text class="lb" x="994.5" y="684.6" font-size="24.5" textLength="77.8" lengthAdjust="spacingAndGlyphs">92116</text>
<text class="lb" x="1054.3" y="723.1" font-size="24.5" textLength="139.0" lengthAdjust="spacingAndGlyphs">92027/A~J</text>
<text class="lb" x="1045.9" y="772.6" font-size="24.5" textLength="77.8" lengthAdjust="spacingAndGlyphs">92116</text>
<text class="lb" x="1144.2" y="849.7" font-size="24.5" textLength="92.4" lengthAdjust="spacingAndGlyphs">92055B</text>
<text class="lb" x="1220.8" y="887.1" font-size="24.5" textLength="93.5" lengthAdjust="spacingAndGlyphs">92022A</text>
<text class="lb" x="1287.9" y="929.6" font-size="24.5" textLength="92.4" lengthAdjust="spacingAndGlyphs">92015A</text>
<text class="lb" x="1404.5" y="954.9" font-size="24.5" textLength="77.4" lengthAdjust="spacingAndGlyphs">92015</text>
<text class="lb" x="951.6" y="934.0" font-size="24.5" textLength="138.3" lengthAdjust="spacingAndGlyphs">92025/A~E</text>
<text class="lb" x="1088.0" y="1007.4" font-size="24.5" textLength="77.1" lengthAdjust="spacingAndGlyphs">92049</text>
<text class="lb" x="1169.8" y="1042.2" font-size="24.5" textLength="76.7" lengthAdjust="spacingAndGlyphs">92028</text>
<text class="lb" x="1243.9" y="1087.3" font-size="24.5" textLength="92.4" lengthAdjust="spacingAndGlyphs">92022B</text>
<text class="lb" x="1063.9" y="1204.8" font-size="24.5" textLength="78.6" lengthAdjust="spacingAndGlyphs">59266</text>
<text class="lb" x="622.7" y="611.3" font-size="24.5" textLength="43.4" lengthAdjust="spacingAndGlyphs">601</text>
<text class="lb" x="738.2" y="616.1" font-size="24.5" textLength="76.4" lengthAdjust="spacingAndGlyphs">14055</text>
<text class="lb" x="881.4" y="636.7" font-size="24.5" textLength="42.6" lengthAdjust="spacingAndGlyphs">172</text>
<text class="lb" x="586.0" y="888.3" font-size="24.5" textLength="139.3" lengthAdjust="spacingAndGlyphs">92180/A~D</text>
<text class="lb" x="711.4" y="826.0" font-size="24.5" textLength="91.6" lengthAdjust="spacingAndGlyphs">13088A</text>
<text class="lb" x="807.0" y="774.0" font-size="24.5" textLength="76.0" lengthAdjust="spacingAndGlyphs">13088</text>
<text class="lb" x="779.7" y="991.7" font-size="24.5" textLength="75.6" lengthAdjust="spacingAndGlyphs">13089</text>
<text class="lb" x="689.5" y="1044.0" font-size="24.5" textLength="77.4" lengthAdjust="spacingAndGlyphs">92144</text>
<text class="lb" x="635.2" y="1082.5" font-size="24.5" textLength="78.5" lengthAdjust="spacingAndGlyphs">92150</text>
<text class="lb" x="530.7" y="1136.8" font-size="24.5" textLength="78.5" lengthAdjust="spacingAndGlyphs">92043</text>
<text class="lb" x="619.8" y="1333.0" font-size="24.5" textLength="92.5" lengthAdjust="spacingAndGlyphs">92055E</text>
<text class="lb" x="742.7" y="1324.5" font-size="24.5" textLength="44.4" lengthAdjust="spacingAndGlyphs">601</text>
<text class="lb" x="461.0" y="1378.8" font-size="24.5" textLength="91.4" lengthAdjust="spacingAndGlyphs">11012A</text>
<text class="lb" x="210.7" y="1011.2" font-size="24.5" textLength="93.1" lengthAdjust="spacingAndGlyphs">13101A</text>
<text class="lb" x="87.8" y="1165.2" font-size="24.5" textLength="60.9" lengthAdjust="spacingAndGlyphs">130A</text>
<text class="lb" x="364.7" y="1394.6" font-size="24.5" textLength="44.4" lengthAdjust="spacingAndGlyphs">130</text>
<text class="lb" x="361.7" y="1512.0" font-size="24.5" textLength="45.9" lengthAdjust="spacingAndGlyphs">130</text>
<text class="lb" x="251.7" y="1592.0" font-size="24.5" textLength="94.3" lengthAdjust="spacingAndGlyphs">92026A</text>
<text class="lb" x="189.4" y="1632.3" font-size="24.5" textLength="77.8" lengthAdjust="spacingAndGlyphs">92143</text>
<text class="lb" x="97.7" y="1664.2" font-size="24.5" textLength="44.8" lengthAdjust="spacingAndGlyphs">120</text>
<text class="lb" x="427.0" y="1724.0" font-size="24.5" textLength="44.5" lengthAdjust="spacingAndGlyphs">115</text>
<text class="lb" x="314.1" y="1754.0" font-size="24.5" textLength="92.4" lengthAdjust="spacingAndGlyphs">92055D</text>
<text class="lb" x="237.8" y="1790.0" font-size="24.5" textLength="78.1" lengthAdjust="spacingAndGlyphs">92033</text>
<text class="lb" x="493.7" y="1772.3" font-size="24.5" textLength="61.1" lengthAdjust="spacingAndGlyphs">130A</text>
<text class="lb" x="454.3" y="1818.5" font-size="24.5" textLength="76.7" lengthAdjust="spacingAndGlyphs">59266</text>
<text class="lb" x="175.5" y="1848.8" font-size="24.5" textLength="76.2" lengthAdjust="spacingAndGlyphs">11012</text>
<text class="lb" x="88.8" y="1882.6" font-size="24.5" textLength="94.5" lengthAdjust="spacingAndGlyphs">92049A</text>
<text class="lb" x="761.7" y="1485.2" font-size="24.5" textLength="122.9" lengthAdjust="spacingAndGlyphs">92025F~J</text>
<text class="lb" x="962.0" y="1655.0" font-size="24.5" textLength="78.2" lengthAdjust="spacingAndGlyphs">49006</text>
<text class="lb" x="1277.0" y="1861.2" font-size="24.5" textLength="92.7" lengthAdjust="spacingAndGlyphs">49006A</text>
<text class="lb" x="1358.7" y="69.3" font-size="22.5" textLength="69.3" lengthAdjust="spacingAndGlyphs">E3136</text>
<text x="283.8" y="1928" font-size="26" textLength="300" lengthAdjust="spacingAndGlyphs" font-family="'DejaVu Sans Condensed','DejaVu Sans','Liberation Sans',sans-serif" font-weight="400">Rendered by LeadVenture, Inc.</text>
<polyline points="241.7,308.3 241.7,362.3" stroke-width="1.69" />
<polyline points="22.7,362.3 461.0,362.3" stroke-width="1.69" />
<polyline points="22.7,362.3 22.7,811.7 466.0,1068.0" stroke-width="1.69" />
<polyline points="496.0,1085.0 519.2,1099.0 916.3,1099.0 916.3,732.7 761.7,732.7 500.0,580.0 460.3,556.7 460.3,398.3" stroke-width="1.69" />
<polyline points="389.3,419.3 564.0,319.3 522.0,557.0" stroke-width="1.69" />
<polyline points="522.0,557.0 630.7,502.0" stroke-width="1.69" />
<polyline points="220.0,434.3 220.0,488.3" stroke-width="1.69" />
<polyline points="120.7,492.7 120.7,546.0" stroke-width="1.69" />
<polyline points="290.0,501.7 290.0,556.0" stroke-width="1.69" />
<polyline points="400.0,463.3 400.0,515.7" stroke-width="1.69" />
<polyline points="186.7,565.0 186.7,618.3" stroke-width="1.69" />
<polyline points="89.0,622.7 89.0,675.0" stroke-width="1.69" />
<polyline points="375.0,472.7 390.0,463.3" stroke-width="1.69" />
<polyline points="81.7,598.3 36.0,622.7 65.0,626.7" stroke-width="1.69" />
<polyline points="789.3,126.7 843.3,126.7" stroke-width="1.69" />
<polyline points="786.7,211.7 840.0,211.7" stroke-width="1.69" />
<polyline points="793.3,249.0 848.3,249.0" stroke-width="1.69" />
<polyline points="557.3,239.3 613.3,239.3" stroke-width="1.69" />
<polyline points="568.3,276.7 625.0,276.7" stroke-width="1.69" />
<polyline points="852.5,269.3 852.5,420.0" stroke-width="1.69" />
<polyline points="642.7,278.3 649.3,300.7 685.0,293.3 700.7,358.3" stroke-width="1.69" />
<polyline points="918.3,83.3 971.7,83.3" stroke-width="1.69" />
<polyline points="918.3,120.0 971.7,120.0" stroke-width="1.69" />
<polyline points="1181.0,72.7 1181.0,126.0" stroke-width="1.69" />
<polyline points="1238.3,150.7 1267.3,135.0" stroke-width="1.69" />
<polyline points="1037.3,192.3 1037.3,246.7" stroke-width="1.69" />
<polyline points="946.7,232.3 946.7,286.0" stroke-width="1.69" />
<polyline points="1232.3,185.0 1232.3,239.0" stroke-width="1.69" />
<polyline points="1162.7,233.3 1162.7,286.7" stroke-width="1.69" />
<polyline points="1087.7,261.7 1087.7,316.7" stroke-width="1.69" />
<polyline points="1007.3,308.3 1007.3,362.7" stroke-width="1.69" />
<polyline points="893.3,351.0 958.3,313.3" stroke-width="1.69" />
<polyline points="1147.7,152.7 1164.3,143.3" stroke-width="1.69" />
<polyline points="1179.4,359.0 1179.4,413.6" stroke-width="1.69" />
<polyline points="1122.6,388.0 1122.6,444.0" stroke-width="1.69" />
<polyline points="1131.0,375.6 1158.0,360.0" stroke-width="1.69" />
<polyline points="894.7,418.0 926.7,400.7 1006.4,447.0 1111.0,387.0" stroke-width="1.69" />
<polyline points="645.9,532.7 645.9,586.0" stroke-width="1.69" />
<polyline points="775.5,538.0 775.5,590.0" stroke-width="1.69" />
<polyline points="902.1,558.0 902.1,611.3" stroke-width="1.69" />
<polyline points="880.8,482.0 936.0,514.0" stroke-width="1.69" />
<polyline points="857.3,527.3 886.7,544.7" stroke-width="1.69" />
<polyline points="1013.0,493.2 1013.0,546.3" stroke-width="1.69" />
<polyline points="1098.5,537.2 1098.5,590.3" stroke-width="1.69" />
<polyline points="1188.4,566.5 1188.4,619.7" stroke-width="1.69" />
<polyline points="1279.0,601.3 1279.0,654.5" stroke-width="1.69" />
<polyline points="1401.8,661.9 1401.8,715.0" stroke-width="1.69" />
<polyline points="1033.6,606.8 1033.6,660.0" stroke-width="1.69" />
<polyline points="1124.2,643.5 1124.2,696.7" stroke-width="1.69" />
<polyline points="1084.6,779.2 1084.6,832.4" stroke-width="1.69" />
<polyline points="1121.6,801.2 1430.4,801.2" stroke-width="1.69" />
<polyline points="1041.0,801.2 967.6,801.2 1012.3,825.8" stroke-width="1.69" />
<polyline points="1430.4,801.2 1410.2,788.4" stroke-width="1.69" />
<polyline points="1362.5,819.5 1445.0,861.7" stroke-width="1.69" />
<polyline points="1190.9,857.0 1190.9,911.3" stroke-width="1.69" />
<polyline points="1267.9,893.7 1267.9,946.8" stroke-width="1.69" />
<polyline points="1334.3,935.8 1334.3,990.8" stroke-width="1.69" />
<polyline points="1444.0,877.2 1444.0,929.6" stroke-width="1.69" />
<polyline points="1020.4,851.5 1020.4,909.1" stroke-width="1.69" />
<polyline points="1127.1,928.5 1127.1,982.8" stroke-width="1.69" />
<polyline points="1208.9,963.3 1208.9,1016.5" stroke-width="1.69" />
<polyline points="1289.9,1009.2 1289.9,1062.3" stroke-width="1.69" />
<polyline points="1102.8,1211.2 1102.8,1264.8" stroke-width="1.69" />
<polyline points="1366.0,1335.2 1440.0,1295.2" stroke-width="1.69" />
<polyline points="959.2,1394.0 992.8,1376.0" stroke-width="1.69" />
<polyline points="587.4,1917.5 587.4,1702.8 1316.0,1282.0 1374.0,1314.0" stroke-width="1.69" />
<polyline points="1398.0,1330.0 1489.0,1380.8 1489.0,1917.5 587.4,1917.5" stroke-width="1.69" />
<polyline points="533.8,1811.1 587.4,1811.1" stroke-width="1.69" />
<polyline points="840.0,1291.5 972.0,1291.2 834.5,1367.8" stroke-width="1.69" />
<polyline points="283.3,697.3 336.7,697.3" stroke-width="1.69" />
<polyline points="190.0,728.3 190.0,781.7" stroke-width="1.69" />
<polyline points="473.3,891.7 473.3,945.0" stroke-width="1.69" />
<polyline points="340.0,651.7 618.3,676.7 567.7,706.0" stroke-width="1.69" />
<polyline points="228.3,726.7 263.3,706.7" stroke-width="1.69" />
<polyline points="241.7,721.7 308.3,759.3 293.3,767.7" stroke-width="1.69" />
<polyline points="281.7,871.7 234.3,897.7 279.3,894.3" stroke-width="1.69" />
<polyline points="656.0,895.0 656.0,948.3" stroke-width="1.69" />
<polyline points="755.0,833.3 755.0,886.7" stroke-width="1.69" />
<polyline points="844.0,781.7 844.0,836.0" stroke-width="1.69" />
<polyline points="816.7,913.3 816.7,966.7" stroke-width="1.69" />
<polyline points="728.3,963.3 728.3,1019.0" stroke-width="1.69" />
<polyline points="875.0,850.0 905.0,833.0 886.0,833.0" stroke-width="1.69" />
<polyline points="581.5,1073.3 634.7,1073.3" stroke-width="1.69" />
<polyline points="475.2,1127.2 529.0,1127.2" stroke-width="1.69" />
<polyline points="666.6,1340.0 666.6,1392.4" stroke-width="1.69" />
<polyline points="765.6,1331.0 765.6,1381.4" stroke-width="1.69" />
<polyline points="505.5,1385.8 505.5,1438.7" stroke-width="1.69" />
<polyline points="824.3,1405.2 824.3,1458.8" stroke-width="1.69" />
<polyline points="568.7,1027.5 364.1,1145.0" stroke-width="1.69" />
<polyline points="590.7,1059.4 620.0,1044.7" stroke-width="1.69" />
<polyline points="462.8,1128.5 370.4,1181.7" stroke-width="1.69" />
<polyline points="256.0,1018.5 256.0,1071.7" stroke-width="1.69" />
<polyline points="195.1,1137.7 195.1,1071.7 316.1,1071.7 390.5,1115.0" stroke-width="1.69" />
<polyline points="410.0,1126.7 429.0,1138.4" stroke-width="1.69" />
<polyline points="450.3,1150.5 580.8,1224.4 580.8,1331.0 353.9,1331.0 209.8,1248.4" stroke-width="1.69" />
<polyline points="195.1,1200.0 195.1,1227.5" stroke-width="1.69" />
<polyline points="430.0,1229.2 450.6,1240.2" stroke-width="1.69" />
<polyline points="117.3,1172.5 117.3,1227.5" stroke-width="1.69" />
<polyline points="157.7,1214.7 260.4,1157.9" stroke-width="1.69" />
<polyline points="297.0,1184.6 98.3,1298.3 209.8,1298.3" stroke-width="1.69" />
<polyline points="385.8,1402.0 385.8,1455.2" stroke-width="1.69" />
<polyline points="383.9,1518.6 383.9,1572.5" stroke-width="1.69" />
<polyline points="298.9,1598.9 298.9,1653.2" stroke-width="1.69" />
<polyline points="228.1,1639.3 228.1,1693.5" stroke-width="1.69" />
<polyline points="119.2,1671.5 119.2,1724.7" stroke-width="1.69" />
<polyline points="448.0,1645.9 448.0,1699.0" stroke-width="1.69" />
<polyline points="360.5,1675.2 360.5,1728.4" stroke-width="1.69" />
<polyline points="276.9,1710.0 276.9,1764.3" stroke-width="1.69" />
<polyline points="523.7,1695.4 523.7,1748.5" stroke-width="1.69" />
<polyline points="213.0,1770.5 213.0,1822.0" stroke-width="1.69" />
<polyline points="135.7,1805.0 135.7,1856.6" stroke-width="1.69" />
<polyline points="85.1,1801.7 106.3,1790.0" stroke-width="1.69" />
<polyline points="421.7,1446.0 437.0,1436.8 559.5,1490.0" stroke-width="1.69" />
<polyline points="460.3,1478.3 444.3,1487.0 444.3,1549.4 460.3,1541.3" stroke-width="1.69" />
<polyline points="417.3,1564.0 444.3,1549.4" stroke-width="1.69" />
<polyline points="377.0,1633.0 497.2,1565.2" stroke-width="1.69" />
<polyline points="473.0,1622.0 497.2,1609.2 541.2,1645.9 572.3,1629.4" stroke-width="1.69" />
<polyline points="554.0,1664.2 578.6,1651.4 578.6,1546.8 544.8,1550.5" stroke-width="1.69" />
<polyline points="141.2,1718.0 161.3,1707.5" stroke-width="1.69" />
<polyline points="1001.6,1663.0 1001.6,1714.3" stroke-width="1.69" />
<polyline points="885.4,1885.0 885.4,1782.4 1115.9,1650.3 1115.9,1746.0" stroke-width="1.69" />
<polyline points="921.3,1762.3 921.3,1827.6" stroke-width="1.69" />
<polyline points="1019.3,1705.4 1019.3,1774.0" stroke-width="1.69" />
<polyline points="1323.6,1784.2 1323.6,1837.0" stroke-width="1.69" />
<polyline points="1194.3,1736.7 1194.3,1857.0 1451.9,1707.7 1451.9,1585.0" stroke-width="1.69" />
<polyline points="1285.3,1709.6 1285.3,1804.3" stroke-width="1.69" />
<polyline points="1350.6,1659.7 1350.6,1766.0" stroke-width="1.69" />
<polyline points="1403.4,1641.0 1403.4,1735.7" stroke-width="1.69" />
<circle cx="953.5" cy="524.8" r="19.2" fill="#fff" stroke-width="1.69"/>
<text class="lb" x="953.5" y="533.4" font-size="24" text-anchor="middle">A</text>
<circle cx="1285" cy="124.3" r="19.2" fill="#fff" stroke-width="1.69"/>
<text class="lb" x="1285" y="132.9" font-size="24" text-anchor="middle">B</text>
<circle cx="413.4" cy="1217.4" r="19.2" fill="#fff" stroke-width="1.69"/>
<text class="lb" x="413.4" y="1226.0" font-size="24" text-anchor="middle">A</text>
<circle cx="940.8" cy="1404.8" r="19.2" fill="#fff" stroke-width="1.69"/>
<text class="lb" x="940.8" y="1413.3999999999999" font-size="24" text-anchor="middle">B</text>
<circle cx="1456.8" cy="1284" r="19.2" fill="#fff" stroke-width="1.69"/>
<text class="lb" x="1456.8" y="1292.6" font-size="24" text-anchor="middle">C</text>
<circle cx="65.1" cy="1812.5" r="19.2" fill="#fff" stroke-width="1.69"/>
<text class="lb" x="65.1" y="1821.1" font-size="24" text-anchor="middle">C</text>
</svg>
</body></html>
